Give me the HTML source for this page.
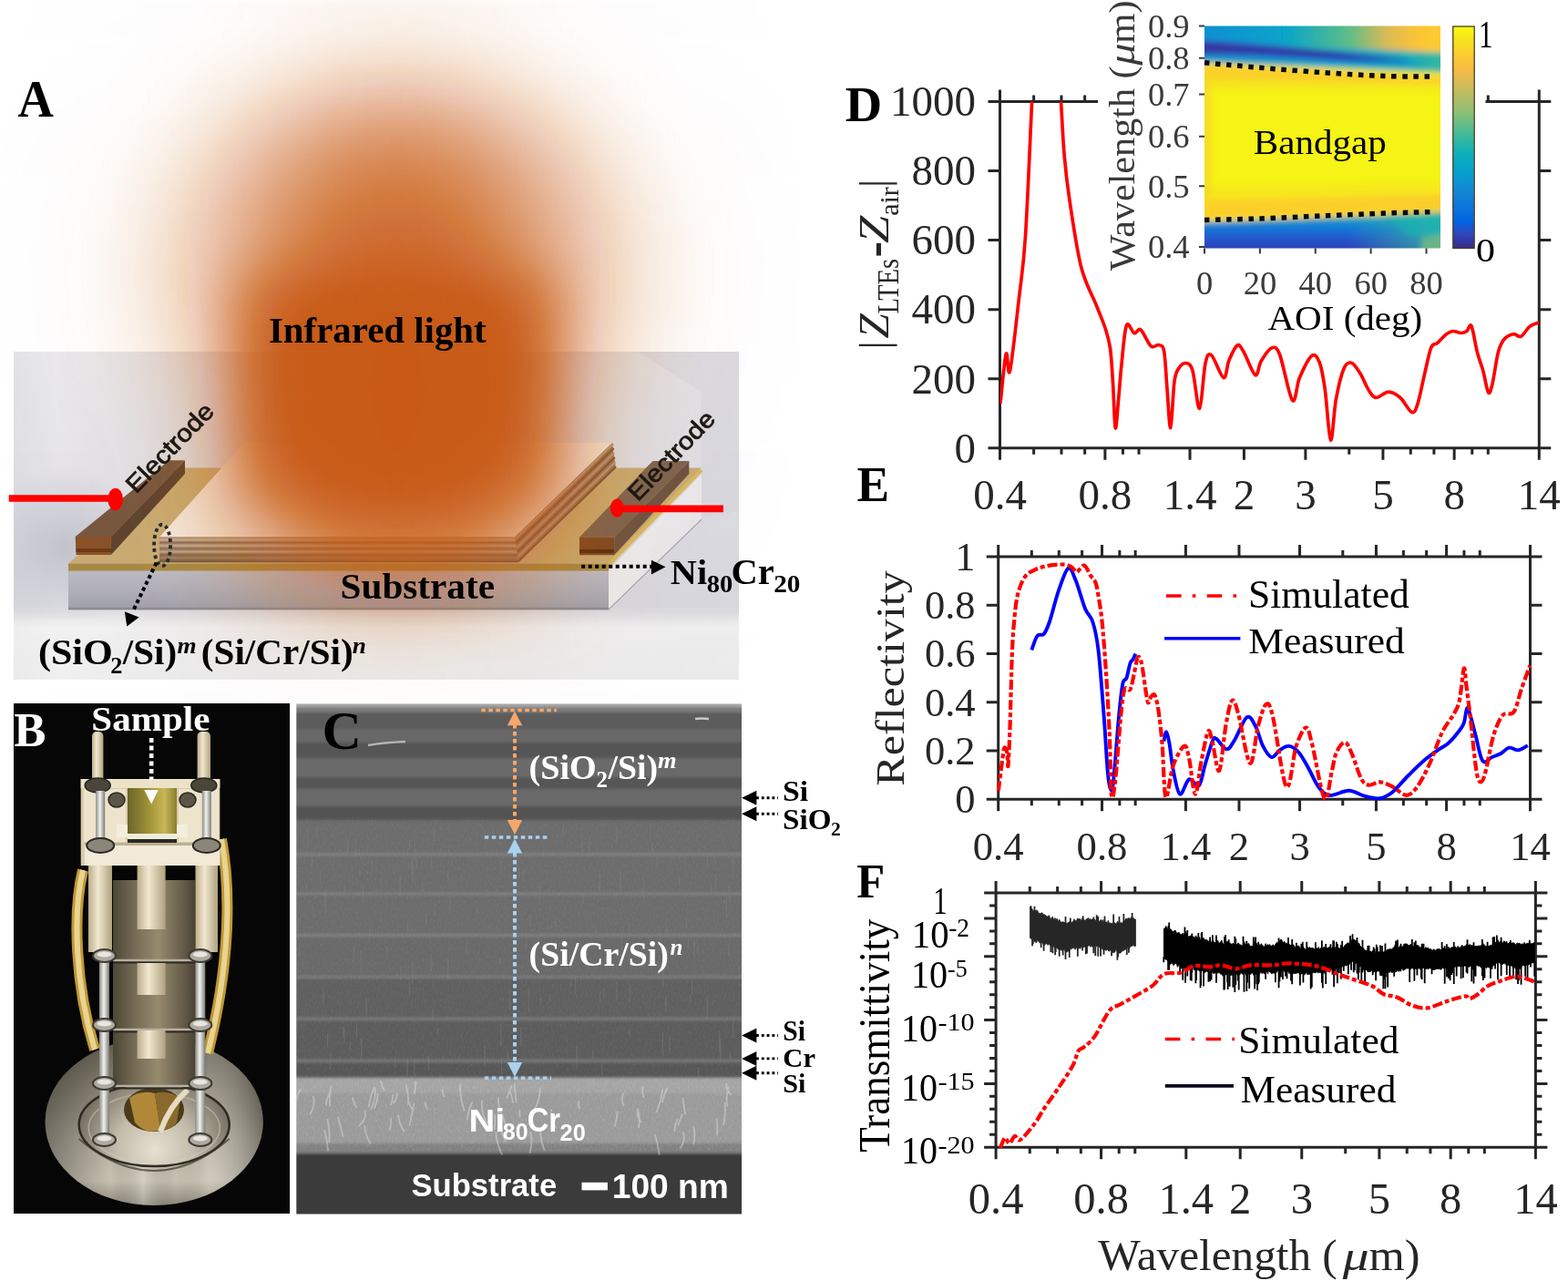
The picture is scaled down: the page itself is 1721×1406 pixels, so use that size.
<!DOCTYPE html><html><head><meta charset="utf-8"><title>Figure</title><style>html,body{margin:0;padding:0;background:#fff;}svg{display:block;}</style></head><body>
<svg width="1721" height="1406" viewBox="0 0 1721 1406">
<rect width="1721" height="1406" fill="#fff"/>
<defs>
<linearGradient id="gA_bg" x1="0" y1="0" x2="0" y2="1">
 <stop offset="0" stop-color="#e3e3e7"/><stop offset="0.45" stop-color="#dcdce2"/><stop offset="0.78" stop-color="#d6d6dc"/><stop offset="0.8" stop-color="#ececec"/><stop offset="1" stop-color="#ededed"/>
</linearGradient>
<linearGradient id="gA_bgx" x1="0" y1="0" x2="1" y2="0">
 <stop offset="0" stop-color="#ffffff" stop-opacity="0.0"/><stop offset="0.06" stop-color="#ffffff" stop-opacity="0.25"/><stop offset="0.25" stop-color="#ffffff" stop-opacity="0"/><stop offset="1" stop-color="#ffffff" stop-opacity="0"/>
</linearGradient>
<radialGradient id="gA_shadowL" cx="70" cy="600" r="90" gradientUnits="userSpaceOnUse">
 <stop offset="0" stop-color="#a8aab8" stop-opacity="0.55"/><stop offset="1" stop-color="#a8aab8" stop-opacity="0"/>
</radialGradient>
<linearGradient id="gA_sub" x1="0" y1="0" x2="0" y2="1">
 <stop offset="0" stop-color="#bcbcc6"/><stop offset="0.5" stop-color="#b0b0ba"/><stop offset="0.92" stop-color="#a2a2ac"/><stop offset="1" stop-color="#84848e"/>
</linearGradient>
<linearGradient id="gA_side" x1="0" y1="0" x2="1" y2="1">
 <stop offset="0" stop-color="#f4f4f4"/><stop offset="1" stop-color="#dedee2"/>
</linearGradient>
<linearGradient id="gA_film" x1="0" y1="0" x2="0" y2="1">
 <stop offset="0" stop-color="#a88868"/><stop offset="0.12" stop-color="#c8b098"/><stop offset="0.22" stop-color="#8a6a50"/><stop offset="0.34" stop-color="#c8b098"/><stop offset="0.46" stop-color="#8a6a50"/><stop offset="0.58" stop-color="#c0a890"/><stop offset="0.7" stop-color="#846448"/><stop offset="0.82" stop-color="#a08060"/><stop offset="1" stop-color="#6a5038"/>
</linearGradient>
<radialGradient id="gA_glow" cx="436" cy="380" r="340" gradientUnits="userSpaceOnUse" gradientTransform="translate(436 380) scale(1 1.08) translate(-436 -380)">
 <stop offset="0" stop-color="#c85a14" stop-opacity="1"/>
 <stop offset="0.40" stop-color="#c85c16" stop-opacity="1"/>
 <stop offset="0.47" stop-color="#ca601a" stop-opacity="0.9"/>
 <stop offset="0.56" stop-color="#cd6622" stop-opacity="0.72"/>
 <stop offset="0.64" stop-color="#d06c2a" stop-opacity="0.5"/>
 <stop offset="0.73" stop-color="#d47434" stop-opacity="0.3"/>
 <stop offset="0.815" stop-color="#d87c40" stop-opacity="0.15"/>
 <stop offset="0.9" stop-color="#dc8448" stop-opacity="0.05"/>
 <stop offset="1" stop-color="#e08c50" stop-opacity="0"/>
</radialGradient>
<linearGradient id="gA_floor" x1="0" y1="0" x2="0" y2="1">
 <stop offset="0" stop-color="#d8d8dc"/><stop offset="0.25" stop-color="#eeeeee"/><stop offset="1" stop-color="#eaeaea"/>
</linearGradient>
</defs>
<rect x="15" y="386" width="796" height="360" fill="url(#gA_bg)"/>
<rect x="15" y="669" width="796" height="77" fill="url(#gA_floor)"/>
<rect x="15" y="386" width="796" height="360" fill="url(#gA_bgx)"/>
<rect x="15" y="500" width="140" height="180" fill="url(#gA_shadowL)"/>
<path d="M700,386 H811 V560 L770,570 L770,430 Z" fill="#d4d4dc" opacity="0.5"/>
<path d="M75,626 L668,626 L668,669 L75,669 Z" fill="url(#gA_sub)"/>
<path d="M668,626 L770,521 L770,570 L668,669 Z" fill="url(#gA_side)"/>
<path d="M75,669 H668 L770,570" fill="none" stroke="#80808a" stroke-width="1.2" opacity="0.6"/>
<path d="M75,618.6 L195,513.6 L770,513.6 L668,618.6 Z" fill="#c9ab72"/>
<path d="M75,618.6 L668,618.6 L668,626.4 L75,626.4 Z" fill="#a88a44"/>
<path d="M668,620 L770,516" stroke="#d8b860" stroke-width="4"/>
<path d="M175,589.4 L268,486 L672,486 L565,589.4 Z" fill="#f4e8dc"/>
<path d="M175,589.4 L565,589.4 L569,617.3 L175,617.3 Z" fill="url(#gA_film)"/>
<path d="M565,589.4 L672,486 L676,514 L569,617.3 Z" fill="#a07858"/>
<path d="M566,591 L673,487" stroke="#b89878" stroke-width="2.2"/>
<path d="M566.6,596 L673.6,492" stroke="#7a5a40" stroke-width="2.2"/>
<path d="M567.2,601 L674.2,497" stroke="#b89878" stroke-width="2.2"/>
<path d="M567.8,606 L674.8,502" stroke="#7a5a40" stroke-width="2.2"/>
<path d="M568.4,611 L675.4,507" stroke="#b89878" stroke-width="2.2"/>
<path d="M569,616 L676,512" stroke="#7a5a40" stroke-width="2.2"/>
<path d="M82.7,589 L185.5,505.3 L203,505.3 L121.9,589 Z" fill="#785840"/>
<path d="M121.9,589 L203,505.3 L203,520 L121.9,609 Z" fill="#5e4430"/>
<path d="M82.7,589 L121.9,589 L121.9,609 L83.5,609 Z" fill="#8a5228"/>
<path d="M83.5,604 H121.9" stroke="#6a3a18" stroke-width="4"/>
<path d="M636,589.7 L716.4,506 L756.3,506 L674.2,589.7 Z" fill="#7e6450"/>
<path d="M674.2,589.7 L756.3,506 L756.3,520 L674.2,609.2 Z" fill="#6e5442"/>
<path d="M636,589.7 L674.2,589.7 L674.2,609.2 L636,609.2 Z" fill="#7e4a22"/>
<path d="M636,605 H674.2" stroke="#5a3010" stroke-width="4"/>
<defs><linearGradient id="gl0" gradientUnits="userSpaceOnUse" x1="436" y1="0" x2="886" y2="0" spreadMethod="reflect"><stop offset="0.000" stop-color="#c85a14" stop-opacity="0.074"/><stop offset="0.118" stop-color="#c85a14" stop-opacity="0.066"/><stop offset="0.502" stop-color="#c85a14" stop-opacity="0.008"/><stop offset="1.000" stop-color="#c85a14" stop-opacity="0.000"/></linearGradient><linearGradient id="gl1" gradientUnits="userSpaceOnUse" x1="436" y1="0" x2="886" y2="0" spreadMethod="reflect"><stop offset="0.000" stop-color="#c85a14" stop-opacity="0.077"/><stop offset="0.118" stop-color="#c85a14" stop-opacity="0.069"/><stop offset="0.502" stop-color="#c85a14" stop-opacity="0.008"/><stop offset="1.000" stop-color="#c85a14" stop-opacity="0.000"/></linearGradient><linearGradient id="gl2" gradientUnits="userSpaceOnUse" x1="436" y1="0" x2="886" y2="0" spreadMethod="reflect"><stop offset="0.000" stop-color="#c85a14" stop-opacity="0.084"/><stop offset="0.120" stop-color="#c85a14" stop-opacity="0.075"/><stop offset="0.504" stop-color="#c85a14" stop-opacity="0.009"/><stop offset="1.000" stop-color="#c85a14" stop-opacity="0.000"/></linearGradient><linearGradient id="gl3" gradientUnits="userSpaceOnUse" x1="436" y1="0" x2="886" y2="0" spreadMethod="reflect"><stop offset="0.000" stop-color="#c85a14" stop-opacity="0.095"/><stop offset="0.120" stop-color="#c85a14" stop-opacity="0.084"/><stop offset="0.371" stop-color="#c85a14" stop-opacity="0.030"/><stop offset="0.507" stop-color="#c85a14" stop-opacity="0.010"/><stop offset="1.000" stop-color="#c85a14" stop-opacity="0.000"/></linearGradient><linearGradient id="gl4" gradientUnits="userSpaceOnUse" x1="436" y1="0" x2="886" y2="0" spreadMethod="reflect"><stop offset="0.000" stop-color="#c85a14" stop-opacity="0.108"/><stop offset="0.122" stop-color="#c85a14" stop-opacity="0.096"/><stop offset="0.373" stop-color="#c85a14" stop-opacity="0.034"/><stop offset="0.509" stop-color="#c85a14" stop-opacity="0.012"/><stop offset="1.000" stop-color="#c85a14" stop-opacity="0.000"/></linearGradient><linearGradient id="gl5" gradientUnits="userSpaceOnUse" x1="436" y1="0" x2="886" y2="0" spreadMethod="reflect"><stop offset="0.000" stop-color="#c85a14" stop-opacity="0.126"/><stop offset="0.124" stop-color="#c85a14" stop-opacity="0.112"/><stop offset="0.378" stop-color="#c85a14" stop-opacity="0.039"/><stop offset="0.513" stop-color="#c85a14" stop-opacity="0.014"/><stop offset="0.680" stop-color="#c85a14" stop-opacity="0.002"/><stop offset="1.000" stop-color="#c85a14" stop-opacity="0.000"/></linearGradient><linearGradient id="gl6" gradientUnits="userSpaceOnUse" x1="436" y1="0" x2="886" y2="0" spreadMethod="reflect"><stop offset="0.000" stop-color="#c85a14" stop-opacity="0.148"/><stop offset="0.124" stop-color="#c85a14" stop-opacity="0.131"/><stop offset="0.380" stop-color="#c85a14" stop-opacity="0.046"/><stop offset="0.516" stop-color="#c85a14" stop-opacity="0.016"/><stop offset="0.682" stop-color="#c85a14" stop-opacity="0.003"/><stop offset="1.000" stop-color="#c85a14" stop-opacity="0.000"/></linearGradient><linearGradient id="gl7" gradientUnits="userSpaceOnUse" x1="436" y1="0" x2="886" y2="0" spreadMethod="reflect"><stop offset="0.000" stop-color="#c85a14" stop-opacity="0.174"/><stop offset="0.127" stop-color="#c85a14" stop-opacity="0.154"/><stop offset="0.384" stop-color="#c85a14" stop-opacity="0.054"/><stop offset="0.520" stop-color="#c85a14" stop-opacity="0.019"/><stop offset="0.687" stop-color="#c85a14" stop-opacity="0.003"/><stop offset="1.000" stop-color="#c85a14" stop-opacity="0.000"/></linearGradient><linearGradient id="gl8" gradientUnits="userSpaceOnUse" x1="436" y1="0" x2="886" y2="0" spreadMethod="reflect"><stop offset="0.000" stop-color="#c85a14" stop-opacity="0.204"/><stop offset="0.129" stop-color="#c85a14" stop-opacity="0.180"/><stop offset="0.387" stop-color="#c85a14" stop-opacity="0.064"/><stop offset="0.522" stop-color="#c85a14" stop-opacity="0.023"/><stop offset="0.689" stop-color="#c85a14" stop-opacity="0.004"/><stop offset="1.000" stop-color="#c85a14" stop-opacity="0.000"/></linearGradient><linearGradient id="gl9" gradientUnits="userSpaceOnUse" x1="436" y1="0" x2="886" y2="0" spreadMethod="reflect"><stop offset="0.000" stop-color="#c85a14" stop-opacity="0.238"/><stop offset="0.064" stop-color="#c85a14" stop-opacity="0.231"/><stop offset="0.131" stop-color="#c85a14" stop-opacity="0.210"/><stop offset="0.391" stop-color="#c85a14" stop-opacity="0.074"/><stop offset="0.527" stop-color="#c85a14" stop-opacity="0.026"/><stop offset="0.693" stop-color="#c85a14" stop-opacity="0.004"/><stop offset="1.000" stop-color="#c85a14" stop-opacity="0.000"/></linearGradient><linearGradient id="gl10" gradientUnits="userSpaceOnUse" x1="436" y1="0" x2="886" y2="0" spreadMethod="reflect"><stop offset="0.000" stop-color="#c85a14" stop-opacity="0.275"/><stop offset="0.064" stop-color="#c85a14" stop-opacity="0.267"/><stop offset="0.133" stop-color="#c85a14" stop-opacity="0.242"/><stop offset="0.396" stop-color="#c85a14" stop-opacity="0.085"/><stop offset="0.531" stop-color="#c85a14" stop-opacity="0.031"/><stop offset="0.696" stop-color="#c85a14" stop-opacity="0.005"/><stop offset="1.000" stop-color="#c85a14" stop-opacity="0.000"/></linearGradient><linearGradient id="gl11" gradientUnits="userSpaceOnUse" x1="436" y1="0" x2="886" y2="0" spreadMethod="reflect"><stop offset="0.000" stop-color="#c85a14" stop-opacity="0.315"/><stop offset="0.067" stop-color="#c85a14" stop-opacity="0.305"/><stop offset="0.136" stop-color="#c85a14" stop-opacity="0.277"/><stop offset="0.400" stop-color="#c85a14" stop-opacity="0.098"/><stop offset="0.536" stop-color="#c85a14" stop-opacity="0.035"/><stop offset="0.700" stop-color="#c85a14" stop-opacity="0.006"/><stop offset="1.000" stop-color="#c85a14" stop-opacity="0.000"/></linearGradient><linearGradient id="gl12" gradientUnits="userSpaceOnUse" x1="436" y1="0" x2="886" y2="0" spreadMethod="reflect"><stop offset="0.000" stop-color="#c85a14" stop-opacity="0.357"/><stop offset="0.067" stop-color="#c85a14" stop-opacity="0.346"/><stop offset="0.138" stop-color="#c85a14" stop-opacity="0.314"/><stop offset="0.404" stop-color="#c85a14" stop-opacity="0.111"/><stop offset="0.540" stop-color="#c85a14" stop-opacity="0.040"/><stop offset="0.704" stop-color="#c85a14" stop-opacity="0.007"/><stop offset="1.000" stop-color="#c85a14" stop-opacity="0.000"/></linearGradient><linearGradient id="gl13" gradientUnits="userSpaceOnUse" x1="436" y1="0" x2="886" y2="0" spreadMethod="reflect"><stop offset="0.000" stop-color="#c85a14" stop-opacity="0.400"/><stop offset="0.069" stop-color="#c85a14" stop-opacity="0.388"/><stop offset="0.142" stop-color="#c85a14" stop-opacity="0.351"/><stop offset="0.211" stop-color="#c85a14" stop-opacity="0.299"/><stop offset="0.411" stop-color="#c85a14" stop-opacity="0.123"/><stop offset="0.478" stop-color="#c85a14" stop-opacity="0.078"/><stop offset="0.544" stop-color="#c85a14" stop-opacity="0.045"/><stop offset="0.620" stop-color="#c85a14" stop-opacity="0.022"/><stop offset="0.709" stop-color="#c85a14" stop-opacity="0.008"/><stop offset="1.000" stop-color="#c85a14" stop-opacity="0.000"/></linearGradient><linearGradient id="gl14" gradientUnits="userSpaceOnUse" x1="436" y1="0" x2="886" y2="0" spreadMethod="reflect"><stop offset="0.000" stop-color="#c85a14" stop-opacity="0.444"/><stop offset="0.071" stop-color="#c85a14" stop-opacity="0.430"/><stop offset="0.144" stop-color="#c85a14" stop-opacity="0.390"/><stop offset="0.216" stop-color="#c85a14" stop-opacity="0.330"/><stop offset="0.416" stop-color="#c85a14" stop-opacity="0.137"/><stop offset="0.482" stop-color="#c85a14" stop-opacity="0.087"/><stop offset="0.549" stop-color="#c85a14" stop-opacity="0.051"/><stop offset="0.624" stop-color="#c85a14" stop-opacity="0.024"/><stop offset="0.711" stop-color="#c85a14" stop-opacity="0.009"/><stop offset="1.000" stop-color="#c85a14" stop-opacity="0.000"/></linearGradient><linearGradient id="gl15" gradientUnits="userSpaceOnUse" x1="436" y1="0" x2="886" y2="0" spreadMethod="reflect"><stop offset="0.000" stop-color="#c85a14" stop-opacity="0.487"/><stop offset="0.073" stop-color="#c85a14" stop-opacity="0.471"/><stop offset="0.149" stop-color="#c85a14" stop-opacity="0.426"/><stop offset="0.222" stop-color="#c85a14" stop-opacity="0.360"/><stop offset="0.422" stop-color="#c85a14" stop-opacity="0.149"/><stop offset="0.489" stop-color="#c85a14" stop-opacity="0.095"/><stop offset="0.556" stop-color="#c85a14" stop-opacity="0.055"/><stop offset="0.631" stop-color="#c85a14" stop-opacity="0.027"/><stop offset="0.718" stop-color="#c85a14" stop-opacity="0.010"/><stop offset="1.000" stop-color="#c85a14" stop-opacity="0.000"/></linearGradient><linearGradient id="gl16" gradientUnits="userSpaceOnUse" x1="436" y1="0" x2="886" y2="0" spreadMethod="reflect"><stop offset="0.000" stop-color="#c85a14" stop-opacity="0.528"/><stop offset="0.076" stop-color="#c85a14" stop-opacity="0.511"/><stop offset="0.153" stop-color="#c85a14" stop-opacity="0.461"/><stop offset="0.227" stop-color="#c85a14" stop-opacity="0.390"/><stop offset="0.431" stop-color="#c85a14" stop-opacity="0.159"/><stop offset="0.498" stop-color="#c85a14" stop-opacity="0.101"/><stop offset="0.562" stop-color="#c85a14" stop-opacity="0.059"/><stop offset="0.638" stop-color="#c85a14" stop-opacity="0.029"/><stop offset="0.722" stop-color="#c85a14" stop-opacity="0.011"/><stop offset="1.000" stop-color="#c85a14" stop-opacity="0.000"/></linearGradient><linearGradient id="gl17" gradientUnits="userSpaceOnUse" x1="436" y1="0" x2="886" y2="0" spreadMethod="reflect"><stop offset="0.000" stop-color="#c85a14" stop-opacity="0.567"/><stop offset="0.078" stop-color="#c85a14" stop-opacity="0.549"/><stop offset="0.158" stop-color="#c85a14" stop-opacity="0.495"/><stop offset="0.233" stop-color="#c85a14" stop-opacity="0.417"/><stop offset="0.438" stop-color="#c85a14" stop-opacity="0.170"/><stop offset="0.504" stop-color="#c85a14" stop-opacity="0.108"/><stop offset="0.569" stop-color="#c85a14" stop-opacity="0.064"/><stop offset="0.642" stop-color="#c85a14" stop-opacity="0.031"/><stop offset="0.727" stop-color="#c85a14" stop-opacity="0.012"/><stop offset="1.000" stop-color="#c85a14" stop-opacity="0.000"/></linearGradient><linearGradient id="gl18" gradientUnits="userSpaceOnUse" x1="436" y1="0" x2="886" y2="0" spreadMethod="reflect"><stop offset="0.000" stop-color="#c85a14" stop-opacity="0.604"/><stop offset="0.080" stop-color="#c85a14" stop-opacity="0.584"/><stop offset="0.162" stop-color="#c85a14" stop-opacity="0.526"/><stop offset="0.240" stop-color="#c85a14" stop-opacity="0.441"/><stop offset="0.444" stop-color="#c85a14" stop-opacity="0.180"/><stop offset="0.511" stop-color="#c85a14" stop-opacity="0.115"/><stop offset="0.576" stop-color="#c85a14" stop-opacity="0.068"/><stop offset="0.649" stop-color="#c85a14" stop-opacity="0.033"/><stop offset="0.733" stop-color="#c85a14" stop-opacity="0.013"/><stop offset="1.000" stop-color="#c85a14" stop-opacity="0.000"/></linearGradient><linearGradient id="gl19" gradientUnits="userSpaceOnUse" x1="436" y1="0" x2="886" y2="0" spreadMethod="reflect"><stop offset="0.000" stop-color="#c85a14" stop-opacity="0.638"/><stop offset="0.082" stop-color="#c85a14" stop-opacity="0.617"/><stop offset="0.169" stop-color="#c85a14" stop-opacity="0.552"/><stop offset="0.249" stop-color="#c85a14" stop-opacity="0.461"/><stop offset="0.453" stop-color="#c85a14" stop-opacity="0.188"/><stop offset="0.518" stop-color="#c85a14" stop-opacity="0.121"/><stop offset="0.582" stop-color="#c85a14" stop-opacity="0.071"/><stop offset="0.656" stop-color="#c85a14" stop-opacity="0.035"/><stop offset="0.738" stop-color="#c85a14" stop-opacity="0.013"/><stop offset="1.000" stop-color="#c85a14" stop-opacity="0.000"/></linearGradient><linearGradient id="gl20" gradientUnits="userSpaceOnUse" x1="436" y1="0" x2="886" y2="0" spreadMethod="reflect"><stop offset="0.000" stop-color="#c85a14" stop-opacity="0.668"/><stop offset="0.084" stop-color="#c85a14" stop-opacity="0.646"/><stop offset="0.173" stop-color="#c85a14" stop-opacity="0.578"/><stop offset="0.256" stop-color="#c85a14" stop-opacity="0.481"/><stop offset="0.460" stop-color="#c85a14" stop-opacity="0.196"/><stop offset="0.524" stop-color="#c85a14" stop-opacity="0.126"/><stop offset="0.589" stop-color="#c85a14" stop-opacity="0.074"/><stop offset="0.660" stop-color="#c85a14" stop-opacity="0.037"/><stop offset="0.742" stop-color="#c85a14" stop-opacity="0.014"/><stop offset="1.000" stop-color="#c85a14" stop-opacity="0.000"/></linearGradient><linearGradient id="gl21" gradientUnits="userSpaceOnUse" x1="436" y1="0" x2="886" y2="0" spreadMethod="reflect"><stop offset="0.000" stop-color="#c85a14" stop-opacity="0.695"/><stop offset="0.089" stop-color="#c85a14" stop-opacity="0.671"/><stop offset="0.180" stop-color="#c85a14" stop-opacity="0.599"/><stop offset="0.262" stop-color="#c85a14" stop-opacity="0.498"/><stop offset="0.467" stop-color="#c85a14" stop-opacity="0.204"/><stop offset="0.531" stop-color="#c85a14" stop-opacity="0.131"/><stop offset="0.593" stop-color="#c85a14" stop-opacity="0.079"/><stop offset="0.664" stop-color="#c85a14" stop-opacity="0.039"/><stop offset="0.747" stop-color="#c85a14" stop-opacity="0.015"/><stop offset="1.000" stop-color="#c85a14" stop-opacity="0.000"/></linearGradient><linearGradient id="gl22" gradientUnits="userSpaceOnUse" x1="436" y1="0" x2="886" y2="0" spreadMethod="reflect"><stop offset="0.000" stop-color="#c85a14" stop-opacity="0.720"/><stop offset="0.044" stop-color="#c85a14" stop-opacity="0.714"/><stop offset="0.091" stop-color="#c85a14" stop-opacity="0.695"/><stop offset="0.138" stop-color="#c85a14" stop-opacity="0.664"/><stop offset="0.184" stop-color="#c85a14" stop-opacity="0.620"/><stop offset="0.269" stop-color="#c85a14" stop-opacity="0.514"/><stop offset="0.476" stop-color="#c85a14" stop-opacity="0.207"/><stop offset="0.538" stop-color="#c85a14" stop-opacity="0.135"/><stop offset="0.600" stop-color="#c85a14" stop-opacity="0.081"/><stop offset="0.671" stop-color="#c85a14" stop-opacity="0.041"/><stop offset="0.751" stop-color="#c85a14" stop-opacity="0.016"/><stop offset="1.000" stop-color="#c85a14" stop-opacity="0.000"/></linearGradient><linearGradient id="gl23" gradientUnits="userSpaceOnUse" x1="436" y1="0" x2="886" y2="0" spreadMethod="reflect"><stop offset="0.000" stop-color="#c85a14" stop-opacity="0.743"/><stop offset="0.047" stop-color="#c85a14" stop-opacity="0.736"/><stop offset="0.093" stop-color="#c85a14" stop-opacity="0.717"/><stop offset="0.140" stop-color="#c85a14" stop-opacity="0.685"/><stop offset="0.189" stop-color="#c85a14" stop-opacity="0.638"/><stop offset="0.276" stop-color="#c85a14" stop-opacity="0.527"/><stop offset="0.482" stop-color="#c85a14" stop-opacity="0.213"/><stop offset="0.544" stop-color="#c85a14" stop-opacity="0.138"/><stop offset="0.607" stop-color="#c85a14" stop-opacity="0.083"/><stop offset="0.676" stop-color="#c85a14" stop-opacity="0.042"/><stop offset="0.756" stop-color="#c85a14" stop-opacity="0.017"/><stop offset="1.000" stop-color="#c85a14" stop-opacity="0.000"/></linearGradient><linearGradient id="gl24" gradientUnits="userSpaceOnUse" x1="436" y1="0" x2="886" y2="0" spreadMethod="reflect"><stop offset="0.000" stop-color="#c85a14" stop-opacity="0.763"/><stop offset="0.049" stop-color="#c85a14" stop-opacity="0.756"/><stop offset="0.096" stop-color="#c85a14" stop-opacity="0.737"/><stop offset="0.144" stop-color="#c85a14" stop-opacity="0.703"/><stop offset="0.193" stop-color="#c85a14" stop-opacity="0.655"/><stop offset="0.280" stop-color="#c85a14" stop-opacity="0.541"/><stop offset="0.489" stop-color="#c85a14" stop-opacity="0.217"/><stop offset="0.551" stop-color="#c85a14" stop-opacity="0.141"/><stop offset="0.611" stop-color="#c85a14" stop-opacity="0.086"/><stop offset="0.680" stop-color="#c85a14" stop-opacity="0.044"/><stop offset="0.760" stop-color="#c85a14" stop-opacity="0.017"/><stop offset="0.856" stop-color="#c85a14" stop-opacity="0.005"/><stop offset="1.000" stop-color="#c85a14" stop-opacity="0.000"/></linearGradient><linearGradient id="gl25" gradientUnits="userSpaceOnUse" x1="436" y1="0" x2="886" y2="0" spreadMethod="reflect"><stop offset="0.000" stop-color="#c85a14" stop-opacity="0.782"/><stop offset="0.051" stop-color="#c85a14" stop-opacity="0.775"/><stop offset="0.100" stop-color="#c85a14" stop-opacity="0.754"/><stop offset="0.149" stop-color="#c85a14" stop-opacity="0.719"/><stop offset="0.198" stop-color="#c85a14" stop-opacity="0.670"/><stop offset="0.284" stop-color="#c85a14" stop-opacity="0.554"/><stop offset="0.493" stop-color="#c85a14" stop-opacity="0.223"/><stop offset="0.556" stop-color="#c85a14" stop-opacity="0.145"/><stop offset="0.618" stop-color="#c85a14" stop-opacity="0.087"/><stop offset="0.687" stop-color="#c85a14" stop-opacity="0.044"/><stop offset="0.764" stop-color="#c85a14" stop-opacity="0.018"/><stop offset="0.858" stop-color="#c85a14" stop-opacity="0.005"/><stop offset="1.000" stop-color="#c85a14" stop-opacity="0.001"/></linearGradient><linearGradient id="gl26" gradientUnits="userSpaceOnUse" x1="436" y1="0" x2="886" y2="0" spreadMethod="reflect"><stop offset="0.000" stop-color="#c85a14" stop-opacity="0.800"/><stop offset="0.051" stop-color="#c85a14" stop-opacity="0.792"/><stop offset="0.100" stop-color="#c85a14" stop-opacity="0.772"/><stop offset="0.149" stop-color="#c85a14" stop-opacity="0.737"/><stop offset="0.200" stop-color="#c85a14" stop-opacity="0.686"/><stop offset="0.287" stop-color="#c85a14" stop-opacity="0.569"/><stop offset="0.500" stop-color="#c85a14" stop-opacity="0.224"/><stop offset="0.562" stop-color="#c85a14" stop-opacity="0.146"/><stop offset="0.622" stop-color="#c85a14" stop-opacity="0.089"/><stop offset="0.691" stop-color="#c85a14" stop-opacity="0.045"/><stop offset="0.767" stop-color="#c85a14" stop-opacity="0.019"/><stop offset="0.860" stop-color="#c85a14" stop-opacity="0.005"/><stop offset="1.000" stop-color="#c85a14" stop-opacity="0.001"/></linearGradient><linearGradient id="gl27" gradientUnits="userSpaceOnUse" x1="436" y1="0" x2="886" y2="0" spreadMethod="reflect"><stop offset="0.000" stop-color="#c85a14" stop-opacity="0.816"/><stop offset="0.051" stop-color="#c85a14" stop-opacity="0.809"/><stop offset="0.102" stop-color="#c85a14" stop-opacity="0.788"/><stop offset="0.151" stop-color="#c85a14" stop-opacity="0.753"/><stop offset="0.202" stop-color="#c85a14" stop-opacity="0.702"/><stop offset="0.291" stop-color="#c85a14" stop-opacity="0.579"/><stop offset="0.502" stop-color="#c85a14" stop-opacity="0.231"/><stop offset="0.564" stop-color="#c85a14" stop-opacity="0.151"/><stop offset="0.624" stop-color="#c85a14" stop-opacity="0.092"/><stop offset="0.693" stop-color="#c85a14" stop-opacity="0.047"/><stop offset="0.769" stop-color="#c85a14" stop-opacity="0.020"/><stop offset="0.862" stop-color="#c85a14" stop-opacity="0.005"/><stop offset="1.000" stop-color="#c85a14" stop-opacity="0.001"/></linearGradient><linearGradient id="gl28" gradientUnits="userSpaceOnUse" x1="436" y1="0" x2="886" y2="0" spreadMethod="reflect"><stop offset="0.000" stop-color="#c85a14" stop-opacity="0.833"/><stop offset="0.053" stop-color="#c85a14" stop-opacity="0.825"/><stop offset="0.104" stop-color="#c85a14" stop-opacity="0.803"/><stop offset="0.156" stop-color="#c85a14" stop-opacity="0.767"/><stop offset="0.207" stop-color="#c85a14" stop-opacity="0.714"/><stop offset="0.293" stop-color="#c85a14" stop-opacity="0.592"/><stop offset="0.504" stop-color="#c85a14" stop-opacity="0.237"/><stop offset="0.567" stop-color="#c85a14" stop-opacity="0.155"/><stop offset="0.629" stop-color="#c85a14" stop-opacity="0.093"/><stop offset="0.698" stop-color="#c85a14" stop-opacity="0.047"/><stop offset="0.773" stop-color="#c85a14" stop-opacity="0.020"/><stop offset="0.864" stop-color="#c85a14" stop-opacity="0.006"/><stop offset="1.000" stop-color="#c85a14" stop-opacity="0.001"/></linearGradient><linearGradient id="gl29" gradientUnits="userSpaceOnUse" x1="436" y1="0" x2="886" y2="0" spreadMethod="reflect"><stop offset="0.000" stop-color="#c85a14" stop-opacity="0.848"/><stop offset="0.053" stop-color="#c85a14" stop-opacity="0.841"/><stop offset="0.107" stop-color="#c85a14" stop-opacity="0.818"/><stop offset="0.158" stop-color="#c85a14" stop-opacity="0.781"/><stop offset="0.209" stop-color="#c85a14" stop-opacity="0.728"/><stop offset="0.296" stop-color="#c85a14" stop-opacity="0.604"/><stop offset="0.507" stop-color="#c85a14" stop-opacity="0.243"/><stop offset="0.569" stop-color="#c85a14" stop-opacity="0.158"/><stop offset="0.631" stop-color="#c85a14" stop-opacity="0.095"/><stop offset="0.700" stop-color="#c85a14" stop-opacity="0.048"/><stop offset="0.776" stop-color="#c85a14" stop-opacity="0.020"/><stop offset="0.867" stop-color="#c85a14" stop-opacity="0.006"/><stop offset="1.000" stop-color="#c85a14" stop-opacity="0.001"/></linearGradient><linearGradient id="gl30" gradientUnits="userSpaceOnUse" x1="436" y1="0" x2="886" y2="0" spreadMethod="reflect"><stop offset="0.000" stop-color="#c85a14" stop-opacity="0.862"/><stop offset="0.056" stop-color="#c85a14" stop-opacity="0.855"/><stop offset="0.109" stop-color="#c85a14" stop-opacity="0.833"/><stop offset="0.160" stop-color="#c85a14" stop-opacity="0.796"/><stop offset="0.211" stop-color="#c85a14" stop-opacity="0.742"/><stop offset="0.296" stop-color="#c85a14" stop-opacity="0.620"/><stop offset="0.447" stop-color="#c85a14" stop-opacity="0.349"/><stop offset="0.509" stop-color="#c85a14" stop-opacity="0.247"/><stop offset="0.571" stop-color="#c85a14" stop-opacity="0.161"/><stop offset="0.633" stop-color="#c85a14" stop-opacity="0.097"/><stop offset="0.700" stop-color="#c85a14" stop-opacity="0.051"/><stop offset="0.776" stop-color="#c85a14" stop-opacity="0.021"/><stop offset="0.867" stop-color="#c85a14" stop-opacity="0.006"/><stop offset="1.000" stop-color="#c85a14" stop-opacity="0.001"/></linearGradient><linearGradient id="gl31" gradientUnits="userSpaceOnUse" x1="436" y1="0" x2="886" y2="0" spreadMethod="reflect"><stop offset="0.000" stop-color="#c85a14" stop-opacity="0.876"/><stop offset="0.058" stop-color="#c85a14" stop-opacity="0.869"/><stop offset="0.111" stop-color="#c85a14" stop-opacity="0.847"/><stop offset="0.162" stop-color="#c85a14" stop-opacity="0.810"/><stop offset="0.213" stop-color="#c85a14" stop-opacity="0.756"/><stop offset="0.298" stop-color="#c85a14" stop-opacity="0.632"/><stop offset="0.447" stop-color="#c85a14" stop-opacity="0.358"/><stop offset="0.509" stop-color="#c85a14" stop-opacity="0.253"/><stop offset="0.573" stop-color="#c85a14" stop-opacity="0.163"/><stop offset="0.636" stop-color="#c85a14" stop-opacity="0.098"/><stop offset="0.702" stop-color="#c85a14" stop-opacity="0.051"/><stop offset="0.778" stop-color="#c85a14" stop-opacity="0.021"/><stop offset="0.869" stop-color="#c85a14" stop-opacity="0.006"/><stop offset="1.000" stop-color="#c85a14" stop-opacity="0.001"/></linearGradient><linearGradient id="gl32" gradientUnits="userSpaceOnUse" x1="436" y1="0" x2="886" y2="0" spreadMethod="reflect"><stop offset="0.000" stop-color="#c85a14" stop-opacity="0.890"/><stop offset="0.060" stop-color="#c85a14" stop-opacity="0.882"/><stop offset="0.116" stop-color="#c85a14" stop-opacity="0.859"/><stop offset="0.169" stop-color="#c85a14" stop-opacity="0.821"/><stop offset="0.220" stop-color="#c85a14" stop-opacity="0.766"/><stop offset="0.304" stop-color="#c85a14" stop-opacity="0.638"/><stop offset="0.447" stop-color="#c85a14" stop-opacity="0.367"/><stop offset="0.507" stop-color="#c85a14" stop-opacity="0.263"/><stop offset="0.571" stop-color="#c85a14" stop-opacity="0.170"/><stop offset="0.636" stop-color="#c85a14" stop-opacity="0.101"/><stop offset="0.702" stop-color="#c85a14" stop-opacity="0.053"/><stop offset="0.778" stop-color="#c85a14" stop-opacity="0.022"/><stop offset="0.869" stop-color="#c85a14" stop-opacity="0.006"/><stop offset="1.000" stop-color="#c85a14" stop-opacity="0.001"/></linearGradient><linearGradient id="gl33" gradientUnits="userSpaceOnUse" x1="436" y1="0" x2="886" y2="0" spreadMethod="reflect"><stop offset="0.000" stop-color="#c85a14" stop-opacity="0.903"/><stop offset="0.062" stop-color="#c85a14" stop-opacity="0.895"/><stop offset="0.120" stop-color="#c85a14" stop-opacity="0.872"/><stop offset="0.173" stop-color="#c85a14" stop-opacity="0.834"/><stop offset="0.224" stop-color="#c85a14" stop-opacity="0.780"/><stop offset="0.267" stop-color="#c85a14" stop-opacity="0.720"/><stop offset="0.311" stop-color="#c85a14" stop-opacity="0.645"/><stop offset="0.449" stop-color="#c85a14" stop-opacity="0.372"/><stop offset="0.507" stop-color="#c85a14" stop-opacity="0.268"/><stop offset="0.573" stop-color="#c85a14" stop-opacity="0.171"/><stop offset="0.638" stop-color="#c85a14" stop-opacity="0.101"/><stop offset="0.704" stop-color="#c85a14" stop-opacity="0.053"/><stop offset="0.780" stop-color="#c85a14" stop-opacity="0.022"/><stop offset="0.869" stop-color="#c85a14" stop-opacity="0.007"/><stop offset="1.000" stop-color="#c85a14" stop-opacity="0.001"/></linearGradient><linearGradient id="gl34" gradientUnits="userSpaceOnUse" x1="436" y1="0" x2="886" y2="0" spreadMethod="reflect"><stop offset="0.000" stop-color="#c85a14" stop-opacity="0.916"/><stop offset="0.067" stop-color="#c85a14" stop-opacity="0.908"/><stop offset="0.127" stop-color="#c85a14" stop-opacity="0.885"/><stop offset="0.182" stop-color="#c85a14" stop-opacity="0.845"/><stop offset="0.233" stop-color="#c85a14" stop-opacity="0.790"/><stop offset="0.276" stop-color="#c85a14" stop-opacity="0.729"/><stop offset="0.318" stop-color="#c85a14" stop-opacity="0.656"/><stop offset="0.451" stop-color="#c85a14" stop-opacity="0.376"/><stop offset="0.507" stop-color="#c85a14" stop-opacity="0.273"/><stop offset="0.571" stop-color="#c85a14" stop-opacity="0.176"/><stop offset="0.638" stop-color="#c85a14" stop-opacity="0.103"/><stop offset="0.704" stop-color="#c85a14" stop-opacity="0.054"/><stop offset="0.780" stop-color="#c85a14" stop-opacity="0.023"/><stop offset="0.871" stop-color="#c85a14" stop-opacity="0.007"/><stop offset="1.000" stop-color="#c85a14" stop-opacity="0.001"/></linearGradient><linearGradient id="gl35" gradientUnits="userSpaceOnUse" x1="436" y1="0" x2="886" y2="0" spreadMethod="reflect"><stop offset="0.000" stop-color="#c85a14" stop-opacity="0.929"/><stop offset="0.071" stop-color="#c85a14" stop-opacity="0.921"/><stop offset="0.136" stop-color="#c85a14" stop-opacity="0.897"/><stop offset="0.191" stop-color="#c85a14" stop-opacity="0.858"/><stop offset="0.244" stop-color="#c85a14" stop-opacity="0.800"/><stop offset="0.284" stop-color="#c85a14" stop-opacity="0.741"/><stop offset="0.327" stop-color="#c85a14" stop-opacity="0.664"/><stop offset="0.451" stop-color="#c85a14" stop-opacity="0.386"/><stop offset="0.504" stop-color="#c85a14" stop-opacity="0.281"/><stop offset="0.569" stop-color="#c85a14" stop-opacity="0.181"/><stop offset="0.636" stop-color="#c85a14" stop-opacity="0.106"/><stop offset="0.704" stop-color="#c85a14" stop-opacity="0.055"/><stop offset="0.780" stop-color="#c85a14" stop-opacity="0.023"/><stop offset="0.871" stop-color="#c85a14" stop-opacity="0.007"/><stop offset="1.000" stop-color="#c85a14" stop-opacity="0.001"/></linearGradient><linearGradient id="gl36" gradientUnits="userSpaceOnUse" x1="436" y1="0" x2="886" y2="0" spreadMethod="reflect"><stop offset="0.000" stop-color="#c85a14" stop-opacity="0.943"/><stop offset="0.078" stop-color="#c85a14" stop-opacity="0.934"/><stop offset="0.144" stop-color="#c85a14" stop-opacity="0.910"/><stop offset="0.202" stop-color="#c85a14" stop-opacity="0.871"/><stop offset="0.256" stop-color="#c85a14" stop-opacity="0.813"/><stop offset="0.296" stop-color="#c85a14" stop-opacity="0.752"/><stop offset="0.333" stop-color="#c85a14" stop-opacity="0.680"/><stop offset="0.451" stop-color="#c85a14" stop-opacity="0.396"/><stop offset="0.502" stop-color="#c85a14" stop-opacity="0.289"/><stop offset="0.567" stop-color="#c85a14" stop-opacity="0.186"/><stop offset="0.636" stop-color="#c85a14" stop-opacity="0.107"/><stop offset="0.704" stop-color="#c85a14" stop-opacity="0.055"/><stop offset="0.780" stop-color="#c85a14" stop-opacity="0.023"/><stop offset="0.871" stop-color="#c85a14" stop-opacity="0.007"/><stop offset="1.000" stop-color="#c85a14" stop-opacity="0.001"/></linearGradient><linearGradient id="gl37" gradientUnits="userSpaceOnUse" x1="436" y1="0" x2="886" y2="0" spreadMethod="reflect"><stop offset="0.000" stop-color="#c85a14" stop-opacity="0.955"/><stop offset="0.082" stop-color="#c85a14" stop-opacity="0.947"/><stop offset="0.153" stop-color="#c85a14" stop-opacity="0.924"/><stop offset="0.213" stop-color="#c85a14" stop-opacity="0.885"/><stop offset="0.264" stop-color="#c85a14" stop-opacity="0.830"/><stop offset="0.302" stop-color="#c85a14" stop-opacity="0.772"/><stop offset="0.340" stop-color="#c85a14" stop-opacity="0.695"/><stop offset="0.451" stop-color="#c85a14" stop-opacity="0.405"/><stop offset="0.500" stop-color="#c85a14" stop-opacity="0.296"/><stop offset="0.562" stop-color="#c85a14" stop-opacity="0.192"/><stop offset="0.633" stop-color="#c85a14" stop-opacity="0.109"/><stop offset="0.702" stop-color="#c85a14" stop-opacity="0.056"/><stop offset="0.778" stop-color="#c85a14" stop-opacity="0.024"/><stop offset="0.869" stop-color="#c85a14" stop-opacity="0.007"/><stop offset="1.000" stop-color="#c85a14" stop-opacity="0.001"/></linearGradient><linearGradient id="gl38" gradientUnits="userSpaceOnUse" x1="436" y1="0" x2="886" y2="0" spreadMethod="reflect"><stop offset="0.000" stop-color="#c85a14" stop-opacity="0.967"/><stop offset="0.089" stop-color="#c85a14" stop-opacity="0.960"/><stop offset="0.162" stop-color="#c85a14" stop-opacity="0.938"/><stop offset="0.222" stop-color="#c85a14" stop-opacity="0.902"/><stop offset="0.273" stop-color="#c85a14" stop-opacity="0.847"/><stop offset="0.309" stop-color="#c85a14" stop-opacity="0.791"/><stop offset="0.344" stop-color="#c85a14" stop-opacity="0.715"/><stop offset="0.451" stop-color="#c85a14" stop-opacity="0.414"/><stop offset="0.500" stop-color="#c85a14" stop-opacity="0.299"/><stop offset="0.560" stop-color="#c85a14" stop-opacity="0.195"/><stop offset="0.631" stop-color="#c85a14" stop-opacity="0.111"/><stop offset="0.700" stop-color="#c85a14" stop-opacity="0.058"/><stop offset="0.776" stop-color="#c85a14" stop-opacity="0.024"/><stop offset="0.867" stop-color="#c85a14" stop-opacity="0.007"/><stop offset="1.000" stop-color="#c85a14" stop-opacity="0.001"/></linearGradient><linearGradient id="gl39" gradientUnits="userSpaceOnUse" x1="436" y1="0" x2="886" y2="0" spreadMethod="reflect"><stop offset="0.000" stop-color="#c85a14" stop-opacity="0.977"/><stop offset="0.098" stop-color="#c85a14" stop-opacity="0.970"/><stop offset="0.173" stop-color="#c85a14" stop-opacity="0.951"/><stop offset="0.231" stop-color="#c85a14" stop-opacity="0.918"/><stop offset="0.280" stop-color="#c85a14" stop-opacity="0.866"/><stop offset="0.316" stop-color="#c85a14" stop-opacity="0.807"/><stop offset="0.349" stop-color="#c85a14" stop-opacity="0.731"/><stop offset="0.451" stop-color="#c85a14" stop-opacity="0.422"/><stop offset="0.498" stop-color="#c85a14" stop-opacity="0.305"/><stop offset="0.558" stop-color="#c85a14" stop-opacity="0.198"/><stop offset="0.629" stop-color="#c85a14" stop-opacity="0.112"/><stop offset="0.698" stop-color="#c85a14" stop-opacity="0.058"/><stop offset="0.776" stop-color="#c85a14" stop-opacity="0.024"/><stop offset="0.867" stop-color="#c85a14" stop-opacity="0.007"/><stop offset="1.000" stop-color="#c85a14" stop-opacity="0.001"/></linearGradient><linearGradient id="gl40" gradientUnits="userSpaceOnUse" x1="436" y1="0" x2="886" y2="0" spreadMethod="reflect"><stop offset="0.000" stop-color="#c85a14" stop-opacity="0.985"/><stop offset="0.104" stop-color="#c85a14" stop-opacity="0.979"/><stop offset="0.180" stop-color="#c85a14" stop-opacity="0.963"/><stop offset="0.238" stop-color="#c85a14" stop-opacity="0.932"/><stop offset="0.284" stop-color="#c85a14" stop-opacity="0.884"/><stop offset="0.318" stop-color="#c85a14" stop-opacity="0.827"/><stop offset="0.351" stop-color="#c85a14" stop-opacity="0.748"/><stop offset="0.451" stop-color="#c85a14" stop-opacity="0.428"/><stop offset="0.496" stop-color="#c85a14" stop-opacity="0.310"/><stop offset="0.553" stop-color="#c85a14" stop-opacity="0.203"/><stop offset="0.624" stop-color="#c85a14" stop-opacity="0.115"/><stop offset="0.696" stop-color="#c85a14" stop-opacity="0.059"/><stop offset="0.773" stop-color="#c85a14" stop-opacity="0.025"/><stop offset="0.867" stop-color="#c85a14" stop-opacity="0.007"/><stop offset="1.000" stop-color="#c85a14" stop-opacity="0.001"/></linearGradient><linearGradient id="gl41" gradientUnits="userSpaceOnUse" x1="436" y1="0" x2="886" y2="0" spreadMethod="reflect"><stop offset="0.000" stop-color="#c85a14" stop-opacity="0.991"/><stop offset="0.113" stop-color="#c85a14" stop-opacity="0.986"/><stop offset="0.189" stop-color="#c85a14" stop-opacity="0.972"/><stop offset="0.244" stop-color="#c85a14" stop-opacity="0.944"/><stop offset="0.289" stop-color="#c85a14" stop-opacity="0.897"/><stop offset="0.320" stop-color="#c85a14" stop-opacity="0.843"/><stop offset="0.351" stop-color="#c85a14" stop-opacity="0.766"/><stop offset="0.380" stop-color="#c85a14" stop-opacity="0.676"/><stop offset="0.451" stop-color="#c85a14" stop-opacity="0.432"/><stop offset="0.496" stop-color="#c85a14" stop-opacity="0.309"/><stop offset="0.551" stop-color="#c85a14" stop-opacity="0.204"/><stop offset="0.622" stop-color="#c85a14" stop-opacity="0.115"/><stop offset="0.693" stop-color="#c85a14" stop-opacity="0.059"/><stop offset="0.771" stop-color="#c85a14" stop-opacity="0.025"/><stop offset="0.864" stop-color="#c85a14" stop-opacity="0.007"/><stop offset="1.000" stop-color="#c85a14" stop-opacity="0.001"/></linearGradient><linearGradient id="gl42" gradientUnits="userSpaceOnUse" x1="436" y1="0" x2="886" y2="0" spreadMethod="reflect"><stop offset="0.000" stop-color="#c85a14" stop-opacity="0.995"/><stop offset="0.122" stop-color="#c85a14" stop-opacity="0.991"/><stop offset="0.196" stop-color="#c85a14" stop-opacity="0.979"/><stop offset="0.249" stop-color="#c85a14" stop-opacity="0.953"/><stop offset="0.291" stop-color="#c85a14" stop-opacity="0.909"/><stop offset="0.322" stop-color="#c85a14" stop-opacity="0.854"/><stop offset="0.353" stop-color="#c85a14" stop-opacity="0.774"/><stop offset="0.380" stop-color="#c85a14" stop-opacity="0.688"/><stop offset="0.449" stop-color="#c85a14" stop-opacity="0.441"/><stop offset="0.493" stop-color="#c85a14" stop-opacity="0.313"/><stop offset="0.520" stop-color="#c85a14" stop-opacity="0.254"/><stop offset="0.549" stop-color="#c85a14" stop-opacity="0.204"/><stop offset="0.620" stop-color="#c85a14" stop-opacity="0.115"/><stop offset="0.691" stop-color="#c85a14" stop-opacity="0.059"/><stop offset="0.769" stop-color="#c85a14" stop-opacity="0.025"/><stop offset="0.862" stop-color="#c85a14" stop-opacity="0.007"/><stop offset="1.000" stop-color="#c85a14" stop-opacity="0.001"/></linearGradient><linearGradient id="gl43" gradientUnits="userSpaceOnUse" x1="436" y1="0" x2="886" y2="0" spreadMethod="reflect"><stop offset="0.000" stop-color="#c85a14" stop-opacity="0.997"/><stop offset="0.202" stop-color="#c85a14" stop-opacity="0.984"/><stop offset="0.253" stop-color="#c85a14" stop-opacity="0.959"/><stop offset="0.293" stop-color="#c85a14" stop-opacity="0.917"/><stop offset="0.324" stop-color="#c85a14" stop-opacity="0.860"/><stop offset="0.353" stop-color="#c85a14" stop-opacity="0.784"/><stop offset="0.380" stop-color="#c85a14" stop-opacity="0.695"/><stop offset="0.449" stop-color="#c85a14" stop-opacity="0.441"/><stop offset="0.493" stop-color="#c85a14" stop-opacity="0.310"/><stop offset="0.547" stop-color="#c85a14" stop-opacity="0.203"/><stop offset="0.616" stop-color="#c85a14" stop-opacity="0.117"/><stop offset="0.687" stop-color="#c85a14" stop-opacity="0.060"/><stop offset="0.767" stop-color="#c85a14" stop-opacity="0.025"/><stop offset="0.862" stop-color="#c85a14" stop-opacity="0.007"/><stop offset="1.000" stop-color="#c85a14" stop-opacity="0.001"/></linearGradient><linearGradient id="gl44" gradientUnits="userSpaceOnUse" x1="436" y1="0" x2="886" y2="0" spreadMethod="reflect"><stop offset="0.000" stop-color="#c85a14" stop-opacity="0.999"/><stop offset="0.204" stop-color="#c85a14" stop-opacity="0.987"/><stop offset="0.253" stop-color="#c85a14" stop-opacity="0.966"/><stop offset="0.293" stop-color="#c85a14" stop-opacity="0.925"/><stop offset="0.324" stop-color="#c85a14" stop-opacity="0.868"/><stop offset="0.353" stop-color="#c85a14" stop-opacity="0.791"/><stop offset="0.380" stop-color="#c85a14" stop-opacity="0.700"/><stop offset="0.449" stop-color="#c85a14" stop-opacity="0.439"/><stop offset="0.491" stop-color="#c85a14" stop-opacity="0.311"/><stop offset="0.516" stop-color="#c85a14" stop-opacity="0.255"/><stop offset="0.544" stop-color="#c85a14" stop-opacity="0.202"/><stop offset="0.611" stop-color="#c85a14" stop-opacity="0.118"/><stop offset="0.682" stop-color="#c85a14" stop-opacity="0.061"/><stop offset="0.762" stop-color="#c85a14" stop-opacity="0.025"/><stop offset="0.858" stop-color="#c85a14" stop-opacity="0.007"/><stop offset="1.000" stop-color="#c85a14" stop-opacity="0.001"/></linearGradient><linearGradient id="gl45" gradientUnits="userSpaceOnUse" x1="436" y1="0" x2="886" y2="0" spreadMethod="reflect"><stop offset="0.000" stop-color="#c85a14" stop-opacity="0.999"/><stop offset="0.209" stop-color="#c85a14" stop-opacity="0.989"/><stop offset="0.258" stop-color="#c85a14" stop-opacity="0.968"/><stop offset="0.296" stop-color="#c85a14" stop-opacity="0.928"/><stop offset="0.327" stop-color="#c85a14" stop-opacity="0.869"/><stop offset="0.356" stop-color="#c85a14" stop-opacity="0.789"/><stop offset="0.382" stop-color="#c85a14" stop-opacity="0.695"/><stop offset="0.449" stop-color="#c85a14" stop-opacity="0.437"/><stop offset="0.491" stop-color="#c85a14" stop-opacity="0.306"/><stop offset="0.516" stop-color="#c85a14" stop-opacity="0.250"/><stop offset="0.542" stop-color="#c85a14" stop-opacity="0.201"/><stop offset="0.609" stop-color="#c85a14" stop-opacity="0.116"/><stop offset="0.680" stop-color="#c85a14" stop-opacity="0.060"/><stop offset="0.762" stop-color="#c85a14" stop-opacity="0.024"/><stop offset="0.858" stop-color="#c85a14" stop-opacity="0.007"/><stop offset="1.000" stop-color="#c85a14" stop-opacity="0.001"/></linearGradient><linearGradient id="gl46" gradientUnits="userSpaceOnUse" x1="436" y1="0" x2="886" y2="0" spreadMethod="reflect"><stop offset="0.000" stop-color="#c85a14" stop-opacity="1.000"/><stop offset="0.211" stop-color="#c85a14" stop-opacity="0.991"/><stop offset="0.258" stop-color="#c85a14" stop-opacity="0.971"/><stop offset="0.296" stop-color="#c85a14" stop-opacity="0.932"/><stop offset="0.327" stop-color="#c85a14" stop-opacity="0.873"/><stop offset="0.356" stop-color="#c85a14" stop-opacity="0.792"/><stop offset="0.382" stop-color="#c85a14" stop-opacity="0.696"/><stop offset="0.449" stop-color="#c85a14" stop-opacity="0.433"/><stop offset="0.489" stop-color="#c85a14" stop-opacity="0.307"/><stop offset="0.513" stop-color="#c85a14" stop-opacity="0.249"/><stop offset="0.540" stop-color="#c85a14" stop-opacity="0.199"/><stop offset="0.604" stop-color="#c85a14" stop-opacity="0.116"/><stop offset="0.676" stop-color="#c85a14" stop-opacity="0.060"/><stop offset="0.758" stop-color="#c85a14" stop-opacity="0.024"/><stop offset="0.856" stop-color="#c85a14" stop-opacity="0.007"/><stop offset="1.000" stop-color="#c85a14" stop-opacity="0.001"/></linearGradient><linearGradient id="gl47" gradientUnits="userSpaceOnUse" x1="436" y1="0" x2="886" y2="0" spreadMethod="reflect"><stop offset="0.000" stop-color="#c85a14" stop-opacity="1.000"/><stop offset="0.213" stop-color="#c85a14" stop-opacity="0.992"/><stop offset="0.260" stop-color="#c85a14" stop-opacity="0.972"/><stop offset="0.296" stop-color="#c85a14" stop-opacity="0.935"/><stop offset="0.327" stop-color="#c85a14" stop-opacity="0.876"/><stop offset="0.356" stop-color="#c85a14" stop-opacity="0.793"/><stop offset="0.382" stop-color="#c85a14" stop-opacity="0.696"/><stop offset="0.447" stop-color="#c85a14" stop-opacity="0.437"/><stop offset="0.489" stop-color="#c85a14" stop-opacity="0.301"/><stop offset="0.513" stop-color="#c85a14" stop-opacity="0.242"/><stop offset="0.538" stop-color="#c85a14" stop-opacity="0.196"/><stop offset="0.600" stop-color="#c85a14" stop-opacity="0.116"/><stop offset="0.673" stop-color="#c85a14" stop-opacity="0.059"/><stop offset="0.756" stop-color="#c85a14" stop-opacity="0.024"/><stop offset="0.853" stop-color="#c85a14" stop-opacity="0.006"/><stop offset="1.000" stop-color="#c85a14" stop-opacity="0.001"/></linearGradient><linearGradient id="gl48" gradientUnits="userSpaceOnUse" x1="436" y1="0" x2="886" y2="0" spreadMethod="reflect"><stop offset="0.000" stop-color="#c85a14" stop-opacity="1.000"/><stop offset="0.216" stop-color="#c85a14" stop-opacity="0.992"/><stop offset="0.262" stop-color="#c85a14" stop-opacity="0.972"/><stop offset="0.298" stop-color="#c85a14" stop-opacity="0.934"/><stop offset="0.327" stop-color="#c85a14" stop-opacity="0.877"/><stop offset="0.356" stop-color="#c85a14" stop-opacity="0.794"/><stop offset="0.382" stop-color="#c85a14" stop-opacity="0.695"/><stop offset="0.447" stop-color="#c85a14" stop-opacity="0.431"/><stop offset="0.487" stop-color="#c85a14" stop-opacity="0.300"/><stop offset="0.511" stop-color="#c85a14" stop-opacity="0.240"/><stop offset="0.536" stop-color="#c85a14" stop-opacity="0.193"/><stop offset="0.596" stop-color="#c85a14" stop-opacity="0.115"/><stop offset="0.667" stop-color="#c85a14" stop-opacity="0.059"/><stop offset="0.751" stop-color="#c85a14" stop-opacity="0.024"/><stop offset="0.851" stop-color="#c85a14" stop-opacity="0.006"/><stop offset="1.000" stop-color="#c85a14" stop-opacity="0.001"/></linearGradient><linearGradient id="gl49" gradientUnits="userSpaceOnUse" x1="436" y1="0" x2="886" y2="0" spreadMethod="reflect"><stop offset="0.000" stop-color="#c85a14" stop-opacity="1.000"/><stop offset="0.218" stop-color="#c85a14" stop-opacity="0.993"/><stop offset="0.262" stop-color="#c85a14" stop-opacity="0.973"/><stop offset="0.298" stop-color="#c85a14" stop-opacity="0.935"/><stop offset="0.327" stop-color="#c85a14" stop-opacity="0.878"/><stop offset="0.356" stop-color="#c85a14" stop-opacity="0.794"/><stop offset="0.382" stop-color="#c85a14" stop-opacity="0.693"/><stop offset="0.447" stop-color="#c85a14" stop-opacity="0.426"/><stop offset="0.487" stop-color="#c85a14" stop-opacity="0.293"/><stop offset="0.509" stop-color="#c85a14" stop-opacity="0.238"/><stop offset="0.533" stop-color="#c85a14" stop-opacity="0.190"/><stop offset="0.593" stop-color="#c85a14" stop-opacity="0.112"/><stop offset="0.664" stop-color="#c85a14" stop-opacity="0.058"/><stop offset="0.749" stop-color="#c85a14" stop-opacity="0.023"/><stop offset="0.849" stop-color="#c85a14" stop-opacity="0.006"/><stop offset="1.000" stop-color="#c85a14" stop-opacity="0.001"/></linearGradient><linearGradient id="gl50" gradientUnits="userSpaceOnUse" x1="436" y1="0" x2="886" y2="0" spreadMethod="reflect"><stop offset="0.000" stop-color="#c85a14" stop-opacity="1.000"/><stop offset="0.218" stop-color="#c85a14" stop-opacity="0.993"/><stop offset="0.262" stop-color="#c85a14" stop-opacity="0.974"/><stop offset="0.298" stop-color="#c85a14" stop-opacity="0.935"/><stop offset="0.327" stop-color="#c85a14" stop-opacity="0.878"/><stop offset="0.356" stop-color="#c85a14" stop-opacity="0.792"/><stop offset="0.380" stop-color="#c85a14" stop-opacity="0.700"/><stop offset="0.447" stop-color="#c85a14" stop-opacity="0.420"/><stop offset="0.484" stop-color="#c85a14" stop-opacity="0.292"/><stop offset="0.507" stop-color="#c85a14" stop-opacity="0.236"/><stop offset="0.531" stop-color="#c85a14" stop-opacity="0.187"/><stop offset="0.589" stop-color="#c85a14" stop-opacity="0.111"/><stop offset="0.660" stop-color="#c85a14" stop-opacity="0.057"/><stop offset="0.744" stop-color="#c85a14" stop-opacity="0.023"/><stop offset="0.847" stop-color="#c85a14" stop-opacity="0.006"/><stop offset="1.000" stop-color="#c85a14" stop-opacity="0.001"/></linearGradient><linearGradient id="gl51" gradientUnits="userSpaceOnUse" x1="436" y1="0" x2="886" y2="0" spreadMethod="reflect"><stop offset="0.000" stop-color="#c85a14" stop-opacity="1.000"/><stop offset="0.218" stop-color="#c85a14" stop-opacity="0.993"/><stop offset="0.262" stop-color="#c85a14" stop-opacity="0.974"/><stop offset="0.298" stop-color="#c85a14" stop-opacity="0.935"/><stop offset="0.327" stop-color="#c85a14" stop-opacity="0.877"/><stop offset="0.356" stop-color="#c85a14" stop-opacity="0.790"/><stop offset="0.382" stop-color="#c85a14" stop-opacity="0.687"/><stop offset="0.444" stop-color="#c85a14" stop-opacity="0.422"/><stop offset="0.484" stop-color="#c85a14" stop-opacity="0.285"/><stop offset="0.507" stop-color="#c85a14" stop-opacity="0.229"/><stop offset="0.529" stop-color="#c85a14" stop-opacity="0.184"/><stop offset="0.584" stop-color="#c85a14" stop-opacity="0.110"/><stop offset="0.656" stop-color="#c85a14" stop-opacity="0.056"/><stop offset="0.740" stop-color="#c85a14" stop-opacity="0.022"/><stop offset="0.842" stop-color="#c85a14" stop-opacity="0.006"/><stop offset="1.000" stop-color="#c85a14" stop-opacity="0.001"/></linearGradient><linearGradient id="gl52" gradientUnits="userSpaceOnUse" x1="436" y1="0" x2="886" y2="0" spreadMethod="reflect"><stop offset="0.000" stop-color="#c85a14" stop-opacity="1.000"/><stop offset="0.216" stop-color="#c85a14" stop-opacity="0.994"/><stop offset="0.260" stop-color="#c85a14" stop-opacity="0.976"/><stop offset="0.296" stop-color="#c85a14" stop-opacity="0.938"/><stop offset="0.327" stop-color="#c85a14" stop-opacity="0.876"/><stop offset="0.356" stop-color="#c85a14" stop-opacity="0.788"/><stop offset="0.380" stop-color="#c85a14" stop-opacity="0.693"/><stop offset="0.444" stop-color="#c85a14" stop-opacity="0.415"/><stop offset="0.482" stop-color="#c85a14" stop-opacity="0.284"/><stop offset="0.504" stop-color="#c85a14" stop-opacity="0.226"/><stop offset="0.527" stop-color="#c85a14" stop-opacity="0.181"/><stop offset="0.582" stop-color="#c85a14" stop-opacity="0.107"/><stop offset="0.653" stop-color="#c85a14" stop-opacity="0.054"/><stop offset="0.738" stop-color="#c85a14" stop-opacity="0.021"/><stop offset="0.840" stop-color="#c85a14" stop-opacity="0.005"/><stop offset="1.000" stop-color="#c85a14" stop-opacity="0.000"/></linearGradient><linearGradient id="gl53" gradientUnits="userSpaceOnUse" x1="436" y1="0" x2="886" y2="0" spreadMethod="reflect"><stop offset="0.000" stop-color="#c85a14" stop-opacity="1.000"/><stop offset="0.216" stop-color="#c85a14" stop-opacity="0.994"/><stop offset="0.260" stop-color="#c85a14" stop-opacity="0.975"/><stop offset="0.296" stop-color="#c85a14" stop-opacity="0.937"/><stop offset="0.324" stop-color="#c85a14" stop-opacity="0.879"/><stop offset="0.353" stop-color="#c85a14" stop-opacity="0.792"/><stop offset="0.380" stop-color="#c85a14" stop-opacity="0.688"/><stop offset="0.444" stop-color="#c85a14" stop-opacity="0.408"/><stop offset="0.482" stop-color="#c85a14" stop-opacity="0.277"/><stop offset="0.524" stop-color="#c85a14" stop-opacity="0.178"/><stop offset="0.578" stop-color="#c85a14" stop-opacity="0.106"/><stop offset="0.647" stop-color="#c85a14" stop-opacity="0.054"/><stop offset="0.733" stop-color="#c85a14" stop-opacity="0.021"/><stop offset="0.838" stop-color="#c85a14" stop-opacity="0.005"/><stop offset="1.000" stop-color="#c85a14" stop-opacity="0.000"/></linearGradient><linearGradient id="gl54" gradientUnits="userSpaceOnUse" x1="436" y1="0" x2="886" y2="0" spreadMethod="reflect"><stop offset="0.000" stop-color="#c85a14" stop-opacity="1.000"/><stop offset="0.216" stop-color="#c85a14" stop-opacity="0.993"/><stop offset="0.260" stop-color="#c85a14" stop-opacity="0.974"/><stop offset="0.296" stop-color="#c85a14" stop-opacity="0.935"/><stop offset="0.324" stop-color="#c85a14" stop-opacity="0.876"/><stop offset="0.353" stop-color="#c85a14" stop-opacity="0.788"/><stop offset="0.380" stop-color="#c85a14" stop-opacity="0.683"/><stop offset="0.442" stop-color="#c85a14" stop-opacity="0.410"/><stop offset="0.480" stop-color="#c85a14" stop-opacity="0.276"/><stop offset="0.502" stop-color="#c85a14" stop-opacity="0.217"/><stop offset="0.524" stop-color="#c85a14" stop-opacity="0.171"/><stop offset="0.576" stop-color="#c85a14" stop-opacity="0.102"/><stop offset="0.644" stop-color="#c85a14" stop-opacity="0.052"/><stop offset="0.729" stop-color="#c85a14" stop-opacity="0.020"/><stop offset="0.833" stop-color="#c85a14" stop-opacity="0.005"/><stop offset="1.000" stop-color="#c85a14" stop-opacity="0.000"/></linearGradient><linearGradient id="gl55" gradientUnits="userSpaceOnUse" x1="436" y1="0" x2="886" y2="0" spreadMethod="reflect"><stop offset="0.000" stop-color="#c85a14" stop-opacity="1.000"/><stop offset="0.216" stop-color="#c85a14" stop-opacity="0.993"/><stop offset="0.260" stop-color="#c85a14" stop-opacity="0.973"/><stop offset="0.296" stop-color="#c85a14" stop-opacity="0.933"/><stop offset="0.324" stop-color="#c85a14" stop-opacity="0.873"/><stop offset="0.353" stop-color="#c85a14" stop-opacity="0.784"/><stop offset="0.380" stop-color="#c85a14" stop-opacity="0.678"/><stop offset="0.442" stop-color="#c85a14" stop-opacity="0.403"/><stop offset="0.480" stop-color="#c85a14" stop-opacity="0.269"/><stop offset="0.500" stop-color="#c85a14" stop-opacity="0.216"/><stop offset="0.522" stop-color="#c85a14" stop-opacity="0.169"/><stop offset="0.573" stop-color="#c85a14" stop-opacity="0.099"/><stop offset="0.640" stop-color="#c85a14" stop-opacity="0.051"/><stop offset="0.727" stop-color="#c85a14" stop-opacity="0.019"/><stop offset="0.833" stop-color="#c85a14" stop-opacity="0.005"/><stop offset="1.000" stop-color="#c85a14" stop-opacity="0.000"/></linearGradient><linearGradient id="gl56" gradientUnits="userSpaceOnUse" x1="436" y1="0" x2="886" y2="0" spreadMethod="reflect"><stop offset="0.000" stop-color="#c85a14" stop-opacity="1.000"/><stop offset="0.213" stop-color="#c85a14" stop-opacity="0.993"/><stop offset="0.258" stop-color="#c85a14" stop-opacity="0.973"/><stop offset="0.293" stop-color="#c85a14" stop-opacity="0.933"/><stop offset="0.324" stop-color="#c85a14" stop-opacity="0.868"/><stop offset="0.353" stop-color="#c85a14" stop-opacity="0.778"/><stop offset="0.380" stop-color="#c85a14" stop-opacity="0.672"/><stop offset="0.442" stop-color="#c85a14" stop-opacity="0.396"/><stop offset="0.478" stop-color="#c85a14" stop-opacity="0.269"/><stop offset="0.498" stop-color="#c85a14" stop-opacity="0.214"/><stop offset="0.520" stop-color="#c85a14" stop-opacity="0.167"/><stop offset="0.571" stop-color="#c85a14" stop-opacity="0.097"/><stop offset="0.638" stop-color="#c85a14" stop-opacity="0.048"/><stop offset="0.722" stop-color="#c85a14" stop-opacity="0.019"/><stop offset="0.829" stop-color="#c85a14" stop-opacity="0.005"/><stop offset="1.000" stop-color="#c85a14" stop-opacity="0.000"/></linearGradient><linearGradient id="gl57" gradientUnits="userSpaceOnUse" x1="436" y1="0" x2="886" y2="0" spreadMethod="reflect"><stop offset="0.000" stop-color="#c85a14" stop-opacity="1.000"/><stop offset="0.211" stop-color="#c85a14" stop-opacity="0.992"/><stop offset="0.258" stop-color="#c85a14" stop-opacity="0.970"/><stop offset="0.293" stop-color="#c85a14" stop-opacity="0.929"/><stop offset="0.324" stop-color="#c85a14" stop-opacity="0.863"/><stop offset="0.353" stop-color="#c85a14" stop-opacity="0.772"/><stop offset="0.378" stop-color="#c85a14" stop-opacity="0.674"/><stop offset="0.440" stop-color="#c85a14" stop-opacity="0.398"/><stop offset="0.478" stop-color="#c85a14" stop-opacity="0.262"/><stop offset="0.498" stop-color="#c85a14" stop-opacity="0.208"/><stop offset="0.520" stop-color="#c85a14" stop-opacity="0.161"/><stop offset="0.569" stop-color="#c85a14" stop-opacity="0.094"/><stop offset="0.636" stop-color="#c85a14" stop-opacity="0.046"/><stop offset="0.720" stop-color="#c85a14" stop-opacity="0.018"/><stop offset="0.827" stop-color="#c85a14" stop-opacity="0.004"/><stop offset="1.000" stop-color="#c85a14" stop-opacity="0.000"/></linearGradient><linearGradient id="gl58" gradientUnits="userSpaceOnUse" x1="436" y1="0" x2="886" y2="0" spreadMethod="reflect"><stop offset="0.000" stop-color="#c85a14" stop-opacity="1.000"/><stop offset="0.209" stop-color="#c85a14" stop-opacity="0.991"/><stop offset="0.256" stop-color="#c85a14" stop-opacity="0.969"/><stop offset="0.291" stop-color="#c85a14" stop-opacity="0.928"/><stop offset="0.322" stop-color="#c85a14" stop-opacity="0.863"/><stop offset="0.351" stop-color="#c85a14" stop-opacity="0.773"/><stop offset="0.378" stop-color="#c85a14" stop-opacity="0.667"/><stop offset="0.440" stop-color="#c85a14" stop-opacity="0.391"/><stop offset="0.478" stop-color="#c85a14" stop-opacity="0.256"/><stop offset="0.518" stop-color="#c85a14" stop-opacity="0.159"/><stop offset="0.567" stop-color="#c85a14" stop-opacity="0.092"/><stop offset="0.631" stop-color="#c85a14" stop-opacity="0.046"/><stop offset="0.716" stop-color="#c85a14" stop-opacity="0.017"/><stop offset="0.822" stop-color="#c85a14" stop-opacity="0.004"/><stop offset="1.000" stop-color="#c85a14" stop-opacity="0.000"/></linearGradient><linearGradient id="gl59" gradientUnits="userSpaceOnUse" x1="436" y1="0" x2="886" y2="0" spreadMethod="reflect"><stop offset="0.000" stop-color="#c85a14" stop-opacity="1.000"/><stop offset="0.204" stop-color="#c85a14" stop-opacity="0.990"/><stop offset="0.251" stop-color="#c85a14" stop-opacity="0.969"/><stop offset="0.289" stop-color="#c85a14" stop-opacity="0.926"/><stop offset="0.320" stop-color="#c85a14" stop-opacity="0.861"/><stop offset="0.351" stop-color="#c85a14" stop-opacity="0.765"/><stop offset="0.378" stop-color="#c85a14" stop-opacity="0.659"/><stop offset="0.440" stop-color="#c85a14" stop-opacity="0.384"/><stop offset="0.476" stop-color="#c85a14" stop-opacity="0.256"/><stop offset="0.516" stop-color="#c85a14" stop-opacity="0.158"/><stop offset="0.564" stop-color="#c85a14" stop-opacity="0.090"/><stop offset="0.627" stop-color="#c85a14" stop-opacity="0.045"/><stop offset="0.711" stop-color="#c85a14" stop-opacity="0.017"/><stop offset="0.820" stop-color="#c85a14" stop-opacity="0.004"/><stop offset="1.000" stop-color="#c85a14" stop-opacity="0.000"/></linearGradient><linearGradient id="gl60" gradientUnits="userSpaceOnUse" x1="436" y1="0" x2="886" y2="0" spreadMethod="reflect"><stop offset="0.000" stop-color="#c85a14" stop-opacity="1.000"/><stop offset="0.202" stop-color="#c85a14" stop-opacity="0.989"/><stop offset="0.251" stop-color="#c85a14" stop-opacity="0.964"/><stop offset="0.289" stop-color="#c85a14" stop-opacity="0.918"/><stop offset="0.320" stop-color="#c85a14" stop-opacity="0.853"/><stop offset="0.349" stop-color="#c85a14" stop-opacity="0.763"/><stop offset="0.376" stop-color="#c85a14" stop-opacity="0.659"/><stop offset="0.440" stop-color="#c85a14" stop-opacity="0.376"/><stop offset="0.476" stop-color="#c85a14" stop-opacity="0.250"/><stop offset="0.516" stop-color="#c85a14" stop-opacity="0.153"/><stop offset="0.564" stop-color="#c85a14" stop-opacity="0.086"/><stop offset="0.627" stop-color="#c85a14" stop-opacity="0.042"/><stop offset="0.709" stop-color="#c85a14" stop-opacity="0.016"/><stop offset="0.818" stop-color="#c85a14" stop-opacity="0.004"/><stop offset="1.000" stop-color="#c85a14" stop-opacity="0.000"/></linearGradient><linearGradient id="gl61" gradientUnits="userSpaceOnUse" x1="436" y1="0" x2="886" y2="0" spreadMethod="reflect"><stop offset="0.000" stop-color="#c85a14" stop-opacity="0.999"/><stop offset="0.198" stop-color="#c85a14" stop-opacity="0.987"/><stop offset="0.247" stop-color="#c85a14" stop-opacity="0.961"/><stop offset="0.287" stop-color="#c85a14" stop-opacity="0.913"/><stop offset="0.318" stop-color="#c85a14" stop-opacity="0.848"/><stop offset="0.349" stop-color="#c85a14" stop-opacity="0.752"/><stop offset="0.376" stop-color="#c85a14" stop-opacity="0.648"/><stop offset="0.440" stop-color="#c85a14" stop-opacity="0.368"/><stop offset="0.476" stop-color="#c85a14" stop-opacity="0.243"/><stop offset="0.516" stop-color="#c85a14" stop-opacity="0.148"/><stop offset="0.562" stop-color="#c85a14" stop-opacity="0.084"/><stop offset="0.624" stop-color="#c85a14" stop-opacity="0.040"/><stop offset="0.704" stop-color="#c85a14" stop-opacity="0.015"/><stop offset="0.813" stop-color="#c85a14" stop-opacity="0.003"/><stop offset="1.000" stop-color="#c85a14" stop-opacity="0.000"/></linearGradient><linearGradient id="gl62" gradientUnits="userSpaceOnUse" x1="436" y1="0" x2="886" y2="0" spreadMethod="reflect"><stop offset="0.000" stop-color="#c85a14" stop-opacity="0.998"/><stop offset="0.124" stop-color="#c85a14" stop-opacity="0.995"/><stop offset="0.191" stop-color="#c85a14" stop-opacity="0.984"/><stop offset="0.242" stop-color="#c85a14" stop-opacity="0.957"/><stop offset="0.282" stop-color="#c85a14" stop-opacity="0.909"/><stop offset="0.316" stop-color="#c85a14" stop-opacity="0.841"/><stop offset="0.347" stop-color="#c85a14" stop-opacity="0.747"/><stop offset="0.373" stop-color="#c85a14" stop-opacity="0.644"/><stop offset="0.438" stop-color="#c85a14" stop-opacity="0.368"/><stop offset="0.473" stop-color="#c85a14" stop-opacity="0.243"/><stop offset="0.513" stop-color="#c85a14" stop-opacity="0.147"/><stop offset="0.560" stop-color="#c85a14" stop-opacity="0.082"/><stop offset="0.620" stop-color="#c85a14" stop-opacity="0.040"/><stop offset="0.702" stop-color="#c85a14" stop-opacity="0.014"/><stop offset="1.000" stop-color="#c85a14" stop-opacity="0.000"/></linearGradient><linearGradient id="gl63" gradientUnits="userSpaceOnUse" x1="436" y1="0" x2="886" y2="0" spreadMethod="reflect"><stop offset="0.000" stop-color="#c85a14" stop-opacity="0.996"/><stop offset="0.118" stop-color="#c85a14" stop-opacity="0.993"/><stop offset="0.187" stop-color="#c85a14" stop-opacity="0.980"/><stop offset="0.238" stop-color="#c85a14" stop-opacity="0.951"/><stop offset="0.280" stop-color="#c85a14" stop-opacity="0.899"/><stop offset="0.313" stop-color="#c85a14" stop-opacity="0.831"/><stop offset="0.344" stop-color="#c85a14" stop-opacity="0.739"/><stop offset="0.373" stop-color="#c85a14" stop-opacity="0.630"/><stop offset="0.438" stop-color="#c85a14" stop-opacity="0.359"/><stop offset="0.473" stop-color="#c85a14" stop-opacity="0.236"/><stop offset="0.513" stop-color="#c85a14" stop-opacity="0.142"/><stop offset="0.558" stop-color="#c85a14" stop-opacity="0.081"/><stop offset="0.618" stop-color="#c85a14" stop-opacity="0.039"/><stop offset="0.698" stop-color="#c85a14" stop-opacity="0.014"/><stop offset="1.000" stop-color="#c85a14" stop-opacity="0.000"/></linearGradient><linearGradient id="gl64" gradientUnits="userSpaceOnUse" x1="436" y1="0" x2="886" y2="0" spreadMethod="reflect"><stop offset="0.000" stop-color="#c85a14" stop-opacity="0.993"/><stop offset="0.111" stop-color="#c85a14" stop-opacity="0.989"/><stop offset="0.180" stop-color="#c85a14" stop-opacity="0.974"/><stop offset="0.233" stop-color="#c85a14" stop-opacity="0.942"/><stop offset="0.276" stop-color="#c85a14" stop-opacity="0.890"/><stop offset="0.309" stop-color="#c85a14" stop-opacity="0.823"/><stop offset="0.342" stop-color="#c85a14" stop-opacity="0.727"/><stop offset="0.371" stop-color="#c85a14" stop-opacity="0.621"/><stop offset="0.438" stop-color="#c85a14" stop-opacity="0.348"/><stop offset="0.473" stop-color="#c85a14" stop-opacity="0.229"/><stop offset="0.513" stop-color="#c85a14" stop-opacity="0.137"/><stop offset="0.558" stop-color="#c85a14" stop-opacity="0.077"/><stop offset="0.618" stop-color="#c85a14" stop-opacity="0.036"/><stop offset="0.696" stop-color="#c85a14" stop-opacity="0.013"/><stop offset="1.000" stop-color="#c85a14" stop-opacity="0.000"/></linearGradient><linearGradient id="gl65" gradientUnits="userSpaceOnUse" x1="436" y1="0" x2="886" y2="0" spreadMethod="reflect"><stop offset="0.000" stop-color="#c85a14" stop-opacity="0.988"/><stop offset="0.104" stop-color="#c85a14" stop-opacity="0.983"/><stop offset="0.173" stop-color="#c85a14" stop-opacity="0.966"/><stop offset="0.227" stop-color="#c85a14" stop-opacity="0.932"/><stop offset="0.271" stop-color="#c85a14" stop-opacity="0.876"/><stop offset="0.307" stop-color="#c85a14" stop-opacity="0.805"/><stop offset="0.340" stop-color="#c85a14" stop-opacity="0.711"/><stop offset="0.371" stop-color="#c85a14" stop-opacity="0.600"/><stop offset="0.436" stop-color="#c85a14" stop-opacity="0.344"/><stop offset="0.471" stop-color="#c85a14" stop-opacity="0.227"/><stop offset="0.511" stop-color="#c85a14" stop-opacity="0.136"/><stop offset="0.556" stop-color="#c85a14" stop-opacity="0.076"/><stop offset="0.616" stop-color="#c85a14" stop-opacity="0.035"/><stop offset="0.693" stop-color="#c85a14" stop-opacity="0.012"/><stop offset="1.000" stop-color="#c85a14" stop-opacity="0.000"/></linearGradient><linearGradient id="gl66" gradientUnits="userSpaceOnUse" x1="436" y1="0" x2="886" y2="0" spreadMethod="reflect"><stop offset="0.000" stop-color="#c85a14" stop-opacity="0.980"/><stop offset="0.100" stop-color="#c85a14" stop-opacity="0.973"/><stop offset="0.167" stop-color="#c85a14" stop-opacity="0.955"/><stop offset="0.220" stop-color="#c85a14" stop-opacity="0.918"/><stop offset="0.267" stop-color="#c85a14" stop-opacity="0.858"/><stop offset="0.302" stop-color="#c85a14" stop-opacity="0.787"/><stop offset="0.338" stop-color="#c85a14" stop-opacity="0.690"/><stop offset="0.369" stop-color="#c85a14" stop-opacity="0.583"/><stop offset="0.436" stop-color="#c85a14" stop-opacity="0.329"/><stop offset="0.469" stop-color="#c85a14" stop-opacity="0.223"/><stop offset="0.509" stop-color="#c85a14" stop-opacity="0.134"/><stop offset="0.553" stop-color="#c85a14" stop-opacity="0.074"/><stop offset="0.611" stop-color="#c85a14" stop-opacity="0.035"/><stop offset="0.689" stop-color="#c85a14" stop-opacity="0.012"/><stop offset="1.000" stop-color="#c85a14" stop-opacity="0.000"/></linearGradient><linearGradient id="gl67" gradientUnits="userSpaceOnUse" x1="436" y1="0" x2="886" y2="0" spreadMethod="reflect"><stop offset="0.000" stop-color="#c85a14" stop-opacity="0.968"/><stop offset="0.091" stop-color="#c85a14" stop-opacity="0.962"/><stop offset="0.158" stop-color="#c85a14" stop-opacity="0.941"/><stop offset="0.211" stop-color="#c85a14" stop-opacity="0.903"/><stop offset="0.258" stop-color="#c85a14" stop-opacity="0.843"/><stop offset="0.296" stop-color="#c85a14" stop-opacity="0.769"/><stop offset="0.333" stop-color="#c85a14" stop-opacity="0.670"/><stop offset="0.364" stop-color="#c85a14" stop-opacity="0.568"/><stop offset="0.433" stop-color="#c85a14" stop-opacity="0.319"/><stop offset="0.469" stop-color="#c85a14" stop-opacity="0.212"/><stop offset="0.507" stop-color="#c85a14" stop-opacity="0.131"/><stop offset="0.551" stop-color="#c85a14" stop-opacity="0.073"/><stop offset="0.609" stop-color="#c85a14" stop-opacity="0.033"/><stop offset="0.687" stop-color="#c85a14" stop-opacity="0.011"/><stop offset="1.000" stop-color="#c85a14" stop-opacity="0.000"/></linearGradient><linearGradient id="gl68" gradientUnits="userSpaceOnUse" x1="436" y1="0" x2="886" y2="0" spreadMethod="reflect"><stop offset="0.000" stop-color="#c85a14" stop-opacity="0.953"/><stop offset="0.084" stop-color="#c85a14" stop-opacity="0.946"/><stop offset="0.149" stop-color="#c85a14" stop-opacity="0.924"/><stop offset="0.202" stop-color="#c85a14" stop-opacity="0.883"/><stop offset="0.249" stop-color="#c85a14" stop-opacity="0.822"/><stop offset="0.289" stop-color="#c85a14" stop-opacity="0.746"/><stop offset="0.327" stop-color="#c85a14" stop-opacity="0.650"/><stop offset="0.360" stop-color="#c85a14" stop-opacity="0.548"/><stop offset="0.429" stop-color="#c85a14" stop-opacity="0.313"/><stop offset="0.464" stop-color="#c85a14" stop-opacity="0.211"/><stop offset="0.504" stop-color="#c85a14" stop-opacity="0.127"/><stop offset="0.549" stop-color="#c85a14" stop-opacity="0.071"/><stop offset="0.607" stop-color="#c85a14" stop-opacity="0.032"/><stop offset="0.684" stop-color="#c85a14" stop-opacity="0.010"/><stop offset="1.000" stop-color="#c85a14" stop-opacity="0.000"/></linearGradient><linearGradient id="gl69" gradientUnits="userSpaceOnUse" x1="436" y1="0" x2="886" y2="0" spreadMethod="reflect"><stop offset="0.000" stop-color="#c85a14" stop-opacity="0.933"/><stop offset="0.078" stop-color="#c85a14" stop-opacity="0.925"/><stop offset="0.140" stop-color="#c85a14" stop-opacity="0.902"/><stop offset="0.191" stop-color="#c85a14" stop-opacity="0.862"/><stop offset="0.238" stop-color="#c85a14" stop-opacity="0.802"/><stop offset="0.278" stop-color="#c85a14" stop-opacity="0.727"/><stop offset="0.318" stop-color="#c85a14" stop-opacity="0.631"/><stop offset="0.353" stop-color="#c85a14" stop-opacity="0.528"/><stop offset="0.424" stop-color="#c85a14" stop-opacity="0.303"/><stop offset="0.460" stop-color="#c85a14" stop-opacity="0.207"/><stop offset="0.500" stop-color="#c85a14" stop-opacity="0.127"/><stop offset="0.544" stop-color="#c85a14" stop-opacity="0.071"/><stop offset="0.602" stop-color="#c85a14" stop-opacity="0.032"/><stop offset="0.680" stop-color="#c85a14" stop-opacity="0.010"/><stop offset="1.000" stop-color="#c85a14" stop-opacity="0.000"/></linearGradient><linearGradient id="gl70" gradientUnits="userSpaceOnUse" x1="436" y1="0" x2="886" y2="0" spreadMethod="reflect"><stop offset="0.000" stop-color="#c85a14" stop-opacity="0.908"/><stop offset="0.071" stop-color="#c85a14" stop-opacity="0.900"/><stop offset="0.129" stop-color="#c85a14" stop-opacity="0.878"/><stop offset="0.178" stop-color="#c85a14" stop-opacity="0.840"/><stop offset="0.224" stop-color="#c85a14" stop-opacity="0.781"/><stop offset="0.264" stop-color="#c85a14" stop-opacity="0.709"/><stop offset="0.307" stop-color="#c85a14" stop-opacity="0.612"/><stop offset="0.418" stop-color="#c85a14" stop-opacity="0.296"/><stop offset="0.456" stop-color="#c85a14" stop-opacity="0.201"/><stop offset="0.498" stop-color="#c85a14" stop-opacity="0.121"/><stop offset="0.542" stop-color="#c85a14" stop-opacity="0.068"/><stop offset="0.602" stop-color="#c85a14" stop-opacity="0.030"/><stop offset="0.678" stop-color="#c85a14" stop-opacity="0.010"/><stop offset="1.000" stop-color="#c85a14" stop-opacity="0.000"/></linearGradient><linearGradient id="gl71" gradientUnits="userSpaceOnUse" x1="436" y1="0" x2="886" y2="0" spreadMethod="reflect"><stop offset="0.000" stop-color="#c85a14" stop-opacity="0.877"/><stop offset="0.064" stop-color="#c85a14" stop-opacity="0.870"/><stop offset="0.120" stop-color="#c85a14" stop-opacity="0.848"/><stop offset="0.169" stop-color="#c85a14" stop-opacity="0.810"/><stop offset="0.213" stop-color="#c85a14" stop-opacity="0.754"/><stop offset="0.251" stop-color="#c85a14" stop-opacity="0.688"/><stop offset="0.291" stop-color="#c85a14" stop-opacity="0.602"/><stop offset="0.409" stop-color="#c85a14" stop-opacity="0.291"/><stop offset="0.449" stop-color="#c85a14" stop-opacity="0.197"/><stop offset="0.491" stop-color="#c85a14" stop-opacity="0.122"/><stop offset="0.538" stop-color="#c85a14" stop-opacity="0.067"/><stop offset="0.598" stop-color="#c85a14" stop-opacity="0.029"/><stop offset="0.673" stop-color="#c85a14" stop-opacity="0.009"/><stop offset="1.000" stop-color="#c85a14" stop-opacity="0.000"/></linearGradient><linearGradient id="gl72" gradientUnits="userSpaceOnUse" x1="436" y1="0" x2="886" y2="0" spreadMethod="reflect"><stop offset="0.000" stop-color="#c85a14" stop-opacity="0.842"/><stop offset="0.060" stop-color="#c85a14" stop-opacity="0.835"/><stop offset="0.113" stop-color="#c85a14" stop-opacity="0.813"/><stop offset="0.160" stop-color="#c85a14" stop-opacity="0.776"/><stop offset="0.202" stop-color="#c85a14" stop-opacity="0.725"/><stop offset="0.238" stop-color="#c85a14" stop-opacity="0.666"/><stop offset="0.276" stop-color="#c85a14" stop-opacity="0.588"/><stop offset="0.398" stop-color="#c85a14" stop-opacity="0.289"/><stop offset="0.440" stop-color="#c85a14" stop-opacity="0.197"/><stop offset="0.487" stop-color="#c85a14" stop-opacity="0.118"/><stop offset="0.536" stop-color="#c85a14" stop-opacity="0.064"/><stop offset="0.596" stop-color="#c85a14" stop-opacity="0.028"/><stop offset="0.673" stop-color="#c85a14" stop-opacity="0.008"/><stop offset="1.000" stop-color="#c85a14" stop-opacity="0.000"/></linearGradient><linearGradient id="gl73" gradientUnits="userSpaceOnUse" x1="436" y1="0" x2="886" y2="0" spreadMethod="reflect"><stop offset="0.000" stop-color="#c85a14" stop-opacity="0.802"/><stop offset="0.056" stop-color="#c85a14" stop-opacity="0.795"/><stop offset="0.107" stop-color="#c85a14" stop-opacity="0.774"/><stop offset="0.151" stop-color="#c85a14" stop-opacity="0.740"/><stop offset="0.193" stop-color="#c85a14" stop-opacity="0.690"/><stop offset="0.229" stop-color="#c85a14" stop-opacity="0.633"/><stop offset="0.264" stop-color="#c85a14" stop-opacity="0.564"/><stop offset="0.384" stop-color="#c85a14" stop-opacity="0.290"/><stop offset="0.431" stop-color="#c85a14" stop-opacity="0.194"/><stop offset="0.480" stop-color="#c85a14" stop-opacity="0.117"/><stop offset="0.531" stop-color="#c85a14" stop-opacity="0.063"/><stop offset="0.593" stop-color="#c85a14" stop-opacity="0.027"/><stop offset="0.669" stop-color="#c85a14" stop-opacity="0.008"/><stop offset="1.000" stop-color="#c85a14" stop-opacity="0.000"/></linearGradient><linearGradient id="gl74" gradientUnits="userSpaceOnUse" x1="436" y1="0" x2="886" y2="0" spreadMethod="reflect"><stop offset="0.000" stop-color="#c85a14" stop-opacity="0.758"/><stop offset="0.051" stop-color="#c85a14" stop-opacity="0.752"/><stop offset="0.100" stop-color="#c85a14" stop-opacity="0.732"/><stop offset="0.144" stop-color="#c85a14" stop-opacity="0.698"/><stop offset="0.184" stop-color="#c85a14" stop-opacity="0.653"/><stop offset="0.253" stop-color="#c85a14" stop-opacity="0.539"/><stop offset="0.373" stop-color="#c85a14" stop-opacity="0.284"/><stop offset="0.422" stop-color="#c85a14" stop-opacity="0.191"/><stop offset="0.476" stop-color="#c85a14" stop-opacity="0.112"/><stop offset="0.529" stop-color="#c85a14" stop-opacity="0.059"/><stop offset="0.591" stop-color="#c85a14" stop-opacity="0.025"/><stop offset="0.667" stop-color="#c85a14" stop-opacity="0.007"/><stop offset="1.000" stop-color="#c85a14" stop-opacity="0.000"/></linearGradient><linearGradient id="gl75" gradientUnits="userSpaceOnUse" x1="436" y1="0" x2="886" y2="0" spreadMethod="reflect"><stop offset="0.000" stop-color="#c85a14" stop-opacity="0.711"/><stop offset="0.049" stop-color="#c85a14" stop-opacity="0.705"/><stop offset="0.093" stop-color="#c85a14" stop-opacity="0.687"/><stop offset="0.136" stop-color="#c85a14" stop-opacity="0.657"/><stop offset="0.176" stop-color="#c85a14" stop-opacity="0.615"/><stop offset="0.244" stop-color="#c85a14" stop-opacity="0.509"/><stop offset="0.364" stop-color="#c85a14" stop-opacity="0.273"/><stop offset="0.416" stop-color="#c85a14" stop-opacity="0.183"/><stop offset="0.471" stop-color="#c85a14" stop-opacity="0.107"/><stop offset="0.527" stop-color="#c85a14" stop-opacity="0.056"/><stop offset="0.589" stop-color="#c85a14" stop-opacity="0.024"/><stop offset="0.664" stop-color="#c85a14" stop-opacity="0.007"/><stop offset="1.000" stop-color="#c85a14" stop-opacity="0.000"/></linearGradient><linearGradient id="gl76" gradientUnits="userSpaceOnUse" x1="436" y1="0" x2="886" y2="0" spreadMethod="reflect"><stop offset="0.000" stop-color="#c85a14" stop-opacity="0.661"/><stop offset="0.089" stop-color="#c85a14" stop-opacity="0.638"/><stop offset="0.129" stop-color="#c85a14" stop-opacity="0.611"/><stop offset="0.169" stop-color="#c85a14" stop-opacity="0.572"/><stop offset="0.236" stop-color="#c85a14" stop-opacity="0.477"/><stop offset="0.358" stop-color="#c85a14" stop-opacity="0.258"/><stop offset="0.411" stop-color="#c85a14" stop-opacity="0.172"/><stop offset="0.467" stop-color="#c85a14" stop-opacity="0.102"/><stop offset="0.524" stop-color="#c85a14" stop-opacity="0.052"/><stop offset="0.587" stop-color="#c85a14" stop-opacity="0.022"/><stop offset="0.664" stop-color="#c85a14" stop-opacity="0.006"/><stop offset="1.000" stop-color="#c85a14" stop-opacity="0.000"/></linearGradient><linearGradient id="gl77" gradientUnits="userSpaceOnUse" x1="436" y1="0" x2="886" y2="0" spreadMethod="reflect"><stop offset="0.000" stop-color="#c85a14" stop-opacity="0.608"/><stop offset="0.084" stop-color="#c85a14" stop-opacity="0.588"/><stop offset="0.164" stop-color="#c85a14" stop-opacity="0.525"/><stop offset="0.231" stop-color="#c85a14" stop-opacity="0.438"/><stop offset="0.353" stop-color="#c85a14" stop-opacity="0.239"/><stop offset="0.407" stop-color="#c85a14" stop-opacity="0.161"/><stop offset="0.464" stop-color="#c85a14" stop-opacity="0.094"/><stop offset="0.522" stop-color="#c85a14" stop-opacity="0.049"/><stop offset="0.584" stop-color="#c85a14" stop-opacity="0.020"/><stop offset="0.662" stop-color="#c85a14" stop-opacity="0.006"/><stop offset="1.000" stop-color="#c85a14" stop-opacity="0.000"/></linearGradient><linearGradient id="gl78" gradientUnits="userSpaceOnUse" x1="436" y1="0" x2="886" y2="0" spreadMethod="reflect"><stop offset="0.000" stop-color="#c85a14" stop-opacity="0.553"/><stop offset="0.080" stop-color="#c85a14" stop-opacity="0.535"/><stop offset="0.158" stop-color="#c85a14" stop-opacity="0.479"/><stop offset="0.224" stop-color="#c85a14" stop-opacity="0.401"/><stop offset="0.404" stop-color="#c85a14" stop-opacity="0.147"/><stop offset="0.464" stop-color="#c85a14" stop-opacity="0.084"/><stop offset="0.522" stop-color="#c85a14" stop-opacity="0.044"/><stop offset="0.584" stop-color="#c85a14" stop-opacity="0.018"/><stop offset="0.662" stop-color="#c85a14" stop-opacity="0.005"/><stop offset="1.000" stop-color="#c85a14" stop-opacity="0.000"/></linearGradient><linearGradient id="gl79" gradientUnits="userSpaceOnUse" x1="436" y1="0" x2="886" y2="0" spreadMethod="reflect"><stop offset="0.000" stop-color="#c85a14" stop-opacity="0.496"/><stop offset="0.078" stop-color="#c85a14" stop-opacity="0.480"/><stop offset="0.156" stop-color="#c85a14" stop-opacity="0.428"/><stop offset="0.222" stop-color="#c85a14" stop-opacity="0.358"/><stop offset="0.402" stop-color="#c85a14" stop-opacity="0.133"/><stop offset="0.462" stop-color="#c85a14" stop-opacity="0.077"/><stop offset="0.522" stop-color="#c85a14" stop-opacity="0.039"/><stop offset="0.584" stop-color="#c85a14" stop-opacity="0.016"/><stop offset="0.660" stop-color="#c85a14" stop-opacity="0.004"/><stop offset="1.000" stop-color="#c85a14" stop-opacity="0.000"/></linearGradient><linearGradient id="gl80" gradientUnits="userSpaceOnUse" x1="436" y1="0" x2="886" y2="0" spreadMethod="reflect"><stop offset="0.000" stop-color="#c85a14" stop-opacity="0.439"/><stop offset="0.076" stop-color="#c85a14" stop-opacity="0.424"/><stop offset="0.151" stop-color="#c85a14" stop-opacity="0.380"/><stop offset="0.218" stop-color="#c85a14" stop-opacity="0.319"/><stop offset="0.404" stop-color="#c85a14" stop-opacity="0.115"/><stop offset="0.464" stop-color="#c85a14" stop-opacity="0.066"/><stop offset="0.522" stop-color="#c85a14" stop-opacity="0.034"/><stop offset="0.584" stop-color="#c85a14" stop-opacity="0.014"/><stop offset="0.660" stop-color="#c85a14" stop-opacity="0.004"/><stop offset="1.000" stop-color="#c85a14" stop-opacity="0.000"/></linearGradient><linearGradient id="gl81" gradientUnits="userSpaceOnUse" x1="436" y1="0" x2="886" y2="0" spreadMethod="reflect"><stop offset="0.000" stop-color="#c85a14" stop-opacity="0.382"/><stop offset="0.073" stop-color="#c85a14" stop-opacity="0.370"/><stop offset="0.149" stop-color="#c85a14" stop-opacity="0.331"/><stop offset="0.218" stop-color="#c85a14" stop-opacity="0.276"/><stop offset="0.404" stop-color="#c85a14" stop-opacity="0.100"/><stop offset="0.464" stop-color="#c85a14" stop-opacity="0.058"/><stop offset="0.522" stop-color="#c85a14" stop-opacity="0.030"/><stop offset="0.660" stop-color="#c85a14" stop-opacity="0.003"/><stop offset="1.000" stop-color="#c85a14" stop-opacity="0.000"/></linearGradient><linearGradient id="gl82" gradientUnits="userSpaceOnUse" x1="436" y1="0" x2="886" y2="0" spreadMethod="reflect"><stop offset="0.000" stop-color="#c85a14" stop-opacity="0.328"/><stop offset="0.073" stop-color="#c85a14" stop-opacity="0.317"/><stop offset="0.147" stop-color="#c85a14" stop-opacity="0.285"/><stop offset="0.218" stop-color="#c85a14" stop-opacity="0.236"/><stop offset="0.407" stop-color="#c85a14" stop-opacity="0.085"/><stop offset="0.522" stop-color="#c85a14" stop-opacity="0.026"/><stop offset="0.660" stop-color="#c85a14" stop-opacity="0.003"/><stop offset="1.000" stop-color="#c85a14" stop-opacity="0.000"/></linearGradient><linearGradient id="gl83" gradientUnits="userSpaceOnUse" x1="436" y1="0" x2="886" y2="0" spreadMethod="reflect"><stop offset="0.000" stop-color="#c85a14" stop-opacity="0.277"/><stop offset="0.071" stop-color="#c85a14" stop-opacity="0.268"/><stop offset="0.147" stop-color="#c85a14" stop-opacity="0.240"/><stop offset="0.409" stop-color="#c85a14" stop-opacity="0.071"/><stop offset="0.524" stop-color="#c85a14" stop-opacity="0.021"/><stop offset="0.662" stop-color="#c85a14" stop-opacity="0.002"/><stop offset="1.000" stop-color="#c85a14" stop-opacity="0.000"/></linearGradient><linearGradient id="gl84" gradientUnits="userSpaceOnUse" x1="436" y1="0" x2="886" y2="0" spreadMethod="reflect"><stop offset="0.000" stop-color="#c85a14" stop-opacity="0.231"/><stop offset="0.071" stop-color="#c85a14" stop-opacity="0.223"/><stop offset="0.147" stop-color="#c85a14" stop-opacity="0.200"/><stop offset="0.411" stop-color="#c85a14" stop-opacity="0.059"/><stop offset="0.524" stop-color="#c85a14" stop-opacity="0.018"/><stop offset="0.662" stop-color="#c85a14" stop-opacity="0.002"/><stop offset="1.000" stop-color="#c85a14" stop-opacity="0.000"/></linearGradient><linearGradient id="gl85" gradientUnits="userSpaceOnUse" x1="436" y1="0" x2="886" y2="0" spreadMethod="reflect"><stop offset="0.000" stop-color="#c85a14" stop-opacity="0.189"/><stop offset="0.073" stop-color="#c85a14" stop-opacity="0.182"/><stop offset="0.149" stop-color="#c85a14" stop-opacity="0.163"/><stop offset="0.416" stop-color="#c85a14" stop-opacity="0.047"/><stop offset="0.527" stop-color="#c85a14" stop-opacity="0.014"/><stop offset="0.662" stop-color="#c85a14" stop-opacity="0.002"/><stop offset="1.000" stop-color="#c85a14" stop-opacity="0.000"/></linearGradient><linearGradient id="gl86" gradientUnits="userSpaceOnUse" x1="436" y1="0" x2="886" y2="0" spreadMethod="reflect"><stop offset="0.000" stop-color="#c85a14" stop-opacity="0.152"/><stop offset="0.151" stop-color="#c85a14" stop-opacity="0.131"/><stop offset="0.420" stop-color="#c85a14" stop-opacity="0.037"/><stop offset="0.529" stop-color="#c85a14" stop-opacity="0.012"/><stop offset="0.664" stop-color="#c85a14" stop-opacity="0.001"/><stop offset="1.000" stop-color="#c85a14" stop-opacity="0.000"/></linearGradient><linearGradient id="gl87" gradientUnits="userSpaceOnUse" x1="436" y1="0" x2="886" y2="0" spreadMethod="reflect"><stop offset="0.000" stop-color="#c85a14" stop-opacity="0.121"/><stop offset="0.156" stop-color="#c85a14" stop-opacity="0.104"/><stop offset="0.424" stop-color="#c85a14" stop-opacity="0.029"/><stop offset="0.531" stop-color="#c85a14" stop-opacity="0.009"/><stop offset="1.000" stop-color="#c85a14" stop-opacity="0.000"/></linearGradient><linearGradient id="gl88" gradientUnits="userSpaceOnUse" x1="436" y1="0" x2="886" y2="0" spreadMethod="reflect"><stop offset="0.000" stop-color="#c85a14" stop-opacity="0.095"/><stop offset="0.158" stop-color="#c85a14" stop-opacity="0.081"/><stop offset="0.536" stop-color="#c85a14" stop-opacity="0.007"/><stop offset="1.000" stop-color="#c85a14" stop-opacity="0.000"/></linearGradient><linearGradient id="gl89" gradientUnits="userSpaceOnUse" x1="436" y1="0" x2="886" y2="0" spreadMethod="reflect"><stop offset="0.000" stop-color="#c85a14" stop-opacity="0.073"/><stop offset="0.164" stop-color="#c85a14" stop-opacity="0.062"/><stop offset="0.538" stop-color="#c85a14" stop-opacity="0.005"/><stop offset="1.000" stop-color="#c85a14" stop-opacity="0.000"/></linearGradient><linearGradient id="gl90" gradientUnits="userSpaceOnUse" x1="436" y1="0" x2="886" y2="0" spreadMethod="reflect"><stop offset="0.000" stop-color="#c85a14" stop-opacity="0.056"/><stop offset="0.171" stop-color="#c85a14" stop-opacity="0.047"/><stop offset="0.540" stop-color="#c85a14" stop-opacity="0.004"/><stop offset="1.000" stop-color="#c85a14" stop-opacity="0.000"/></linearGradient><linearGradient id="gl91" gradientUnits="userSpaceOnUse" x1="436" y1="0" x2="886" y2="0" spreadMethod="reflect"><stop offset="0.000" stop-color="#c85a14" stop-opacity="0.042"/><stop offset="0.544" stop-color="#c85a14" stop-opacity="0.003"/><stop offset="1.000" stop-color="#c85a14" stop-opacity="0.000"/></linearGradient><linearGradient id="gl92" gradientUnits="userSpaceOnUse" x1="436" y1="0" x2="886" y2="0" spreadMethod="reflect"><stop offset="0.000" stop-color="#c85a14" stop-opacity="0.032"/><stop offset="0.547" stop-color="#c85a14" stop-opacity="0.002"/><stop offset="1.000" stop-color="#c85a14" stop-opacity="0.000"/></linearGradient><linearGradient id="gl93" gradientUnits="userSpaceOnUse" x1="436" y1="0" x2="886" y2="0" spreadMethod="reflect"><stop offset="0.000" stop-color="#c85a14" stop-opacity="0.024"/><stop offset="0.551" stop-color="#c85a14" stop-opacity="0.002"/><stop offset="1.000" stop-color="#c85a14" stop-opacity="0.000"/></linearGradient><linearGradient id="gl94" gradientUnits="userSpaceOnUse" x1="436" y1="0" x2="886" y2="0" spreadMethod="reflect"><stop offset="0.000" stop-color="#c85a14" stop-opacity="0.018"/><stop offset="0.553" stop-color="#c85a14" stop-opacity="0.001"/><stop offset="1.000" stop-color="#c85a14" stop-opacity="0.000"/></linearGradient><linearGradient id="gl95" gradientUnits="userSpaceOnUse" x1="436" y1="0" x2="886" y2="0" spreadMethod="reflect"><stop offset="0.000" stop-color="#c85a14" stop-opacity="0.014"/><stop offset="1.000" stop-color="#c85a14" stop-opacity="0.000"/></linearGradient><linearGradient id="gl96" gradientUnits="userSpaceOnUse" x1="436" y1="0" x2="886" y2="0" spreadMethod="reflect"><stop offset="0.000" stop-color="#c85a14" stop-opacity="0.012"/><stop offset="1.000" stop-color="#c85a14" stop-opacity="0.000"/></linearGradient><filter id="fGlowV" x="0" y="-2%" width="100%" height="104%"><feGaussianBlur stdDeviation="0 4"/></filter></defs><g filter="url(#fGlowV)"><rect x="0" y="0" width="880" height="8" fill="url(#gl0)"/><rect x="0" y="8" width="880" height="8" fill="url(#gl1)"/><rect x="0" y="16" width="880" height="8" fill="url(#gl2)"/><rect x="0" y="24" width="880" height="8" fill="url(#gl3)"/><rect x="0" y="32" width="880" height="8" fill="url(#gl4)"/><rect x="0" y="40" width="880" height="8" fill="url(#gl5)"/><rect x="0" y="48" width="880" height="8" fill="url(#gl6)"/><rect x="0" y="56" width="880" height="8" fill="url(#gl7)"/><rect x="0" y="64" width="880" height="8" fill="url(#gl8)"/><rect x="0" y="72" width="880" height="8" fill="url(#gl9)"/><rect x="0" y="80" width="880" height="8" fill="url(#gl10)"/><rect x="0" y="88" width="880" height="8" fill="url(#gl11)"/><rect x="0" y="96" width="880" height="8" fill="url(#gl12)"/><rect x="0" y="104" width="880" height="8" fill="url(#gl13)"/><rect x="0" y="112" width="880" height="8" fill="url(#gl14)"/><rect x="0" y="120" width="880" height="8" fill="url(#gl15)"/><rect x="0" y="128" width="880" height="8" fill="url(#gl16)"/><rect x="0" y="136" width="880" height="8" fill="url(#gl17)"/><rect x="0" y="144" width="880" height="8" fill="url(#gl18)"/><rect x="0" y="152" width="880" height="8" fill="url(#gl19)"/><rect x="0" y="160" width="880" height="8" fill="url(#gl20)"/><rect x="0" y="168" width="880" height="8" fill="url(#gl21)"/><rect x="0" y="176" width="880" height="8" fill="url(#gl22)"/><rect x="0" y="184" width="880" height="8" fill="url(#gl23)"/><rect x="0" y="192" width="880" height="8" fill="url(#gl24)"/><rect x="0" y="200" width="880" height="8" fill="url(#gl25)"/><rect x="0" y="208" width="880" height="8" fill="url(#gl26)"/><rect x="0" y="216" width="880" height="8" fill="url(#gl27)"/><rect x="0" y="224" width="880" height="8" fill="url(#gl28)"/><rect x="0" y="232" width="880" height="8" fill="url(#gl29)"/><rect x="0" y="240" width="880" height="8" fill="url(#gl30)"/><rect x="0" y="248" width="880" height="8" fill="url(#gl31)"/><rect x="0" y="256" width="880" height="8" fill="url(#gl32)"/><rect x="0" y="264" width="880" height="8" fill="url(#gl33)"/><rect x="0" y="272" width="880" height="8" fill="url(#gl34)"/><rect x="0" y="280" width="880" height="8" fill="url(#gl35)"/><rect x="0" y="288" width="880" height="8" fill="url(#gl36)"/><rect x="0" y="296" width="880" height="8" fill="url(#gl37)"/><rect x="0" y="304" width="880" height="8" fill="url(#gl38)"/><rect x="0" y="312" width="880" height="8" fill="url(#gl39)"/><rect x="0" y="320" width="880" height="8" fill="url(#gl40)"/><rect x="0" y="328" width="880" height="8" fill="url(#gl41)"/><rect x="0" y="336" width="880" height="8" fill="url(#gl42)"/><rect x="0" y="344" width="880" height="8" fill="url(#gl43)"/><rect x="0" y="352" width="880" height="8" fill="url(#gl44)"/><rect x="0" y="360" width="880" height="8" fill="url(#gl45)"/><rect x="0" y="368" width="880" height="8" fill="url(#gl46)"/><rect x="0" y="376" width="880" height="8" fill="url(#gl47)"/><rect x="0" y="384" width="880" height="8" fill="url(#gl48)"/><rect x="0" y="392" width="880" height="8" fill="url(#gl49)"/><rect x="0" y="400" width="880" height="8" fill="url(#gl50)"/><rect x="0" y="408" width="880" height="8" fill="url(#gl51)"/><rect x="0" y="416" width="880" height="8" fill="url(#gl52)"/><rect x="0" y="424" width="880" height="8" fill="url(#gl53)"/><rect x="0" y="432" width="880" height="8" fill="url(#gl54)"/><rect x="0" y="440" width="880" height="8" fill="url(#gl55)"/><rect x="0" y="448" width="880" height="8" fill="url(#gl56)"/><rect x="0" y="456" width="880" height="8" fill="url(#gl57)"/><rect x="0" y="464" width="880" height="8" fill="url(#gl58)"/><rect x="0" y="472" width="880" height="8" fill="url(#gl59)"/><rect x="0" y="480" width="880" height="8" fill="url(#gl60)"/><rect x="0" y="488" width="880" height="8" fill="url(#gl61)"/><rect x="0" y="496" width="880" height="8" fill="url(#gl62)"/><rect x="0" y="504" width="880" height="8" fill="url(#gl63)"/><rect x="0" y="512" width="880" height="8" fill="url(#gl64)"/><rect x="0" y="520" width="880" height="8" fill="url(#gl65)"/><rect x="0" y="528" width="880" height="8" fill="url(#gl66)"/><rect x="0" y="536" width="880" height="8" fill="url(#gl67)"/><rect x="0" y="544" width="880" height="8" fill="url(#gl68)"/><rect x="0" y="552" width="880" height="8" fill="url(#gl69)"/><rect x="0" y="560" width="880" height="8" fill="url(#gl70)"/><rect x="0" y="568" width="880" height="8" fill="url(#gl71)"/><rect x="0" y="576" width="880" height="8" fill="url(#gl72)"/><rect x="0" y="584" width="880" height="8" fill="url(#gl73)"/><rect x="0" y="592" width="880" height="8" fill="url(#gl74)"/><rect x="0" y="600" width="880" height="8" fill="url(#gl75)"/><rect x="0" y="608" width="880" height="8" fill="url(#gl76)"/><rect x="0" y="616" width="880" height="8" fill="url(#gl77)"/><rect x="0" y="624" width="880" height="8" fill="url(#gl78)"/><rect x="0" y="632" width="880" height="8" fill="url(#gl79)"/><rect x="0" y="640" width="880" height="8" fill="url(#gl80)"/><rect x="0" y="648" width="880" height="8" fill="url(#gl81)"/><rect x="0" y="656" width="880" height="8" fill="url(#gl82)"/><rect x="0" y="664" width="880" height="8" fill="url(#gl83)"/><rect x="0" y="672" width="880" height="8" fill="url(#gl84)"/><rect x="0" y="680" width="880" height="8" fill="url(#gl85)"/><rect x="0" y="688" width="880" height="8" fill="url(#gl86)"/><rect x="0" y="696" width="880" height="8" fill="url(#gl87)"/><rect x="0" y="704" width="880" height="8" fill="url(#gl88)"/><rect x="0" y="712" width="880" height="8" fill="url(#gl89)"/><rect x="0" y="720" width="880" height="8" fill="url(#gl90)"/><rect x="0" y="728" width="880" height="8" fill="url(#gl91)"/><rect x="0" y="736" width="880" height="8" fill="url(#gl92)"/><rect x="0" y="744" width="880" height="8" fill="url(#gl93)"/><rect x="0" y="752" width="880" height="8" fill="url(#gl94)"/><rect x="0" y="760" width="880" height="8" fill="url(#gl95)"/><rect x="0" y="768" width="880" height="8" fill="url(#gl96)"/></g>
<path d="M9.7,547.1 H124" stroke="#ff0000" stroke-width="7.5"/>
<ellipse cx="126.7" cy="548" rx="8.3" ry="12.2" fill="#ff0000"/>
<path d="M679,558.4 H793.9" stroke="#ff0000" stroke-width="7.8"/>
<ellipse cx="677.3" cy="557.6" rx="7.5" ry="10.2" fill="#ff0000"/>
<text transform="translate(151,541) rotate(-45.9) scale(1,0.91) translate(-2.37,0)" font-family='"Liberation Sans", sans-serif' font-size="29.63" fill="#1e1812" stroke="#1e1812" stroke-width="0.9">Electrode</text>
<text transform="translate(702,549.5) rotate(-46.3) scale(1,0.9) translate(-2.36,0)" font-family='"Liberation Sans", sans-serif' font-size="29.51" fill="#1e1812" stroke="#1e1812" stroke-width="0.9">Electrode</text>
<ellipse cx="178.1" cy="598.4" rx="9" ry="22.7" fill="none" stroke="#2a2a32" stroke-width="3.8" stroke-dasharray="3.8 3.6"/>
<path d="M171.6,617.7 L145.8,671" stroke="#000" stroke-width="4" stroke-dasharray="4 3.5"/>
<path d="M139.3,687.4 L136.8,671.2 L152.6,677.4 Z" fill="#000"/>
<path d="M638.2,621.8 H715" stroke="#000" stroke-width="4" stroke-dasharray="4 3.5"/>
<path d="M730.5,622.2 L714.9,614.7 L714.9,630.4 Z" fill="#000"/>
<text transform="translate(19.46,127.6) scale(1,1.03)" font-family='"Liberation Serif", serif' font-weight="bold" font-size="54.47" fill="#000">A</text>
<text transform="translate(294.97,376) scale(1,0.99)" font-family='"Liberation Serif", serif' font-weight="bold" font-size="40.88" fill="#000">Infrared light</text>
<text transform="translate(373.53,657.4) scale(1,0.96)" font-family='"Liberation Serif", serif' font-weight="bold" font-size="41.24" fill="#000">Substrate</text>
<text transform="translate(735.79,640.5) scale(1,0.94)" font-family='"Liberation Serif", serif' font-weight="bold" font-size="40.31" fill="#000">Ni</text>
<text transform="translate(775.8,650.2) scale(1,0.95)" font-family='"Liberation Serif", serif' font-weight="bold" font-size="28.54" fill="#000">80</text>
<text transform="translate(802.57,640.5) scale(1,0.98)" font-family='"Liberation Serif", serif' font-weight="bold" font-size="40.55" fill="#000">Cr</text>
<text transform="translate(849.23,650.2) scale(1,0.93)" font-family='"Liberation Serif", serif' font-weight="bold" font-size="29.24" fill="#000">20</text>
<text transform="translate(41.91,729.2) scale(1,0.94)" font-family='"Liberation Serif", serif' font-weight="bold" font-size="42.11" fill="#000">(SiO</text>
<text transform="translate(121.14,738.6) scale(1,0.98)" font-family='"Liberation Serif", serif' font-weight="bold" font-size="26.43" fill="#000">2</text>
<text transform="translate(134.81,729.2) scale(1,0.97)" font-family='"Liberation Serif", serif' font-weight="bold" font-size="41.06" fill="#000">/Si)</text>
<text transform="translate(194.56,716.5) scale(1,0.95)" font-family='"Liberation Serif", serif' font-weight="bold" font-style="italic" font-size="27.18" fill="#000">m</text>
<text transform="translate(220.85,729.2) scale(1,0.96)" font-family='"Liberation Serif", serif' font-weight="bold" font-size="41.16" fill="#000">(Si/Cr/Si)</text>
<text transform="translate(386.66,716.5) scale(1,0.95)" font-family='"Liberation Serif", serif' font-weight="bold" font-style="italic" font-size="27.22" fill="#000">n</text>
<defs>
<linearGradient id="gB_disk" x1="0" y1="0" x2="0" y2="1">
 <stop offset="0" stop-color="#5e584c"/><stop offset="0.3" stop-color="#8a8474"/><stop offset="0.6" stop-color="#b4ae9e"/><stop offset="0.85" stop-color="#c8c2b2"/><stop offset="1" stop-color="#8e887a"/>
</linearGradient>
<linearGradient id="gB_diskx" x1="0" y1="0" x2="1" y2="0">
 <stop offset="0" stop-color="#000" stop-opacity="0.35"/><stop offset="0.3" stop-color="#000" stop-opacity="0"/><stop offset="0.45" stop-color="#fff" stop-opacity="0.25"/><stop offset="0.6" stop-color="#000" stop-opacity="0"/><stop offset="0.75" stop-color="#fff" stop-opacity="0.15"/><stop offset="1" stop-color="#000" stop-opacity="0.35"/>
</linearGradient>
<radialGradient id="gB_cone" cx="170" cy="1262" r="85" gradientUnits="userSpaceOnUse">
 <stop offset="0" stop-color="#e6e0d2"/><stop offset="0.5" stop-color="#c4bcaa"/><stop offset="1" stop-color="#7a7466"/>
</radialGradient>
<linearGradient id="gB_plate" x1="0" y1="0" x2="1" y2="0">
 <stop offset="0" stop-color="#4e4636"/><stop offset="0.3" stop-color="#7a705a"/><stop offset="0.55" stop-color="#968a6e"/><stop offset="0.8" stop-color="#6e6450"/><stop offset="1" stop-color="#4a4232"/>
</linearGradient>
<linearGradient id="gB_rod" x1="0" y1="0" x2="1" y2="0">
 <stop offset="0" stop-color="#8a8a86"/><stop offset="0.45" stop-color="#f2f2ee"/><stop offset="1" stop-color="#7a7a76"/>
</linearGradient>
<linearGradient id="gB_post" x1="0" y1="0" x2="1" y2="0">
 <stop offset="0" stop-color="#bcae8c"/><stop offset="0.4" stop-color="#f2e8d0"/><stop offset="1" stop-color="#b0a280"/>
</linearGradient>
<linearGradient id="gB_win" x1="0" y1="0" x2="1" y2="0">
 <stop offset="0" stop-color="#6a6428"/><stop offset="0.5" stop-color="#a89a3c"/><stop offset="0.75" stop-color="#c8b858"/><stop offset="1" stop-color="#8a7c30"/>
</linearGradient>
</defs>
<rect x="15" y="772" width="303" height="560" fill="#060606"/>
<ellipse cx="169.2" cy="1231.3" rx="119.6" ry="91.8" fill="url(#gB_disk)"/>
<ellipse cx="169.2" cy="1231.3" rx="119.6" ry="91.8" fill="url(#gB_diskx)"/>
<ellipse cx="169.2" cy="1234.5" rx="82.5" ry="45.5" fill="url(#gB_cone)" stroke="#2e2a22" stroke-width="2.5"/>
<ellipse cx="169.2" cy="1238" rx="72" ry="38" fill="none" stroke="#d8d2c4" stroke-width="1.5" opacity="0.5"/>
<path d="M86.6,1250 Q169,1320 251.7,1250" fill="none" stroke="#3a362c" stroke-width="2" opacity="0.7"/>
<ellipse cx="169" cy="1218" rx="33" ry="24" fill="#4a3a1c"/>
<path d="M142,1205 Q155,1196 170,1200 L176,1240 Q160,1246 148,1232 Z" fill="#b08838"/>
<path d="M170,1200 Q186,1196 198,1206 L194,1232 Q186,1242 176,1240 Z" fill="#8a6a2c"/>
<path d="M176,1242 Q186,1214 206,1196" stroke="#e6dcc4" stroke-width="6" fill="none"/>
<rect x="124" y="966" width="90.5" height="227" fill="url(#gB_plate)"/>
<path d="M124,1054 H214.5" stroke="#b8b0a0" stroke-width="2.5"/>
<path d="M124,1056.5 H214.5" stroke="#2e2a22" stroke-width="2"/>
<path d="M124,1130 H214.5" stroke="#b8b0a0" stroke-width="2.5"/>
<path d="M124,1132.5 H214.5" stroke="#2e2a22" stroke-width="2"/>
<path d="M124,1192 H214.5" stroke="#b8b0a0" stroke-width="2.5"/>
<path d="M124,1194.5 H214.5" stroke="#2e2a22" stroke-width="2"/>
<rect x="150.6" y="950" width="31" height="70" fill="url(#gB_post)"/>
<rect x="150.6" y="1057" width="31" height="35" fill="url(#gB_post)"/>
<rect x="150.6" y="1131" width="31" height="31" fill="url(#gB_post)"/>
<path d="M91,955 C80,1000 82,1080 104,1152" stroke="#c09838" stroke-width="12" fill="none"/>
<path d="M91,955 C80,1000 82,1080 104,1152" stroke="#e8d490" stroke-width="6" fill="none"/>
<path d="M243,921 C254,980 252,1060 228,1156" stroke="#c09838" stroke-width="12" fill="none"/>
<path d="M243,921 C254,980 252,1060 228,1156" stroke="#e8d490" stroke-width="6" fill="none"/>
<rect x="97" y="949" width="26" height="96" fill="url(#gB_post)"/>
<rect x="214.5" y="949" width="24.5" height="96" fill="url(#gB_post)"/>
<rect x="109" y="1044" width="11" height="211" fill="url(#gB_rod)"/>
<ellipse cx="114.5" cy="1049" rx="12.5" ry="7" fill="#aeaaa0" stroke="#3e3a32" stroke-width="2"/>
<ellipse cx="114.5" cy="1047.5" rx="8" ry="3" fill="#e8e6e0"/>
<ellipse cx="114.5" cy="1125" rx="12.5" ry="7" fill="#aeaaa0" stroke="#3e3a32" stroke-width="2"/>
<ellipse cx="114.5" cy="1123.5" rx="8" ry="3" fill="#e8e6e0"/>
<ellipse cx="114.5" cy="1189" rx="12.5" ry="7" fill="#aeaaa0" stroke="#3e3a32" stroke-width="2"/>
<ellipse cx="114.5" cy="1187.5" rx="8" ry="3" fill="#e8e6e0"/>
<ellipse cx="114.5" cy="1251" rx="12.5" ry="7" fill="#aeaaa0" stroke="#3e3a32" stroke-width="2"/>
<ellipse cx="114.5" cy="1249.5" rx="8" ry="3" fill="#e8e6e0"/>
<rect x="214.3" y="1044" width="11" height="211" fill="url(#gB_rod)"/>
<ellipse cx="219.8" cy="1049" rx="12.5" ry="7" fill="#aeaaa0" stroke="#3e3a32" stroke-width="2"/>
<ellipse cx="219.8" cy="1047.5" rx="8" ry="3" fill="#e8e6e0"/>
<ellipse cx="219.8" cy="1125" rx="12.5" ry="7" fill="#aeaaa0" stroke="#3e3a32" stroke-width="2"/>
<ellipse cx="219.8" cy="1123.5" rx="8" ry="3" fill="#e8e6e0"/>
<ellipse cx="219.8" cy="1189" rx="12.5" ry="7" fill="#aeaaa0" stroke="#3e3a32" stroke-width="2"/>
<ellipse cx="219.8" cy="1187.5" rx="8" ry="3" fill="#e8e6e0"/>
<ellipse cx="219.8" cy="1251" rx="12.5" ry="7" fill="#aeaaa0" stroke="#3e3a32" stroke-width="2"/>
<ellipse cx="219.8" cy="1249.5" rx="8" ry="3" fill="#e8e6e0"/>
<rect x="88.7" y="855" width="152.6" height="95" fill="#d8ccac"/>
<rect x="88.7" y="855" width="152.6" height="10" fill="#ece2c8"/>
<rect x="92.8" y="925" width="148.5" height="25" fill="#f2ead6"/>
<rect x="92.8" y="925" width="148.5" height="3" fill="#bcb094"/>
<rect x="92" y="866" width="46" height="58" fill="#eee4cc"/>
<rect x="196" y="866" width="44" height="58" fill="#eee4cc"/>
<ellipse cx="128" cy="878" rx="9" ry="8" fill="#5a5648" stroke="#2a2822" stroke-width="1.5"/>
<ellipse cx="206" cy="878" rx="9" ry="8" fill="#5a5648" stroke="#2a2822" stroke-width="1.5"/>
<rect x="128" y="905" width="78" height="14" fill="#f4eedc"/>
<rect x="140" y="865" width="54" height="56" fill="url(#gB_win)"/>
<rect x="140" y="915" width="54" height="8" fill="#f0ecdc"/>
<rect x="140" y="921" width="54" height="4" fill="#2a2a20"/>
<rect x="101" y="803" width="12.4" height="58" rx="5" fill="url(#gB_post)"/>
<ellipse cx="107.2" cy="862" rx="14" ry="8" fill="#4a463a" stroke="#222" stroke-width="1.5"/>
<rect x="105.2" y="868" width="10" height="60" fill="url(#gB_rod)"/>
<ellipse cx="110.2" cy="928" rx="15" ry="8" fill="#8a867a" stroke="#2a2822" stroke-width="2"/>
<rect x="216.6" y="803" width="14.4" height="58" rx="5" fill="url(#gB_post)"/>
<ellipse cx="223.8" cy="862" rx="14" ry="8" fill="#4a463a" stroke="#222" stroke-width="1.5"/>
<rect x="221.8" y="868" width="10" height="60" fill="url(#gB_rod)"/>
<ellipse cx="226.8" cy="928" rx="15" ry="8" fill="#8a867a" stroke="#2a2822" stroke-width="2"/>
<text transform="translate(15.21,818.5) scale(1,1.01)" font-family='"Liberation Serif", serif' font-weight="bold" font-size="52.8" fill="#fff">B</text>
<text transform="translate(100.34,802) scale(1,0.94)" font-family='"Liberation Serif", serif' font-weight="bold" font-size="41.07" fill="#fff">Sample</text>
<path d="M166.2,810 V856" stroke="#fff" stroke-width="4.5" stroke-dasharray="5 3.5"/>
<path d="M158.3,867 H173.8 L166.2,882.4 Z" fill="#fff"/>
<defs>
<linearGradient id="gC_top" x1="0" y1="0" x2="0" y2="1">
 <stop offset="0" stop-color="#c4c4c4"/><stop offset="0.5" stop-color="#8a8a8a"/><stop offset="1" stop-color="#5e5e5e"/>
</linearGradient>
<linearGradient id="gC_nicr" x1="0" y1="0" x2="0" y2="1">
 <stop offset="0" stop-color="#a6a6a6"/><stop offset="0.5" stop-color="#9a9a9a"/><stop offset="0.85" stop-color="#8e8e8e"/><stop offset="1" stop-color="#6a6a6a"/>
</linearGradient>
<filter id="fC_noise" x="0" y="0" width="100%" height="100%">
 <feTurbulence type="fractalNoise" baseFrequency="0.9 0.25" numOctaves="2" seed="3" result="t"/>
 <feColorMatrix type="matrix" values="0 0 0 0 1  0 0 0 0 1  0 0 0 0 1  0.9 0 0 0 -0.38" />
</filter>
</defs>
<filter id="fC_blur" x="0" y="-2%" width="100%" height="104%"><feGaussianBlur stdDeviation="0.1 1.8"/></filter>
<clipPath id="cC"><rect x="325.3" y="772.4" width="488.7" height="560.2"/></clipPath>
<g clip-path="url(#cC)"><g filter="url(#fC_blur)"><rect x="320.3" y="760" width="498.7" height="16" fill="#a8a8a8"/><rect x="320.3" y="776" width="498.7" height="6" fill="#7a7a7a"/><rect x="320.3" y="782" width="498.7" height="18" fill="#5c5c5c"/><rect x="320.3" y="800" width="498.7" height="15" fill="#676767"/><rect x="320.3" y="815" width="498.7" height="17" fill="#545454"/><rect x="320.3" y="832" width="498.7" height="21" fill="#6b6b6b"/><rect x="320.3" y="853" width="498.7" height="13" fill="#565656"/><rect x="320.3" y="866" width="498.7" height="19" fill="#696969"/><rect x="320.3" y="885" width="498.7" height="15" fill="#525252"/><rect x="320.3" y="900" width="498.7" height="126" fill="#6c6c6c"/><rect x="320.3" y="1026" width="498.7" height="46" fill="#696969"/><rect x="320.3" y="1072" width="498.7" height="46" fill="#5f5f5f"/><rect x="320.3" y="1118" width="498.7" height="46" fill="#5b5b5b"/><rect x="320.3" y="1164" width="498.7" height="19" fill="#565656"/><rect x="320.3" y="1183" width="498.7" height="17" fill="#a4a4a4"/><rect x="320.3" y="1200" width="498.7" height="55" fill="#9a9a9a"/><rect x="320.3" y="1255" width="498.7" height="11" fill="#808080"/><rect x="320.3" y="1266" width="498.7" height="74" fill="#3a3a3a"/><path d="M325.3,937.6 H814" stroke="#8e8e8e" stroke-width="2.2" opacity="0.8"/><path d="M325.3,981 H814" stroke="#8e8e8e" stroke-width="2.2" opacity="0.8"/><path d="M325.3,1026.6 H814" stroke="#8e8e8e" stroke-width="2.2" opacity="0.8"/><path d="M325.3,1072.5 H814" stroke="#8e8e8e" stroke-width="2.2" opacity="0.8"/><path d="M325.3,1118.4 H814" stroke="#8e8e8e" stroke-width="2.2" opacity="0.8"/><path d="M325.3,1164.4 H814" stroke="#8e8e8e" stroke-width="2.2" opacity="0.8"/></g></g>
<rect x="325.3" y="900" width="488.7" height="283" filter="url(#fC_noise)" opacity="0.16"/>
<rect x="325.3" y="1183" width="488.7" height="80" filter="url(#fC_noise)" opacity="0.3"/>
<path d="M485.32,1195.05 q0.71,4.65 2.11,9.3 M505.36,1189.48 q-0.51,4.34 0.1,8.67 M363.74,1191.44 q-3.22,11.44 -1.06,22.88 M437.16,1223.65 q0.43,9.19 6.27,18.39 M797.63,1188.79 q-1.84,6.61 5.02,13.21 M386.69,1204.51 q1.54,5.63 4.43,11.25 M636.15,1208.34 q-3.39,4.57 0.67,9.13 M428.89,1226.82 q0.48,6.83 -1.01,13.65 M547.24,1203.99 q-1.22,10.29 4.12,20.58 M605.28,1217.51 q-0.65,10.57 5.25,21.13 M799.51,1193.08 q-3.01,10.81 -1.15,21.63 M564.37,1188.35 q1.06,10.88 2.36,21.76 M749.39,1204.82 q1.19,9.35 2.73,18.7 M548.69,1236.4 q2.56,8.27 6.23,16.53 M359.34,1228.09 q2.99,12.94 2.06,25.88 M466.54,1209.15 q0.17,4.2 2.36,8.41 M410.74,1193.03 q-4.2,10.91 -6.17,21.83 M448.83,1209.46 q0.63,4.73 5.2,9.45 M593.32,1239 q-0.88,11.78 4.47,23.55 M529.1,1207.53 q-1.72,12.62 5.38,25.24 M414.66,1199.92 q-0.03,8.36 -3.73,16.73 M456.08,1186.25 q0.3,7.32 -1.13,14.65 M786.55,1227.43 q1.45,9.56 0.22,19.12 M356.15,1239.97 q3.17,11.87 3.92,23.74 M518.13,1209.94 q-4.61,9.71 -5.55,19.42 M362.54,1198.53 q-4.52,7.06 -4.73,14.12 M330.41,1195.08 q-4.91,7.27 -5.58,14.54 M748.84,1222.84 q-2.2,6.27 -4.92,12.54 M504.63,1193.37 q0.7,12.94 4.89,25.88 M561.91,1191.15 q-3,7.08 -5.57,14.17 M727.07,1195.69 q-1.11,12.56 -6.68,25.12 M400.48,1218.59 q2.5,8.75 -6.62,17.51 M743.57,1227.77 q-3.33,7.3 -3.34,14.6 M699.83,1217.96 q-1.43,6.97 3.91,13.93 M718.77,1245.1 q3.53,11.25 4.94,22.51 M684.48,1199.6 q-3.72,7.2 0.25,14.4 M343.67,1202.77 q2.98,10.23 -3.37,20.47 M544.39,1242.22 q0.28,12.6 6.83,25.19 M435.84,1199.61 q0.14,5.84 -4.25,11.68 M761.28,1236.43 q2.34,9.88 -0.29,19.75 M370.88,1225.64 q3.15,11.04 5.74,22.08 M559.13,1196.71 q3.22,6.99 4.05,13.99 M795.43,1209.75 q1.52,12.52 -1.38,25.04 M411.68,1193.62 q1.48,12.14 -4.88,24.29 M400.27,1235.59 q0.15,9.92 6.72,19.83 M592.94,1193.86 q-0.16,12.74 -6.8,25.48 M582.37,1242.02 q2.42,11.85 -0.93,23.69 M431.33,1201.11 q0.11,6.16 -2.9,12.33 M454.46,1211.14 q-2.2,12.19 -5.16,24.38 M549.62,1221 q4.47,7.79 5.66,15.57 M570.44,1217.91 q-0.41,4.17 0.33,8.34 M417.95,1186.24 q0.63,5.55 4.19,11.1 M677.45,1219.39 q-0.04,8.67 -2.44,17.33 M705.73,1192.37 q-1.62,6.24 0.84,12.47 M699.98,1216.46 q3.47,10.84 0.86,21.68 M542.48,1222.75 q1.56,8.61 0.08,17.22 M546.84,1218 q1.53,12.47 -0.31,24.95 M749.9,1242.53 q2.87,9.04 -3.37,18.07 M732.41,1194.23 q-4.48,7.98 -5.3,15.96 M445.49,1190.39 q3.65,11.06 2.37,22.11 " stroke="#e0e0e0" stroke-width="1.8" fill="none" opacity="0.45"/>
<path d="M402.16,1095.35 v19.21 M396.6,1140.36 v25.35 M433.73,1159.18 v13.97 M563.48,1169.27 v22.65 M405.56,1018.51 v16.31 M491.67,954.85 v12.37 M677.33,907.26 v17.08 M540.79,906.88 v12.63 M629.72,1040.31 v7.29 M804.77,1114.86 v25.43 M378.09,973.7 v6.79 M704.88,975.02 v8.59 M531.97,1148.08 v22.38 M452.65,942.33 v24.38 M603.87,1091.11 v7.79 M355.18,1087.82 v14.51 M362.4,1155.35 v18.69 M715.85,924.61 v23.12 M359.59,1134.95 v15.08 M491.69,1051.33 v24.53 M457.13,936.89 v16.54 M442.87,931.55 v9.23 M351.72,956.48 v12.24 M475.14,1107.06 v11.8 M569.69,950.03 v12.94 M336.1,969.62 v6.31 M682.62,1050.78 v9.79 M557.42,1154.35 v8.13 M724.23,1018.69 v15.9 M731.84,1008.13 v16.13 M660.65,1167.26 v12.85 M730.71,1092.82 v18.72 M523.46,995.84 v7.09 M390.22,921.1 v20.82 M451.19,946.08 v7.69 M735.06,1137.05 v19.41 M463.95,967.4 v11.86 M550,944.53 v14.92 M454.89,1161.68 v25.45 M592.47,968 v25.31 M477.34,998.28 v6.02 M512.27,1030.15 v16.06 M424.72,1038.28 v6.1 M455.34,926.23 v13.99 M347.5,908.07 v12.08 M440.14,1060.11 v16.58 M691.09,1079.54 v20.32 M753.4,1007.17 v12.52 M804.6,942.36 v20.48 M639.07,913.82 v22.71 M759.62,1071.38 v20.68 M720.98,939.61 v16.48 M571.77,1127.43 v22.09 M727.86,1059.7 v23.86 M658.3,1089.2 v10.6 M342.4,937.94 v13.21 M378.15,1127.67 v17.17 M631.58,1071.08 v19.61 M564.46,902.89 v21.95 M689.98,1037.8 v16.7 M646.86,919.83 v20.74 M449.54,922.1 v11.31 M680.81,957.41 v20.8 M800.24,1035.37 v13.65 M559.48,1086.6 v21.34 M626.35,1075.55 v7.55 M398.76,970.56 v20.86 M474.85,1055.3 v6.25 M356.7,974.57 v19.44 M662.8,1084.44 v11.82 M577.66,1027.46 v15.33 M384.74,1143.29 v9.99 M801.4,1154.79 v6.35 M549.76,1123.37 v25.36 M545.15,974.54 v10.2 M785.63,958.89 v17.63 M396,1043.5 v25.05 M391.57,1123.46 v16.17 M757.16,1091.9 v10.63 M762.42,1033.26 v6.5 M329.04,1034.76 v15.02 M473.66,939.99 v12.88 M480.5,1128.86 v6.03 M691.18,1128.56 v8.4 M776.33,1094.52 v24.03 M467.78,1002.5 v13.86 M811.41,1061.08 v13.21 M534.78,976.29 v6.97 M376.6,1127.36 v11.71 M780.78,969.32 v11.31 M574.96,953.26 v13.47 M790.75,1140.75 v22.24 M633.1,1148.62 v24.81 M593.51,1096.28 v6.99 M682.27,1023.73 v21.05 M639.68,979.28 v6.98 M776.51,936.37 v15.44 M493.87,982.4 v20.78 M800.51,972.25 v19.12 M473.12,1052.48 v13.89 M408.41,945.65 v10.16 M766.42,1036.21 v10.4 M766.56,1171.05 v15 M394.96,953.95 v7.81 M493.05,926.6 v10.78 M452.53,1055.8 v23.75 M690.66,1013.45 v14.28 M581.36,1003.75 v12.76 M357.38,976.93 v25.35 M388.31,1037.92 v18.59 M745.53,960.31 v11.42 M447.73,1009.93 v14.92 M789.68,1131.14 v23.46 M337.87,910.71 v20.19 M761.44,1029.78 v17.74 M327.39,1007.71 v24.54 M727.46,1132.97 v25.44 M447.73,931.44 v9.09 M580.49,1086.16 v24.83 M677.13,1076.78 v21.3 M548.97,1050.91 v6.79 M706.48,964.8 v24.4 M640.18,984.02 v8.56 M449.34,1073.8 v19.97 M381.65,921 v16.49 M609.83,1006.78 v10.47 M618.63,904.82 v12.03 M550.6,1160.91 v18.89 M755.67,1030.33 v10.7 M447.05,1161.37 v20.09 M476.3,907.88 v15.97 M654.21,1015.4 v11.15 M650.77,1151.79 v10.54 M343.83,993.27 v14.41 M658.14,955.48 v21.94 M685.56,1038.32 v10.1 M797.39,986.16 v22.4 M439.17,961.79 v21.21 M470.25,1159.02 v15.92 M418.09,962.3 v14.34 " stroke="#888" stroke-width="1.3" fill="none" opacity="0.35"/>
<path d="M404,818 Q420,815 445,814" stroke="#c4c4c4" stroke-width="2.5" fill="none" opacity="0.85"/>
<path d="M763,789 Q770,788 778,789" stroke="#c8c8c8" stroke-width="2.5" fill="none"/>
<path d="M528.3,779.5 H611" stroke="#f5a76c" stroke-width="3.5" stroke-dasharray="4.5 3.5"/>
<path d="M565,795 V900" stroke="#f5a76c" stroke-width="4" stroke-dasharray="4.5 3.5"/>
<path d="M565,780.5 L556.8,796.3 H573.2 Z" fill="#f5a76c"/>
<path d="M565,916 L556.8,900 H573.2 Z" fill="#f5a76c"/>
<path d="M531.8,918.9 H600.6" stroke="#a9d1f0" stroke-width="3.5" stroke-dasharray="4.5 3.5"/>
<path d="M565,936 V1167" stroke="#a9d1f0" stroke-width="4" stroke-dasharray="4.5 3.5"/>
<path d="M565,920.5 L556.8,936.5 H573.2 Z" fill="#a9d1f0"/>
<path d="M565,1182 L556.8,1166 H573.2 Z" fill="#a9d1f0"/>
<path d="M531.8,1183.2 H605" stroke="#a9d1f0" stroke-width="3.5" stroke-dasharray="4.5 3.5"/>
<text transform="translate(353.6,821.6) scale(1,0.97)" font-family='"Liberation Serif", serif' font-weight="bold" font-size="60" fill="#000">C</text>
<text transform="translate(580.58,854.7) scale(1,1.01)" font-family='"Liberation Serif", serif' font-weight="bold" font-size="38.16" fill="#fff">(SiO</text>
<text transform="translate(654.5,863.6) scale(1,1.04)" font-family='"Liberation Serif", serif' font-weight="bold" font-size="25" fill="#fff">2</text>
<text transform="translate(667.38,854.7) scale(1,1.01)" font-family='"Liberation Serif", serif' font-weight="bold" font-size="37.87" fill="#fff">/Si)</text>
<text transform="translate(721.97,843.2) scale(1,0.96)" font-family='"Liberation Serif", serif' font-weight="bold" font-style="italic" font-size="26.48" fill="#fff">m</text>
<text transform="translate(580.6,1059.7) scale(1,0.99)" font-family='"Liberation Serif", serif' font-weight="bold" font-size="37.81" fill="#fff">(Si/Cr/Si)</text>
<text transform="translate(735.5,1047.7) scale(1,0.98)" font-family='"Liberation Serif", serif' font-weight="bold" font-style="italic" font-size="24.95" fill="#fff">n</text>
<text transform="translate(514.41,1241.7) scale(1,0.88)" font-family='"Liberation Sans", sans-serif' font-weight="bold" font-size="39.88" fill="#fff">Ni</text>
<text transform="translate(551.75,1251.4) scale(1,1.02)" font-family='"Liberation Sans", sans-serif' font-weight="bold" font-size="25" fill="#fff">80</text>
<text transform="translate(578.69,1241.7) scale(1,1.11)" font-family='"Liberation Sans", sans-serif' font-weight="bold" font-size="32.7" fill="#fff">Cr</text>
<text transform="translate(614.61,1251.6) scale(1,1.02)" font-family='"Liberation Sans", sans-serif' font-weight="bold" font-size="25.31" fill="#fff">20</text>
<text transform="translate(451.46,1313) scale(1,1.01)" font-family='"Liberation Sans", sans-serif' font-weight="bold" font-size="34.63" fill="#fff">Substrate</text>
<rect x="638.5" y="1297.8" width="28.4" height="8.6" fill="#fff"/>
<text transform="translate(671.77,1315) scale(1,0.99)" font-family='"Liberation Sans", sans-serif' font-weight="bold" font-size="37.17" fill="#fff">100 nm</text>
<path d="M814.1,875.8 L830.4,867.8 L830.4,883.8 Z" fill="#000"/>
<path d="M830,875.8 H854" stroke="#000" stroke-width="2.9" stroke-dasharray="2.9 2.9"/>
<text transform="translate(859.05,878.7) scale(1,0.96)" font-family='"Liberation Serif", serif' font-weight="bold" font-size="33.73" fill="#000">Si</text>
<path d="M814.1,893.2 L830.4,885.2 L830.4,901.2 Z" fill="#000"/>
<path d="M830,893.2 H854" stroke="#000" stroke-width="2.9" stroke-dasharray="2.9 2.9"/>
<text transform="translate(859.08,909.5) scale(1,0.98)" font-family='"Liberation Serif", serif' font-weight="bold" font-size="33.18" fill="#000">SiO</text>
<text transform="translate(911.93,916.8) scale(1,0.97)" font-family='"Liberation Serif", serif' font-weight="bold" font-size="21.67" fill="#000">2</text>
<path d="M814.1,1136.5 L830.4,1128.5 L830.4,1144.5 Z" fill="#000"/>
<path d="M830,1136.5 H854" stroke="#000" stroke-width="2.9" stroke-dasharray="2.9 2.9"/>
<text transform="translate(859.27,1142) scale(1,1.05)" font-family='"Liberation Serif", serif' font-weight="bold" font-size="29.67" fill="#000">Si</text>
<path d="M814.1,1161.9 L830.4,1153.9 L830.4,1169.9 Z" fill="#000"/>
<path d="M830,1161.9 H854" stroke="#000" stroke-width="2.9" stroke-dasharray="2.9 2.9"/>
<text transform="translate(859.37,1170.5) scale(1,0.99)" font-family='"Liberation Serif", serif' font-weight="bold" font-size="30.5" fill="#000">Cr</text>
<path d="M814.1,1177.8 L830.4,1169.8 L830.4,1185.8 Z" fill="#000"/>
<path d="M830,1177.8 H854" stroke="#000" stroke-width="2.9" stroke-dasharray="2.9 2.9"/>
<text transform="translate(859.24,1198.5) scale(1,1.01)" font-family='"Liberation Serif", serif' font-weight="bold" font-size="30.2" fill="#000">Si</text>
<path d="M1096,491.8 H1690.8" stroke="#262626" stroke-width="3.0"/>
<path d="M1097.5,110 V493.3" stroke="#262626" stroke-width="3.0"/>
<path d="M1689.3,110 V493.3" stroke="#262626" stroke-width="3.0"/>
<path d="M1096,111.5 H1205 M1630.5,111.5 H1690.8" stroke="#262626" stroke-width="3.0"/>
<path d="M1097.5,491.8 v13 M1097.5,111.5 v-13 M1212.88,491.8 v13 M1306.03,491.8 v13 M1365.4,491.8 v13 M1432.89,491.8 v13 M1517.92,491.8 v13 M1596.15,491.8 v13 M1689.3,491.8 v13 M1689.3,111.5 v-13 M1134.64,491.8 v7 M1134.64,111.5 v-7 M1164.99,491.8 v7 M1164.99,111.5 v-7 M1190.65,491.8 v7 M1190.65,111.5 v-7 M1232.48,491.8 v7 M1250.02,491.8 v7 M1480.77,491.8 v7 M1548.26,491.8 v7 M1573.92,491.8 v7 M1615.76,491.8 v7 M1633.29,491.8 v7 M1633.29,111.5 v-7 " stroke="#262626" stroke-width="3.0"/>
<path d="M1097.5,491.8 h-13 M1689.3,491.8 h13 M1097.5,415.74 h-13 M1689.3,415.74 h13 M1097.5,339.68 h-13 M1689.3,339.68 h13 M1097.5,263.62 h-13 M1689.3,263.62 h13 M1097.5,187.56 h-13 M1689.3,187.56 h13 M1097.5,111.5 h-13 M1689.3,111.5 h13 " stroke="#262626" stroke-width="3.0"/>
<text transform="translate(1071,507.59) scale(1,1)" font-family='"Liberation Serif", serif' font-size="47" fill="#262626" text-anchor="end">0</text>
<text transform="translate(1071,431.53) scale(1,1)" font-family='"Liberation Serif", serif' font-size="47" fill="#262626" text-anchor="end">200</text>
<text transform="translate(1071,355.47) scale(1,1)" font-family='"Liberation Serif", serif' font-size="47" fill="#262626" text-anchor="end">400</text>
<text transform="translate(1071,279.41) scale(1,1)" font-family='"Liberation Serif", serif' font-size="47" fill="#262626" text-anchor="end">600</text>
<text transform="translate(1071,203.35) scale(1,1)" font-family='"Liberation Serif", serif' font-size="47" fill="#262626" text-anchor="end">800</text>
<text transform="translate(1071,127.29) scale(1,1)" font-family='"Liberation Serif", serif' font-size="47" fill="#262626" text-anchor="end">1000</text>
<text transform="translate(1097.5,559) scale(1,1)" font-family='"Liberation Serif", serif' font-size="47" fill="#262626" text-anchor="middle">0.4</text>
<text transform="translate(1212.88,559) scale(1,1)" font-family='"Liberation Serif", serif' font-size="47" fill="#262626" text-anchor="middle">0.8</text>
<text transform="translate(1306.03,559) scale(1,1)" font-family='"Liberation Serif", serif' font-size="47" fill="#262626" text-anchor="middle">1.4</text>
<text transform="translate(1365.4,559) scale(1,1)" font-family='"Liberation Serif", serif' font-size="47" fill="#262626" text-anchor="middle">2</text>
<text transform="translate(1432.89,559) scale(1,1)" font-family='"Liberation Serif", serif' font-size="47" fill="#262626" text-anchor="middle">3</text>
<text transform="translate(1517.92,559) scale(1,1)" font-family='"Liberation Serif", serif' font-size="47" fill="#262626" text-anchor="middle">5</text>
<text transform="translate(1596.15,559) scale(1,1)" font-family='"Liberation Serif", serif' font-size="47" fill="#262626" text-anchor="middle">8</text>
<text transform="translate(1689.3,559) scale(1,1)" font-family='"Liberation Serif", serif' font-size="47" fill="#262626" text-anchor="middle">14</text>
<clipPath id="cD"><rect x="1097.5" y="111.5" width="591.8" height="380.3"/></clipPath>
<path clip-path="url(#cD)" d="M1098,442.6 C1099.03,433.6 1102.45,394.53 1104.2,388.6 C1105.95,382.67 1106.13,417.18 1108.5,407 C1110.87,396.82 1115.57,352.17 1118.4,327.5 C1121.23,302.83 1123.13,295.02 1125.5,259 C1127.87,222.98 1130.85,147.9 1132.6,111.4 C1134.35,74.9 1131.43,51.9 1136,40 C1140.57,28.1 1155.25,28.1 1160,40 C1164.75,51.9 1163.13,89.57 1164.5,111.4 C1165.87,133.23 1166.63,153 1168.2,171 C1169.77,189 1170.82,199.02 1173.9,219.4 C1176.98,239.78 1181.73,273.87 1186.7,293.3 C1191.67,312.73 1199.32,324.88 1203.7,336 C1208.08,347.12 1210.53,352.33 1213,360 C1215.47,367.67 1217.08,372 1218.5,382 C1219.92,392 1220.55,405.4 1221.5,420 C1222.45,434.6 1223.2,466.27 1224.2,469.6 C1225.2,472.93 1226.37,451.6 1227.5,440 C1228.63,428.4 1229.52,413.78 1231,400 C1232.48,386.22 1234.07,363 1236.4,357.3 C1238.73,351.6 1242.4,365.02 1245,365.8 C1247.6,366.58 1248.93,359.63 1252,362 C1255.07,364.37 1260.07,377.23 1263.4,380 C1266.73,382.77 1269.62,377.6 1272,378.6 C1274.38,379.6 1276.2,377.93 1277.7,386 C1279.2,394.07 1279.82,413.07 1281,427 C1282.18,440.93 1283.47,471.02 1284.8,469.6 C1286.13,468.18 1287.47,429.43 1289,418.5 C1290.53,407.57 1291.87,407.32 1294,404 C1296.13,400.68 1299.3,398.1 1301.8,398.6 C1304.3,399.1 1306.53,398.72 1309,407 C1311.47,415.28 1314.27,449.7 1316.6,448.3 C1318.93,446.9 1320.82,408.33 1323,398.6 C1325.18,388.87 1326.37,387.23 1329.7,389.9 C1333.03,392.57 1339.78,413.7 1343,414.6 C1346.22,415.5 1346.48,401.23 1349,395.3 C1351.52,389.37 1355.38,380.42 1358.1,379 C1360.82,377.58 1362.02,381.37 1365.3,386.8 C1368.58,392.23 1374.67,409.98 1377.8,411.6 C1380.93,413.22 1381.13,401.43 1384.1,396.5 C1387.07,391.57 1392.18,383.22 1395.6,382 C1399.02,380.78 1400.78,379.63 1404.6,389.2 C1408.42,398.77 1414.87,435.17 1418.5,439.4 C1422.13,443.63 1422.87,422.75 1426.4,414.6 C1429.93,406.45 1436.07,393.32 1439.7,390.5 C1443.33,387.68 1445.78,391.67 1448.2,397.7 C1450.62,403.73 1452.15,412.48 1454.2,426.7 C1456.25,440.92 1458.48,480.98 1460.5,483 C1462.52,485.02 1463.92,451.8 1466.3,438.8 C1468.68,425.8 1471.98,411.75 1474.8,405 C1477.62,398.25 1480.18,397.5 1483.2,398.3 C1486.22,399.1 1489.87,405.07 1492.9,409.8 C1495.93,414.53 1498.58,422.27 1501.4,426.7 C1504.22,431.13 1506.02,435.83 1509.8,436.4 C1513.58,436.97 1519.58,430.08 1524.1,430.1 C1528.62,430.12 1532.63,432.77 1536.9,436.5 C1541.17,440.23 1546.5,451.43 1549.7,452.5 C1552.9,453.57 1553.75,450.05 1556.1,442.9 C1558.45,435.75 1561.35,419.83 1563.8,409.6 C1566.25,399.37 1568.45,387.05 1570.8,381.5 C1573.15,375.95 1575.23,378.65 1577.9,376.3 C1580.57,373.95 1584.03,369.53 1586.8,367.4 C1589.57,365.27 1591.72,363.82 1594.5,363.5 C1597.28,363.18 1600.93,365.5 1603.5,365.5 C1606.07,365.5 1607.98,364.78 1609.9,363.5 C1611.82,362.22 1613.08,353.95 1615,357.8 C1616.92,361.65 1619.27,378.4 1621.4,386.6 C1623.53,394.8 1625.77,399.63 1627.8,407 C1629.83,414.37 1631.9,428.43 1633.6,430.8 C1635.3,433.17 1636.2,428.57 1638,421.2 C1639.8,413.83 1642.27,394.72 1644.4,386.6 C1646.53,378.48 1648.02,375.82 1650.8,372.5 C1653.58,369.18 1658,367.23 1661.1,366.7 C1664.2,366.17 1666.42,370.68 1669.4,369.3 C1672.38,367.92 1675.68,360.97 1679,358.4 C1682.32,355.83 1687.58,354.65 1689.3,353.9" fill="none" stroke="#ff0000" stroke-width="3.7" stroke-linejoin="round"/>
<text transform="translate(975.2,371.49) scale(0.93,1) rotate(-90)" font-family='"Liberation Serif", serif' font-style="italic" font-size="49.01" fill="#262626">Z</text>
<text transform="translate(985.5,344.35) scale(1.16,1) rotate(-90)" font-family='"Liberation Serif", serif' font-size="28.33" fill="#262626">LTEs</text>
<text transform="translate(979.9,282.54) scale(1.27,1) rotate(-90)" font-family='"Liberation Serif", serif' font-size="52.69" fill="#262626">-</text>
<text transform="translate(975.2,267.04) scale(0.84,1) rotate(-90)" font-family='"Liberation Serif", serif' font-style="italic" font-size="54.41" fill="#262626">Z</text>
<text transform="translate(985.5,236.85) scale(0.99,1) rotate(-90)" font-family='"Liberation Serif", serif' font-size="29.9" fill="#262626">air</text>
<path d="M942.8,378.8 H984.6 M942.8,201.3 H984.6" stroke="#262626" stroke-width="2.2"/>
<text transform="translate(927.86,133) scale(1,0.97)" font-family='"Liberation Serif", serif' font-weight="bold" font-size="56.06" fill="#000">D</text>
<path d="M1094.2,877.2 H1681" stroke="#262626" stroke-width="3.0"/>
<path d="M1095.7,609.4 V878.7" stroke="#262626" stroke-width="3.0"/>
<path d="M1679.5,609.4 V878.7" stroke="#262626" stroke-width="3.0"/>
<path d="M1094.2,610.9 H1681" stroke="#262626" stroke-width="3.0"/>
<path d="M1095.7,877.2 v13 M1095.7,610.9 v-13 M1209.52,877.2 v13 M1209.52,610.9 v-13 M1301.41,877.2 v13 M1301.41,610.9 v-13 M1359.98,877.2 v13 M1359.98,610.9 v-13 M1426.55,877.2 v13 M1426.55,610.9 v-13 M1510.43,877.2 v13 M1510.43,610.9 v-13 M1587.61,877.2 v13 M1587.61,610.9 v-13 M1679.5,877.2 v13 M1679.5,610.9 v-13 M1132.34,877.2 v7 M1132.34,610.9 v-7 M1162.28,877.2 v7 M1162.28,610.9 v-7 M1187.59,877.2 v7 M1187.59,610.9 v-7 M1228.86,877.2 v7 M1228.86,610.9 v-7 M1246.16,877.2 v7 M1246.16,610.9 v-7 M1473.79,877.2 v7 M1473.79,610.9 v-7 M1540.37,877.2 v7 M1540.37,610.9 v-7 M1565.68,877.2 v7 M1565.68,610.9 v-7 M1606.95,877.2 v7 M1606.95,610.9 v-7 M1624.25,877.2 v7 M1624.25,610.9 v-7 " stroke="#262626" stroke-width="3.0"/>
<path d="M1095.7,877.2 h-13 M1679.5,877.2 h13 M1095.7,823.94 h-13 M1679.5,823.94 h13 M1095.7,770.68 h-13 M1679.5,770.68 h13 M1095.7,717.42 h-13 M1679.5,717.42 h13 M1095.7,664.16 h-13 M1679.5,664.16 h13 M1095.7,610.9 h-13 M1679.5,610.9 h13 " stroke="#262626" stroke-width="3.0"/>
<text transform="translate(1070.5,892.15) scale(1,1)" font-family='"Liberation Serif", serif' font-size="44.5" fill="#262626" text-anchor="end">0</text>
<text transform="translate(1070.5,838.89) scale(1,1)" font-family='"Liberation Serif", serif' font-size="44.5" fill="#262626" text-anchor="end">0.2</text>
<text transform="translate(1070.5,785.63) scale(1,1)" font-family='"Liberation Serif", serif' font-size="44.5" fill="#262626" text-anchor="end">0.4</text>
<text transform="translate(1070.5,732.37) scale(1,1)" font-family='"Liberation Serif", serif' font-size="44.5" fill="#262626" text-anchor="end">0.6</text>
<text transform="translate(1070.5,679.11) scale(1,1)" font-family='"Liberation Serif", serif' font-size="44.5" fill="#262626" text-anchor="end">0.8</text>
<text transform="translate(1070.5,625.85) scale(1,1)" font-family='"Liberation Serif", serif' font-size="44.5" fill="#262626" text-anchor="end">1</text>
<text transform="translate(1095.7,943.7) scale(1,1)" font-family='"Liberation Serif", serif' font-size="44.7" fill="#262626" text-anchor="middle">0.4</text>
<text transform="translate(1209.52,943.7) scale(1,1)" font-family='"Liberation Serif", serif' font-size="44.7" fill="#262626" text-anchor="middle">0.8</text>
<text transform="translate(1301.41,943.7) scale(1,1)" font-family='"Liberation Serif", serif' font-size="44.7" fill="#262626" text-anchor="middle">1.4</text>
<text transform="translate(1359.98,943.7) scale(1,1)" font-family='"Liberation Serif", serif' font-size="44.7" fill="#262626" text-anchor="middle">2</text>
<text transform="translate(1426.55,943.7) scale(1,1)" font-family='"Liberation Serif", serif' font-size="44.7" fill="#262626" text-anchor="middle">3</text>
<text transform="translate(1510.43,943.7) scale(1,1)" font-family='"Liberation Serif", serif' font-size="44.7" fill="#262626" text-anchor="middle">5</text>
<text transform="translate(1587.61,943.7) scale(1,1)" font-family='"Liberation Serif", serif' font-size="44.7" fill="#262626" text-anchor="middle">8</text>
<text transform="translate(1679.5,943.7) scale(1,1)" font-family='"Liberation Serif", serif' font-size="44.7" fill="#262626" text-anchor="middle">14</text>
<path d="M1132.3,713.4 C1133.33,710.82 1136.27,700.82 1138.5,697.9 C1140.73,694.98 1143.47,698.47 1145.7,695.9 C1147.93,693.33 1149.15,690.58 1151.9,682.5 C1154.65,674.42 1158.77,657.2 1162.2,647.4 C1165.63,637.6 1169.42,625.42 1172.5,623.7 C1175.58,621.98 1177.62,629.72 1180.7,637.1 C1183.78,644.48 1187.9,660.43 1191,668 C1194.1,675.57 1196.88,674.93 1199.3,682.5 C1201.72,690.07 1203.45,696.22 1205.5,713.4 C1207.55,730.58 1209.88,763.27 1211.6,785.6 C1213.32,807.93 1214.58,834 1215.8,847.4 C1217.02,860.8 1217.87,864.28 1218.9,866 C1219.93,867.72 1220.47,871.1 1222,857.7 C1223.53,844.3 1226.38,803.47 1228.1,785.6 C1229.82,767.73 1230.92,757.38 1232.3,750.5 C1233.68,743.62 1235.03,748.08 1236.4,744.3 C1237.77,740.52 1239.3,731.23 1240.5,727.8 C1241.7,724.37 1242.63,725.42 1243.6,723.7 C1244.57,721.98 1245.85,718.53 1246.3,717.5" fill="none" stroke="#0000ff" stroke-width="3.9" stroke-linejoin="round"/>
<path d="M1277.4,813.5 C1277.85,811.82 1279.08,802.95 1280.1,803.4 C1281.12,803.85 1282.25,809.33 1283.5,816.2 C1284.75,823.07 1285.68,835.37 1287.6,844.6 C1289.52,853.83 1292.08,869.8 1295,871.6 C1297.92,873.4 1301.62,856.97 1305.1,855.4 C1308.58,853.83 1312.97,864.9 1315.9,862.2 C1318.83,859.5 1320.22,847.32 1322.7,839.2 C1325.18,831.08 1328.77,818.23 1330.8,813.5 C1332.83,808.77 1332.3,809.33 1334.9,810.8 C1337.5,812.27 1343.03,822.07 1346.4,822.3 C1349.77,822.53 1351.4,818.05 1355.1,812.2 C1358.8,806.35 1364.77,789.68 1368.6,787.2 C1372.43,784.72 1375.17,792.02 1378.1,797.3 C1381.03,802.58 1383.27,813.27 1386.2,818.9 C1389.13,824.53 1392.55,830.42 1395.7,831.1 C1398.85,831.78 1401.95,825.03 1405.1,823 C1408.25,820.97 1411.22,818.45 1414.6,818.9 C1417.98,819.35 1421.8,821.65 1425.4,825.7 C1429,829.75 1432.6,836.9 1436.2,843.2 C1439.8,849.5 1443.17,858.53 1447,863.5 C1450.83,868.47 1453.62,872.3 1459.2,873 C1464.78,873.7 1474.1,867.58 1480.5,867.7 C1486.9,867.82 1491.92,872.28 1497.6,873.7 C1503.28,875.12 1509.48,876.92 1514.6,876.2 C1519.72,875.48 1523.17,873.52 1528.3,869.4 C1533.43,865.28 1539.72,857.2 1545.4,851.5 C1551.08,845.8 1556.72,840.05 1562.4,835.2 C1568.08,830.35 1574.93,825.67 1579.5,822.4 C1584.07,819.13 1586.1,819 1589.8,815.6 C1593.5,812.2 1598.87,805.7 1601.7,802 C1604.53,798.3 1605.38,797.53 1606.8,793.4 C1608.22,789.27 1609.05,778.62 1610.2,777.2 C1611.35,775.78 1612.13,779.92 1613.7,784.9 C1615.27,789.88 1617.33,798.72 1619.6,807.1 C1621.87,815.48 1624.3,831.22 1627.3,835.2 C1630.3,839.18 1634.18,832.42 1637.6,831 C1641.02,829.58 1644.68,828.42 1647.8,826.7 C1650.92,824.98 1653.17,821.27 1656.3,820.7 C1659.43,820.13 1663.18,823.72 1666.6,823.3 C1670.02,822.88 1675.1,819.05 1676.8,818.2" fill="none" stroke="#0000ff" stroke-width="3.9" stroke-linejoin="round"/>
<path d="M1095.8,868 C1096.55,862.17 1099.2,840.9 1100.3,833 C1101.4,825.1 1101.53,821.63 1102.4,820.6 C1103.27,819.57 1104.82,823.53 1105.5,826.8 C1106.18,830.07 1105.98,845.35 1106.5,840.2 C1107.02,835.05 1107.92,815.32 1108.6,795.9 C1109.28,776.48 1109.92,741.92 1110.6,723.7 C1111.28,705.48 1111.67,698.28 1112.7,686.6 C1113.73,674.92 1114.75,662.53 1116.8,653.6 C1118.85,644.67 1121.57,637.82 1125,633 C1128.43,628.18 1132.92,626.77 1137.4,624.7 C1141.88,622.63 1146.73,621.45 1151.9,620.6 C1157.07,619.75 1164.28,619.25 1168.4,619.6 C1172.52,619.95 1174.37,621.33 1176.6,622.7 C1178.83,624.07 1179.57,628.15 1181.8,627.8 C1184.03,627.45 1187.43,619.9 1190,620.6 C1192.57,621.3 1195.13,628.9 1197.2,632 C1199.27,635.1 1201.02,635.6 1202.4,639.2 C1203.78,642.8 1204.3,646.38 1205.5,653.6 C1206.7,660.82 1208.23,669.1 1209.6,682.5 C1210.97,695.9 1212.33,713.38 1213.7,734 C1215.07,754.62 1216.77,783.17 1217.8,806.2 C1218.83,829.23 1218.87,863.62 1219.9,872.2 C1220.93,880.78 1222.28,872.13 1224,857.7 C1225.72,843.27 1228.48,802.43 1230.2,785.6 C1231.92,768.77 1232.58,761.52 1234.3,756.7 C1236.02,751.88 1238.78,759.45 1240.5,756.7 C1242.22,753.95 1243.22,746.05 1244.6,740.2 C1245.98,734.35 1247.42,723.67 1248.8,721.6 C1250.18,719.53 1251.53,722.3 1252.9,727.8 C1254.27,733.3 1255.8,747.38 1257,754.6 C1258.2,761.82 1259.07,769.37 1260.1,771.1 C1261.13,772.83 1262,766.37 1263.2,765 C1264.4,763.63 1265.93,760.5 1267.3,762.9 C1268.67,765.3 1270.02,770.47 1271.4,779.4 C1272.78,788.33 1274.25,800.57 1275.6,816.5 C1276.95,832.43 1277.5,871 1279.5,875 C1281.5,879 1284.23,849.85 1287.6,840.5 C1290.97,831.15 1296.78,820.25 1299.7,818.9 C1302.62,817.55 1303.07,823.62 1305.1,832.4 C1307.13,841.18 1309.65,871.15 1311.9,871.6 C1314.15,872.05 1316.23,846.58 1318.6,835.1 C1320.97,823.62 1324.07,806.07 1326.1,802.7 C1328.13,799.33 1328.78,807.7 1330.8,814.9 C1332.82,822.1 1335.72,849.28 1338.2,845.9 C1340.68,842.52 1343.33,807.43 1345.7,794.6 C1348.07,781.77 1350.15,770.7 1352.4,768.9 C1354.65,767.1 1355.93,772.32 1359.2,783.8 C1362.47,795.28 1368.4,835.55 1372,837.8 C1375.6,840.05 1377.87,808.1 1380.8,797.3 C1383.73,786.5 1386.9,774.8 1389.6,773 C1392.3,771.2 1393.28,771.42 1397,786.5 C1400.72,801.58 1407.62,858.1 1411.9,863.5 C1416.18,868.9 1419.1,829.72 1422.7,818.9 C1426.3,808.08 1430.57,798.82 1433.5,798.6 C1436.43,798.38 1436.92,804.63 1440.3,817.6 C1443.68,830.57 1450.2,871.68 1453.8,876.4 C1457.4,881.12 1459.73,854.32 1461.9,845.9 C1464.07,837.48 1464.42,831.08 1466.8,825.9 C1469.18,820.72 1473.35,814.52 1476.2,814.8 C1479.05,815.08 1480.92,820.92 1483.9,827.6 C1486.88,834.28 1490.97,849.22 1494.1,854.9 C1497.23,860.58 1499.28,861.13 1502.7,861.7 C1506.12,862.27 1510.33,858.02 1514.6,858.3 C1518.87,858.58 1523.45,860.98 1528.3,863.4 C1533.15,865.82 1539.15,872.8 1543.7,872.8 C1548.25,872.8 1551.33,869.23 1555.6,863.4 C1559.87,857.57 1564.75,847.75 1569.3,837.8 C1573.85,827.85 1578.63,812.52 1582.9,803.7 C1587.17,794.88 1591.77,790.6 1594.9,784.9 C1598.03,779.2 1599.72,778.03 1601.7,769.5 C1603.68,760.97 1605.52,736.55 1606.8,733.7 C1608.08,730.85 1608.25,743.58 1609.4,752.4 C1610.55,761.22 1611.85,770.95 1613.7,786.6 C1615.55,802.25 1618.52,834.35 1620.5,846.3 C1622.48,858.25 1623.9,858.3 1625.6,858.3 C1627.3,858.3 1628.42,854.83 1630.7,846.3 C1632.98,837.77 1636.17,817.33 1639.3,807.1 C1642.43,796.87 1645.8,789.17 1649.5,784.9 C1653.2,780.63 1658.08,786.33 1661.5,781.5 C1664.92,776.67 1667.02,764.45 1670,755.9 C1672.98,747.35 1677.83,734.48 1679.4,730.2" fill="none" stroke="#ff0000" stroke-width="4.2" stroke-dasharray="11 3 5 3"/>
<path d="M1280,654 H1358" stroke="#ff0000" stroke-width="3.6" stroke-dasharray="16.6 12.2 3.6 12.3"/>
<path d="M1278,700.7 H1361.4" stroke="#0000ff" stroke-width="3.6"/>
<text transform="translate(1369.96,666.8) scale(1,1.01)" font-family='"Liberation Serif", serif' font-size="43.64" fill="#000">Simulated</text>
<text transform="translate(1370.29,717.3) scale(1,0.94)" font-family='"Liberation Serif", serif' font-size="43.51" fill="#000">Measured</text>
<text transform="translate(991.7,862.7) scale(0.9,1) rotate(-90)" font-family='"Liberation Serif", serif' font-size="50.12" fill="#262626">Reflectivity</text>
<text transform="translate(940.5,549.9) scale(1,1.04)" font-family='"Liberation Serif", serif' font-weight="bold" font-size="53.33" fill="#000">E</text>
<path d="M1091.6,1259.2 H1686.9" stroke="#262626" stroke-width="3.0"/>
<path d="M1093.1,978.5 V1260.7" stroke="#262626" stroke-width="3.0"/>
<path d="M1685.4,978.5 V1260.7" stroke="#262626" stroke-width="3.0"/>
<path d="M1091.6,980 H1686.9" stroke="#262626" stroke-width="3.0"/>
<path d="M1093.1,1259.2 v13 M1093.1,980 v-13 M1208.57,1259.2 v13 M1208.57,980 v-13 M1301.8,1259.2 v13 M1301.8,980 v-13 M1361.22,1259.2 v13 M1361.22,980 v-13 M1428.77,1259.2 v13 M1428.77,980 v-13 M1513.87,1259.2 v13 M1513.87,980 v-13 M1592.17,1259.2 v13 M1592.17,980 v-13 M1685.4,1259.2 v13 M1685.4,980 v-13 M1130.27,1259.2 v7 M1130.27,980 v-7 M1160.65,1259.2 v7 M1160.65,980 v-7 M1186.33,1259.2 v7 M1186.33,980 v-7 M1228.2,1259.2 v7 M1228.2,980 v-7 M1245.75,1259.2 v7 M1245.75,980 v-7 M1476.7,1259.2 v7 M1476.7,980 v-7 M1544.25,1259.2 v7 M1544.25,980 v-7 M1569.93,1259.2 v7 M1569.93,980 v-7 M1611.79,1259.2 v7 M1611.79,980 v-7 M1629.35,1259.2 v7 M1629.35,980 v-7 " stroke="#262626" stroke-width="3.0"/>
<path d="M1093.1,980 h-13 M1685.4,980 h13 M1093.1,1007.92 h-13 M1685.4,1007.92 h13 M1093.1,1049.8 h-13 M1685.4,1049.8 h13 M1093.1,1119.6 h-13 M1685.4,1119.6 h13 M1093.1,1189.4 h-13 M1685.4,1189.4 h13 M1093.1,1259.2 h-13 M1685.4,1259.2 h13 M1093.1,993.96 h-7 M1685.4,993.96 h7 M1093.1,1021.88 h-7 M1685.4,1021.88 h7 M1093.1,1035.84 h-7 M1685.4,1035.84 h7 M1093.1,1063.76 h-7 M1685.4,1063.76 h7 M1093.1,1077.72 h-7 M1685.4,1077.72 h7 M1093.1,1091.68 h-7 M1685.4,1091.68 h7 M1093.1,1105.64 h-7 M1685.4,1105.64 h7 M1093.1,1133.56 h-7 M1685.4,1133.56 h7 M1093.1,1147.52 h-7 M1685.4,1147.52 h7 M1093.1,1161.48 h-7 M1685.4,1161.48 h7 M1093.1,1175.44 h-7 M1685.4,1175.44 h7 M1093.1,1203.36 h-7 M1685.4,1203.36 h7 M1093.1,1217.32 h-7 M1685.4,1217.32 h7 M1093.1,1231.28 h-7 M1685.4,1231.28 h7 M1093.1,1245.24 h-7 M1685.4,1245.24 h7 " stroke="#262626" stroke-width="3.0"/>
<text transform="translate(1093.1,1331.5) scale(1,1)" font-family='"Liberation Serif", serif' font-size="48.5" fill="#262626" text-anchor="middle">0.4</text>
<text transform="translate(1208.57,1331.5) scale(1,1)" font-family='"Liberation Serif", serif' font-size="48.5" fill="#262626" text-anchor="middle">0.8</text>
<text transform="translate(1301.8,1331.5) scale(1,1)" font-family='"Liberation Serif", serif' font-size="48.5" fill="#262626" text-anchor="middle">1.4</text>
<text transform="translate(1361.22,1331.5) scale(1,1)" font-family='"Liberation Serif", serif' font-size="48.5" fill="#262626" text-anchor="middle">2</text>
<text transform="translate(1428.77,1331.5) scale(1,1)" font-family='"Liberation Serif", serif' font-size="48.5" fill="#262626" text-anchor="middle">3</text>
<text transform="translate(1513.87,1331.5) scale(1,1)" font-family='"Liberation Serif", serif' font-size="48.5" fill="#262626" text-anchor="middle">5</text>
<text transform="translate(1592.17,1331.5) scale(1,1)" font-family='"Liberation Serif", serif' font-size="48.5" fill="#262626" text-anchor="middle">8</text>
<text transform="translate(1685.4,1331.5) scale(1,1)" font-family='"Liberation Serif", serif' font-size="48.5" fill="#262626" text-anchor="middle">14</text>
<text transform="translate(1024.37,1002.9) scale(1,1.38)" font-family='"Liberation Serif", serif' font-size="30.99" fill="#000">1</text>
<text transform="translate(1000.84,1040.3) scale(1,1.04)" font-family='"Liberation Serif", serif' font-size="40.69" fill="#000">10</text>
<text transform="translate(1041.24,1027.8) scale(1,1.05)" font-family='"Liberation Serif", serif' font-size="27.38" fill="#000">-2</text>
<text transform="translate(999.99,1084.2) scale(1,1.06)" font-family='"Liberation Serif", serif' font-size="40.11" fill="#000">10</text>
<text transform="translate(1040.09,1072.2) scale(1,1.09)" font-family='"Liberation Serif", serif' font-size="25.92" fill="#000">-5</text>
<text transform="translate(989.1,1142.5) scale(1,1.05)" font-family='"Liberation Serif", serif' font-size="40" fill="#000">10</text>
<text transform="translate(1029.44,1131) scale(1,0.92)" font-family='"Liberation Serif", serif' font-size="30.16" fill="#000">-10</text>
<text transform="translate(989.1,1207.5) scale(1,1.07)" font-family='"Liberation Serif", serif' font-size="40" fill="#000">10</text>
<text transform="translate(1029.44,1196) scale(1,0.93)" font-family='"Liberation Serif", serif' font-size="30.16" fill="#000">-15</text>
<text transform="translate(989.1,1277) scale(1,1.07)" font-family='"Liberation Serif", serif' font-size="40" fill="#000">10</text>
<text transform="translate(1029.44,1265.5) scale(1,0.92)" font-family='"Liberation Serif", serif' font-size="30.16" fill="#000">-20</text>
<path d="M1130.5,995.29 L1131.59,997.02 L1133.06,997.64 L1133.87,1000.19 L1135.45,998.54 L1136.48,999.51 L1137.54,999.15 L1138.79,999.31 L1139.71,1001.96 L1141.17,1002.43 L1142.65,1002.45 L1143.66,1001.58 L1144.62,1003.11 L1145.6,1003.77 L1146.81,1003.96 L1148.2,1005.19 L1149.8,1006.09 L1151.4,1004.48 L1152.77,1008.17 L1153.38,1008.65 L1154.32,1006.98 L1155.38,1006.15 L1156.8,1009.72 L1158.1,1007.45 L1158.77,1009.82 L1159.5,1008.75 L1160.57,1008.2 L1161.24,1011.87 L1162.69,1009.04 L1164.02,1012.1 L1165.44,1012.04 L1166.63,1011.76 L1168.14,1012.3 L1169.51,1013.27 L1171.12,1013.37 L1172.44,1012.61 L1173.73,1011.79 L1174.83,1010.93 L1175.74,1013.19 L1177.03,1012.09 L1178.34,1010.15 L1178.98,1008.62 L1180.19,1011.05 L1181.7,1009.96 L1182.85,1007.89 L1184.32,1008.72 L1185.49,1008.18 L1186.66,1010.79 L1188.12,1007.21 L1188.72,1008.02 L1189.53,1009.85 L1191.15,1010.31 L1191.81,1009.31 L1193.02,1008.48 L1194.63,1007.38 L1195.78,1009.64 L1196.67,1008.17 L1197.71,1009.81 L1198.6,1008.75 L1199.48,1008.91 L1200.3,1007.87 L1201.55,1009.06 L1202.27,1009.96 L1203.67,1012 L1205.24,1009.63 L1206.78,1011.81 L1208.09,1009.62 L1208.92,1009.3 L1210.06,1012.52 L1210.9,1009.43 L1211.51,1010.82 L1212.5,1011.15 L1213.6,1012.28 L1214.41,1011.73 L1215.58,1013.44 L1216.18,1010.16 L1217.58,1013.48 L1218.54,1012.82 L1220.07,1013.95 L1221.25,1013.22 L1222.18,1012.31 L1223.62,1012.86 L1224.32,1013.5 L1225.36,1014.17 L1226.39,1011.16 L1227.07,1012.97 L1228.44,1010.64 L1229.66,1013.95 L1230.51,1012.51 L1231.95,1013.37 L1233.35,1011.03 L1234.03,1011.41 L1235.65,1008.11 L1236.75,1008.46 L1237.64,1008.19 L1238.9,1007.47 L1240.42,1008.56 L1241.89,1006.51 L1242.62,1007.61 L1243.64,1007.1 L1245.18,1008.95 L1246.44,1008.9 L1246.44,1038.59 L1245.18,1038.5 L1243.64,1037.34 L1242.62,1038.83 L1241.89,1038.1 L1240.42,1039.61 L1238.9,1041.6 L1237.64,1039.85 L1236.75,1041.31 L1235.65,1041.96 L1234.03,1042.56 L1233.35,1043.55 L1231.95,1043.57 L1230.51,1045.46 L1229.66,1046.05 L1228.44,1046.13 L1227.07,1045.07 L1226.39,1045.32 L1225.36,1042.58 L1224.32,1042.98 L1223.62,1045.2 L1222.18,1045.43 L1221.25,1045.77 L1220.07,1043.54 L1218.54,1042.69 L1217.58,1044.27 L1216.18,1043.3 L1215.58,1041.61 L1214.41,1043.21 L1213.6,1043.27 L1212.5,1042.27 L1211.51,1043.83 L1210.9,1041.66 L1210.06,1042.17 L1208.92,1039.85 L1208.09,1041.66 L1206.78,1039.45 L1205.24,1039.05 L1203.67,1038.87 L1202.27,1038.56 L1201.55,1038.36 L1200.3,1040.03 L1199.48,1038.67 L1198.6,1039.25 L1197.71,1037.78 L1196.67,1039.52 L1195.78,1037.15 L1194.63,1038.42 L1193.02,1037.96 L1191.81,1039.39 L1191.15,1038.7 L1189.53,1039.99 L1188.72,1036.96 L1188.12,1038.36 L1186.66,1039.67 L1185.49,1041.54 L1184.32,1039.88 L1182.85,1042.67 L1181.7,1039.44 L1180.19,1042.31 L1178.98,1040.45 L1178.34,1040.29 L1177.03,1040.79 L1175.74,1041.66 L1174.83,1041.5 L1173.73,1044.4 L1172.44,1043.94 L1171.12,1045.01 L1169.51,1044.91 L1168.14,1042.11 L1166.63,1042.45 L1165.44,1043.6 L1164.02,1041.86 L1162.69,1043.42 L1161.24,1041.01 L1160.57,1041.25 L1159.5,1039.61 L1158.77,1040.78 L1158.1,1041.82 L1156.8,1038.25 L1155.38,1040.04 L1154.32,1038.46 L1153.38,1038 L1152.77,1037.99 L1151.4,1036.46 L1149.8,1037.17 L1148.2,1035.07 L1146.81,1037.37 L1145.6,1037.56 L1144.62,1035.32 L1143.66,1034.85 L1142.65,1034.37 L1141.17,1035.06 L1139.71,1032.92 L1138.79,1031.45 L1137.54,1035.09 L1136.48,1033.87 L1135.45,1033.62 L1133.87,1030.22 L1133.06,1030.55 L1131.59,1030.55 L1130.5,1029.45 Z" fill="#262626" stroke="#262626" stroke-width="0.8" stroke-linejoin="bevel"/><path d="M1131.59,998.38 V994.21 M1133.06,1030.52 V1038.19 M1133.87,1030.77 V1035.92 M1135.45,1000.2 V994.87 M1142.65,1033.54 V1040 M1145.6,1034.47 V1043.69 M1153.38,1037.06 V1045.09 M1155.38,1037.76 V1046.27 M1158.1,1038.72 V1048.25 M1158.77,1038.95 V1044.91 M1162.69,1040.33 V1049.65 M1166.63,1041.72 V1048.51 M1169.51,1042.73 V1053 M1169.51,1014.82 V1005.91 M1173.73,1041.99 V1050.98 M1174.83,1012.83 V1007.62 M1182.85,1039.64 V1049.83 M1188.12,1037.76 V1043.45 M1188.72,1010.25 V1005.24 M1191.81,1036.44 V1047.33 M1193.02,1036.01 V1046.49 M1200.3,1037.82 V1046.13 M1200.3,1010.91 V1006.46 M1202.27,1038.41 V1049.11 M1203.67,1011.42 V1004.33 M1205.24,1039.31 V1049.77 M1205.24,1011.65 V1005.76 M1208.09,1040.17 V1049.46 M1211.51,1041.2 V1047.76 M1212.5,1012.75 V1005.58 M1220.07,1042.63 V1049.13 M1222.18,1013.45 V1003.56 M1226.39,1043.42 V1053.87 M1227.07,1043.51 V1050.28 M1228.44,1013.84 V1006.07 M1233.35,1011.93 V1003.08 M1236.75,1040.25 V1047.9 M1238.9,1039.21 V1045.87 M1242.62,1008.33 V1001.99 " stroke="#262626" stroke-width="1.8"/>
<path d="M1277.3,1019.39 L1278.66,1018.38 L1279.85,1016.39 L1281.49,1020.27 L1282.08,1016.19 L1283.21,1018.87 L1284.86,1019.77 L1286.22,1021.58 L1287.85,1022.75 L1288.9,1021.3 L1290.37,1021.29 L1291.54,1024.59 L1292.45,1024.07 L1294,1023.14 L1295.12,1025.34 L1296.7,1025.73 L1298.25,1024.13 L1299.05,1027.42 L1299.87,1024.6 L1300.45,1025.42 L1301.03,1027.21 L1302.34,1025.97 L1303.27,1027.22 L1304.66,1028.1 L1305.99,1027.22 L1306.65,1027.26 L1307.77,1026.17 L1308.34,1028.14 L1309.58,1028.21 L1310.39,1028.12 L1311.82,1029.62 L1312.38,1026.78 L1313.04,1027.58 L1313.93,1029.81 L1315.28,1029.22 L1316.41,1028.38 L1317.53,1031.86 L1318.1,1030.97 L1318.67,1030.08 L1319.3,1029.51 L1320.06,1030.93 L1321.04,1029.22 L1322.65,1031.94 L1323.99,1031.31 L1324.84,1031.57 L1326.41,1033.16 L1327.44,1032.64 L1328.09,1031.34 L1329.63,1034.33 L1330.91,1033.2 L1332.51,1033.78 L1333.34,1034.52 L1334.99,1034.29 L1336.51,1031.88 L1337.84,1035.42 L1338.75,1034.72 L1339.55,1034.3 L1340.8,1031.81 L1342.06,1035.56 L1343.28,1036.14 L1344.05,1035.55 L1345.08,1033.54 L1345.71,1032.53 L1347.09,1034.85 L1347.67,1033.1 L1348.66,1035.81 L1349.63,1034.95 L1350.59,1035.35 L1351.47,1035.9 L1352.11,1036.71 L1353.38,1034.93 L1354.51,1037 L1355.32,1035.35 L1356.28,1035.03 L1357.16,1037.37 L1358.73,1035.05 L1359.69,1035.25 L1360.68,1037.31 L1361.78,1036.83 L1363.29,1037.97 L1364.52,1036.95 L1365.46,1036.2 L1366.4,1035.79 L1367.43,1036.63 L1368.29,1037.08 L1369.07,1035.55 L1369.88,1037.09 L1370.5,1035.22 L1371.19,1036.83 L1372.18,1038.84 L1373.08,1038.22 L1374.71,1038.88 L1375.84,1035.12 L1377.14,1038.66 L1378.07,1035.72 L1379.34,1035.28 L1380.04,1037.11 L1381.16,1037.86 L1381.83,1036.03 L1383.33,1038.8 L1384.06,1035.7 L1385.02,1036.49 L1386.45,1038.54 L1387.84,1039.26 L1389.11,1035.62 L1390.37,1037.95 L1390.98,1038.53 L1391.57,1036.36 L1392.32,1039.28 L1393.2,1036.47 L1394.74,1037.89 L1395.79,1038.27 L1397.34,1036.66 L1398.47,1038.91 L1399.88,1036.22 L1400.64,1035.84 L1401.53,1034.06 L1402.76,1035.22 L1403.54,1035.46 L1404.44,1032.51 L1405.91,1030.98 L1406.87,1031.56 L1407.96,1035.03 L1409.53,1033.18 L1410.86,1034.99 L1411.56,1035.65 L1412.54,1035.45 L1413.99,1034.5 L1414.98,1036.54 L1416.39,1037.34 L1416.97,1037.17 L1418.2,1038.27 L1419.23,1036.77 L1420.82,1038.19 L1421.48,1040.02 L1422.92,1040.97 L1424.39,1037.99 L1425.89,1038.3 L1426.9,1040.89 L1428.36,1040.53 L1429.78,1041.37 L1430.4,1039.04 L1431.26,1040.56 L1432.25,1041.53 L1433.21,1041.78 L1434.24,1041.73 L1434.94,1039.63 L1436.19,1040.45 L1437.2,1039.43 L1438.66,1040.73 L1439.81,1040.59 L1441.29,1040.27 L1442.35,1042.03 L1443.88,1041.37 L1445.12,1040.39 L1446.35,1041.52 L1447.28,1039.4 L1448.38,1042.37 L1449.56,1040.34 L1450.85,1041.19 L1451.79,1040.93 L1452.43,1040.88 L1453.09,1038.89 L1453.69,1039.92 L1455.21,1040.88 L1456.67,1040.57 L1457.77,1040.54 L1458.52,1039.44 L1459.72,1039.38 L1460.45,1039.88 L1461.77,1041.45 L1462.46,1039.19 L1463.23,1039.09 L1464.11,1040.23 L1465.63,1039.81 L1466.26,1040.84 L1466.84,1041.06 L1467.9,1038.96 L1469.13,1040.19 L1469.85,1040.98 L1470.96,1040.92 L1471.9,1040.96 L1473.15,1040.23 L1474.78,1039.83 L1476.39,1037 L1477.87,1035.95 L1479.01,1034.86 L1479.81,1034.95 L1481.08,1035.43 L1482.01,1032.78 L1482.98,1032.73 L1484.52,1030.5 L1485.75,1031.47 L1486.81,1031.12 L1487.98,1033.32 L1488.77,1032.25 L1489.51,1033.01 L1490.82,1036.34 L1491.72,1035.2 L1492.84,1038.24 L1494.31,1039.54 L1495.5,1040 L1497.02,1041.31 L1498.09,1042.85 L1499.72,1043.4 L1501.25,1042.73 L1502.61,1044.23 L1504.15,1043.95 L1505.57,1045 L1506.67,1043.27 L1507.66,1045.16 L1508.54,1045.34 L1509.49,1045.44 L1510.09,1043.63 L1510.79,1044.72 L1511.8,1045.17 L1513.42,1044.75 L1514.97,1044.72 L1516.45,1045.25 L1517.02,1044.75 L1518.31,1045.03 L1519.65,1044.27 L1520.44,1044.38 L1521.63,1043.93 L1522.41,1042.15 L1523.16,1042.14 L1524.43,1041.96 L1525.03,1041.82 L1526.25,1041.55 L1527.26,1042.12 L1528.07,1041.8 L1529.15,1039.96 L1530.17,1039.78 L1531.24,1039.82 L1532.11,1041.03 L1532.7,1038.65 L1533.94,1040.97 L1535.5,1040.08 L1536.64,1037.85 L1537.52,1039.13 L1538.19,1038.64 L1539.38,1038.9 L1540.01,1038.88 L1540.75,1036.25 L1542.39,1035.98 L1543.59,1035.88 L1544.86,1036.39 L1546.2,1037.74 L1547.2,1037.8 L1548.2,1036.2 L1549.83,1038.5 L1551.34,1038.68 L1552.36,1038.74 L1553.82,1039.49 L1554.75,1037.06 L1555.42,1037.78 L1557,1037.81 L1558.61,1040.32 L1559.87,1039.34 L1560.61,1038.44 L1561.53,1040.41 L1562.51,1041.17 L1563.71,1041.34 L1564.91,1039.4 L1566.13,1041.11 L1567.26,1040.05 L1568.6,1041.53 L1569.16,1042.11 L1570.16,1041.15 L1571.54,1042.88 L1572.33,1043.01 L1573.89,1041.69 L1575.47,1043.3 L1576.87,1041.75 L1578.04,1042.02 L1579.16,1040.97 L1579.8,1041.69 L1581.36,1042.52 L1582.6,1042.52 L1583.44,1040.08 L1584.84,1040.86 L1585.69,1040.67 L1586.44,1041.66 L1587.97,1040.88 L1588.82,1041.83 L1589.83,1039.19 L1590.82,1040.77 L1591.63,1041.14 L1593.26,1039.48 L1594.82,1039.95 L1595.75,1040.32 L1596.88,1038.91 L1597.76,1039.23 L1598.68,1040.4 L1599.44,1040.15 L1600.13,1038.4 L1600.72,1039.74 L1602.21,1040.11 L1603.64,1039.16 L1604.82,1037.17 L1605.91,1039.48 L1606.89,1038.61 L1608.08,1038.57 L1609.52,1036.69 L1610.57,1037.5 L1611.34,1037.53 L1612.59,1036.93 L1613.94,1036.79 L1614.68,1038.33 L1615.26,1037.76 L1616.26,1037.49 L1617.5,1039.19 L1618.64,1038.33 L1619.61,1038.61 L1621.03,1038.4 L1622.5,1038.33 L1623.83,1037.96 L1625.38,1038.24 L1626.17,1036.89 L1626.91,1037.88 L1627.78,1037.25 L1628.6,1037.01 L1629.51,1037.05 L1630.33,1038.96 L1631.65,1038.54 L1632.59,1038.47 L1633.82,1038.33 L1635.08,1038.02 L1635.98,1037.39 L1637.54,1037.93 L1638.56,1035.47 L1639.5,1036.56 L1640.18,1034.67 L1641.05,1034.61 L1642.1,1034.22 L1642.92,1035.5 L1643.97,1033.24 L1645.09,1034.15 L1646.47,1033.65 L1647.62,1032.73 L1648.61,1034.95 L1649.61,1035.31 L1650.47,1032.75 L1651.55,1033.2 L1652.39,1034.33 L1653.75,1032.95 L1654.32,1035.47 L1655.71,1035.41 L1657.12,1034.13 L1657.91,1036.14 L1658.74,1035.27 L1659.71,1035.07 L1661,1034.7 L1662.11,1035.16 L1663.27,1037 L1664.15,1036.57 L1665.03,1034.87 L1666.04,1035.83 L1666.93,1035.28 L1668.23,1035.41 L1669.55,1036.7 L1671.07,1035.69 L1672.32,1036.71 L1673.1,1034.29 L1674.16,1036.6 L1674.98,1035.85 L1676.57,1035.35 L1677.29,1035.2 L1678.84,1035.65 L1680,1035.49 L1680.96,1035.88 L1682.28,1035.38 L1683.54,1034.58 L1684.3,1035.49 L1684.3,1055.45 L1683.54,1056.01 L1682.28,1057.14 L1680.96,1056.39 L1680,1057.9 L1678.84,1058.12 L1677.29,1059.43 L1676.57,1058.05 L1674.98,1060.3 L1674.16,1060 L1673.1,1060.28 L1672.32,1059.67 L1671.07,1059.68 L1669.55,1062.36 L1668.23,1063.42 L1666.93,1062.47 L1666.04,1063.78 L1665.03,1061.45 L1664.15,1063.46 L1663.27,1063.11 L1662.11,1061.21 L1661,1062.55 L1659.71,1060.56 L1658.74,1059.63 L1657.91,1060.67 L1657.12,1059.36 L1655.71,1059.39 L1654.32,1059.19 L1653.75,1060.26 L1652.39,1057.55 L1651.55,1057.85 L1650.47,1057.12 L1649.61,1058.38 L1648.61,1058.4 L1647.62,1057.66 L1646.47,1057.55 L1645.09,1056.36 L1643.97,1056.08 L1642.92,1057.14 L1642.1,1056.92 L1641.05,1059.79 L1640.18,1058.59 L1639.5,1059.48 L1638.56,1060.71 L1637.54,1060.36 L1635.98,1060.57 L1635.08,1061.76 L1633.82,1062 L1632.59,1061.11 L1631.65,1062.68 L1630.33,1061.44 L1629.51,1060.6 L1628.6,1060.51 L1627.78,1062.25 L1626.91,1060.31 L1626.17,1061.28 L1625.38,1062.02 L1623.83,1060.1 L1622.5,1060.58 L1621.03,1059.4 L1619.61,1060 L1618.64,1060.38 L1617.5,1059.27 L1616.26,1061.57 L1615.26,1060.97 L1614.68,1060.44 L1613.94,1059.89 L1612.59,1061.55 L1611.34,1060.8 L1610.57,1061.82 L1609.52,1059.86 L1608.08,1060.22 L1606.89,1060.09 L1605.91,1061.71 L1604.82,1060.83 L1603.64,1060.21 L1602.21,1060.83 L1600.72,1060.6 L1600.13,1060.78 L1599.44,1060.94 L1598.68,1061.37 L1597.76,1061.36 L1596.88,1060.64 L1595.75,1062.17 L1594.82,1062.71 L1593.26,1062.28 L1591.63,1061.81 L1590.82,1061.03 L1589.83,1062.13 L1588.82,1060.84 L1587.97,1063.49 L1586.44,1062.17 L1585.69,1063.05 L1584.84,1063.2 L1583.44,1061.83 L1582.6,1063.56 L1581.36,1064.18 L1579.8,1063.19 L1579.16,1063.41 L1578.04,1063.55 L1576.87,1063.19 L1575.47,1064.09 L1573.89,1064.4 L1572.33,1064.38 L1571.54,1063.9 L1570.16,1062.84 L1569.16,1062.41 L1568.6,1063.16 L1567.26,1063.66 L1566.13,1062.66 L1564.91,1064.11 L1563.71,1062.21 L1562.51,1062.45 L1561.53,1062.35 L1560.61,1062.28 L1559.87,1061.64 L1558.61,1063.87 L1557,1062.47 L1555.42,1064.08 L1554.75,1062.87 L1553.82,1063.55 L1552.36,1062.43 L1551.34,1063.84 L1549.83,1062.1 L1548.2,1064.25 L1547.2,1062.47 L1546.2,1063.11 L1544.86,1062.93 L1543.59,1062.94 L1542.39,1063.9 L1540.75,1064.81 L1540.01,1065.39 L1539.38,1063.12 L1538.19,1063.24 L1537.52,1066.34 L1536.64,1064.16 L1535.5,1066.6 L1533.94,1064.59 L1532.7,1066.83 L1532.11,1064.24 L1531.24,1067.36 L1530.17,1066.41 L1529.15,1067.01 L1528.07,1067.32 L1527.26,1067.52 L1526.25,1064.98 L1525.03,1067.81 L1524.43,1065.8 L1523.16,1067.45 L1522.41,1066.04 L1521.63,1067.64 L1520.44,1066.62 L1519.65,1068.61 L1518.31,1067.68 L1517.02,1066.06 L1516.45,1066.12 L1514.97,1066.82 L1513.42,1066.18 L1511.8,1065.42 L1510.79,1067.22 L1510.09,1066.81 L1509.49,1066.67 L1508.54,1066 L1507.66,1067.59 L1506.67,1066.84 L1505.57,1064.89 L1504.15,1066.51 L1502.61,1066.58 L1501.25,1066.85 L1499.72,1064.2 L1498.09,1065.56 L1497.02,1064.94 L1495.5,1062.41 L1494.31,1060.31 L1492.84,1061.15 L1491.72,1060.42 L1490.82,1059.98 L1489.51,1059.25 L1488.77,1056.09 L1487.98,1057.62 L1486.81,1057.21 L1485.75,1055.39 L1484.52,1055.13 L1482.98,1056.17 L1482.01,1056.12 L1481.08,1058.46 L1479.81,1059.84 L1479.01,1057.82 L1477.87,1060.24 L1476.39,1059.55 L1474.78,1061.35 L1473.15,1060.8 L1471.9,1061.49 L1470.96,1061.04 L1469.85,1064.06 L1469.13,1062 L1467.9,1064.58 L1466.84,1064.37 L1466.26,1063.58 L1465.63,1062.45 L1464.11,1064.32 L1463.23,1064.8 L1462.46,1064.05 L1461.77,1063.8 L1460.45,1065.31 L1459.72,1064.27 L1458.52,1064.74 L1457.77,1066.78 L1456.67,1065.5 L1455.21,1066.39 L1453.69,1067.11 L1453.09,1068.79 L1452.43,1067.71 L1451.79,1066.76 L1450.85,1068.15 L1449.56,1067.65 L1448.38,1067.23 L1447.28,1067.73 L1446.35,1067.62 L1445.12,1066.68 L1443.88,1067.76 L1442.35,1067.4 L1441.29,1067.72 L1439.81,1067.64 L1438.66,1069.96 L1437.2,1069.29 L1436.19,1069.18 L1434.94,1069.98 L1434.24,1067.23 L1433.21,1068.03 L1432.25,1069.62 L1431.26,1069.88 L1430.4,1069.39 L1429.78,1068.63 L1428.36,1069.02 L1426.9,1069.49 L1425.89,1068.14 L1424.39,1067.66 L1422.92,1068.19 L1421.48,1068.55 L1420.82,1068.56 L1419.23,1068.49 L1418.2,1065.99 L1416.97,1068.93 L1416.39,1066.66 L1414.98,1068.83 L1413.99,1065.42 L1412.54,1067.47 L1411.56,1067.31 L1410.86,1067.86 L1409.53,1065.81 L1407.96,1064.74 L1406.87,1065.96 L1405.91,1065.87 L1404.44,1065.38 L1403.54,1067.26 L1402.76,1065 L1401.53,1066.31 L1400.64,1068.05 L1399.88,1067.13 L1398.47,1068.29 L1397.34,1067.91 L1395.79,1068.82 L1394.74,1067.82 L1393.2,1066.38 L1392.32,1065.85 L1391.57,1069.22 L1390.98,1066.54 L1390.37,1066.89 L1389.11,1067.71 L1387.84,1069.05 L1386.45,1067.87 L1385.02,1068.49 L1384.06,1067.05 L1383.33,1067.5 L1381.83,1070.23 L1381.16,1067.03 L1380.04,1070.34 L1379.34,1067.06 L1378.07,1070.16 L1377.14,1070.51 L1375.84,1070.5 L1374.71,1067.62 L1373.08,1068.73 L1372.18,1069.63 L1371.19,1067.81 L1370.5,1067.81 L1369.88,1069.94 L1369.07,1069.63 L1368.29,1070.77 L1367.43,1070.45 L1366.4,1067.66 L1365.46,1067.79 L1364.52,1070.02 L1363.29,1068.44 L1361.78,1067.67 L1360.68,1070.27 L1359.69,1068.38 L1358.73,1071.39 L1357.16,1067.92 L1356.28,1070.55 L1355.32,1070.96 L1354.51,1068.54 L1353.38,1068.39 L1352.11,1070.77 L1351.47,1070.01 L1350.59,1070.49 L1349.63,1070.91 L1348.66,1068.77 L1347.67,1068.95 L1347.09,1069.32 L1345.71,1069.98 L1345.08,1069.5 L1344.05,1069.21 L1343.28,1067.75 L1342.06,1071.34 L1340.8,1069.12 L1339.55,1069.15 L1338.75,1067.87 L1337.84,1067.49 L1336.51,1068.09 L1334.99,1067.51 L1333.34,1067.69 L1332.51,1069.12 L1330.91,1067.31 L1329.63,1066.15 L1328.09,1064.33 L1327.44,1064.55 L1326.41,1067.05 L1324.84,1065.96 L1323.99,1066.32 L1322.65,1067.49 L1321.04,1066.76 L1320.06,1065.44 L1319.3,1065.4 L1318.67,1065.14 L1318.1,1066.39 L1317.53,1064.09 L1316.41,1066.16 L1315.28,1064.16 L1313.93,1065.26 L1313.04,1065.04 L1312.38,1064.15 L1311.82,1064.74 L1310.39,1064.54 L1309.58,1061.17 L1308.34,1064.71 L1307.77,1060.98 L1306.65,1061.17 L1305.99,1063.96 L1304.66,1060.73 L1303.27,1061.22 L1302.34,1064.21 L1301.03,1064.11 L1300.45,1063.34 L1299.87,1060.05 L1299.05,1063.42 L1298.25,1060.4 L1296.7,1063.19 L1295.12,1060.5 L1294,1058.38 L1292.45,1061.43 L1291.54,1058.5 L1290.37,1057.3 L1288.9,1058.58 L1287.85,1059.73 L1286.22,1056.25 L1284.86,1058.45 L1283.21,1056.83 L1282.08,1054.85 L1281.49,1054.01 L1279.85,1053.19 L1278.66,1052.75 L1277.3,1049.25 Z" fill="#000000" stroke="#000000" stroke-width="0.8" stroke-linejoin="bevel"/><path d="M1277.3,1050 V1056.36 M1282.08,1053.6 V1064.68 M1283.21,1054.53 V1064.73 M1283.21,1019.66 V1012.6 M1295.12,1059.82 V1068.14 M1298.25,1060.42 V1075.86 M1300.45,1027.14 V1017.41 M1301.03,1060.85 V1078.87 M1301.03,1027.28 V1022.18 M1302.34,1027.59 V1023.37 M1303.27,1061.2 V1071.6 M1303.27,1027.8 V1021.11 M1306.65,1061.73 V1076.09 M1307.77,1061.91 V1076.61 M1308.34,1062 V1067.53 M1308.34,1029 V1024.42 M1312.38,1062.63 V1079.21 M1313.04,1062.73 V1076.07 M1315.28,1030.63 V1024.12 M1317.53,1063.44 V1084.18 M1318.1,1063.53 V1081.98 M1318.67,1031.43 V1023.89 M1319.3,1031.58 V1023.05 M1321.04,1063.99 V1082.59 M1326.41,1065.04 V1077.86 M1328.09,1065.37 V1077.03 M1328.09,1033.09 V1028.58 M1329.63,1065.67 V1075.41 M1330.91,1033.53 V1026.29 M1334.99,1066.71 V1078.77 M1334.99,1034.17 V1026.6 M1343.28,1068.33 V1086.38 M1344.05,1068.48 V1086.35 M1344.05,1035.59 V1027.91 M1345.08,1035.75 V1025.95 M1347.09,1068.98 V1078.26 M1347.67,1068.96 V1085.97 M1348.66,1036.15 V1031.18 M1349.63,1068.89 V1082.8 M1353.38,1068.74 V1083.87 M1355.32,1068.66 V1088.99 M1355.32,1036.67 V1027.76 M1356.28,1068.63 V1080.94 M1356.28,1036.75 V1030.1 M1358.73,1068.53 V1076.56 M1359.69,1068.49 V1086.43 M1364.52,1037.39 V1027.65 M1365.46,1068.27 V1088.64 M1365.46,1037.47 V1033.3 M1368.29,1068.16 V1087.98 M1368.29,1037.69 V1032.83 M1369.07,1068.13 V1078.61 M1371.19,1068.04 V1085.33 M1375.84,1038.14 V1028.51 M1377.14,1067.62 V1085.39 M1377.14,1038.19 V1033.55 M1378.07,1038.23 V1028.4 M1379.34,1067.45 V1080.15 M1380.04,1067.39 V1087.09 M1381.16,1067.3 V1080.18 M1381.16,1038.35 V1033.65 M1381.83,1067.25 V1078.32 M1389.11,1066.68 V1074.79 M1399.88,1065.73 V1078.3 M1403.54,1065.25 V1084.18 M1403.54,1035.27 V1029.4 M1404.44,1065.14 V1077.19 M1405.91,1065.05 V1072.45 M1407.96,1065.28 V1075.06 M1410.86,1065.6 V1071.59 M1412.54,1065.79 V1074.37 M1413.99,1037.32 V1029.08 M1416.97,1066.28 V1076.43 M1418.2,1066.42 V1080.35 M1418.2,1038.96 V1030.94 M1422.92,1040.81 V1034.77 M1426.9,1067 V1081.49 M1428.36,1041.19 V1035.71 M1429.78,1041.25 V1033.67 M1430.4,1067 V1078.48 M1434.24,1041.42 V1033.86 M1438.66,1067 V1085.44 M1439.81,1067 V1083.39 M1443.88,1041.8 V1034.21 M1450.85,1066.49 V1078.77 M1450.85,1041.93 V1032.27 M1451.79,1066.23 V1084.57 M1455.21,1065.3 V1080.09 M1455.21,1041.76 V1035.94 M1460.45,1041.55 V1036.36 M1462.46,1063.3 V1069.65 M1463.23,1041.44 V1032.18 M1464.11,1062.85 V1083.18 M1464.11,1041.41 V1032.58 M1465.63,1062.43 V1069.8 M1466.84,1041.3 V1033.78 M1467.9,1061.81 V1079.35 M1467.9,1041.26 V1035.89 M1469.85,1061.28 V1067.93 M1471.9,1060.71 V1074.56 M1471.9,1041.1 V1037 M1473.15,1041.05 V1032.63 M1474.78,1059.85 V1065.87 M1479.81,1057.23 V1069.22 M1482.01,1035.12 V1027.01 M1482.98,1055.58 V1064.87 M1484.52,1033.16 V1025.19 M1485.75,1054.13 V1067.17 M1486.81,1054.61 V1065.12 M1489.51,1056.66 V1068.48 M1489.51,1035.46 V1028.93 M1490.82,1057.65 V1075.37 M1491.72,1058.33 V1067.44 M1494.31,1060.3 V1078.18 M1495.5,1061.19 V1067.35 M1495.5,1041.35 V1031.79 M1498.09,1063.16 V1081.19 M1501.25,1045.11 V1038.01 M1502.61,1045.18 V1037.81 M1506.67,1064.78 V1070.19 M1507.66,1045.44 V1039.5 M1508.54,1045.49 V1041.2 M1510.09,1065.14 V1076.27 M1510.79,1045.61 V1036.87 M1511.8,1045.66 V1039.46 M1514.97,1065.65 V1070.77 M1514.97,1045.83 V1037.5 M1516.45,1065.81 V1071.26 M1517.02,1045.93 V1037.95 M1518.31,1066 V1085.18 M1519.65,1065.83 V1074.67 M1520.44,1065.74 V1085.17 M1520.44,1045.3 V1035.56 M1522.41,1065.49 V1072.18 M1523.16,1065.4 V1083.5 M1530.17,1064.53 V1071.74 M1531.24,1041.74 V1037.05 M1532.11,1041.45 V1032.42 M1533.94,1040.85 V1031.39 M1537.52,1039.67 V1035.63 M1547.2,1062.35 V1077.89 M1549.83,1039.03 V1030.88 M1552.36,1061.62 V1076.87 M1552.36,1039.38 V1034.14 M1553.82,1039.59 V1032.6 M1555.42,1061.18 V1070.44 M1559.87,1061.17 V1073.54 M1560.61,1061.2 V1074.93 M1560.61,1040.81 V1035.69 M1562.51,1041.21 V1035.71 M1563.71,1061.36 V1079.29 M1571.54,1061.77 V1069.37 M1582.6,1042.95 V1033.95 M1585.69,1060.97 V1079.83 M1585.69,1042.46 V1038.33 M1587.97,1060.74 V1072.32 M1587.97,1042.1 V1036.24 M1589.83,1060.54 V1074.06 M1591.63,1060.35 V1076.29 M1593.26,1060.18 V1069.96 M1594.82,1060.02 V1067.98 M1595.75,1059.96 V1080.04 M1595.75,1040.92 V1033.92 M1598.68,1059.81 V1071.56 M1603.64,1059.55 V1074.18 M1605.91,1059.43 V1073.28 M1609.52,1059.24 V1067.16 M1610.57,1059.19 V1068.47 M1610.57,1039.38 V1031.2 M1615.26,1059.06 V1077.31 M1616.26,1059.11 V1064.17 M1617.5,1059.17 V1079.58 M1617.5,1039.17 V1034.28 M1618.64,1059.23 V1070.76 M1619.61,1059.28 V1071.73 M1626.91,1059.66 V1071.27 M1626.91,1039.66 V1031.04 M1627.78,1059.71 V1075.96 M1627.78,1039.71 V1035.47 M1629.51,1059.8 V1073.58 M1632.59,1039.96 V1033.66 M1635.98,1058.99 V1073.85 M1637.54,1058.38 V1063.75 M1638.56,1037.99 V1028.46 M1639.5,1037.62 V1032.01 M1640.18,1037.35 V1028.08 M1641.05,1057.01 V1063.39 M1642.92,1036.28 V1026.59 M1643.97,1055.87 V1075.2 M1643.97,1035.87 V1031.44 M1647.62,1055.52 V1071.14 M1647.62,1035.15 V1028.65 M1653.75,1057.75 V1069.96 M1657.12,1058.98 V1072.5 M1657.91,1036.22 V1031.91 M1661,1060.4 V1071.87 M1664.15,1061.54 V1075.28 M1666.04,1061.73 V1080.06 M1666.93,1061.36 V1076.2 M1669.55,1060.26 V1080.77 M1674.16,1058.33 V1071.77 M1676.57,1057.32 V1076.42 M1678.84,1036.3 V1031.66 M1680,1055.88 V1061.6 M1684.3,1054.08 V1071.72 " stroke="#000000" stroke-width="1.8"/>
<path d="M1098,1259.9 C1098.83,1258.08 1101.35,1249.82 1103,1249 C1104.65,1248.18 1106.08,1255.33 1107.9,1255 C1109.72,1254.67 1111.9,1247.67 1113.9,1247 C1115.9,1246.33 1116.25,1253.33 1119.9,1251 C1123.55,1248.67 1131.48,1238.67 1135.8,1233 C1140.12,1227.33 1141.15,1223.97 1145.8,1217 C1150.45,1210.03 1158.4,1199.15 1163.7,1191.2 C1169,1183.25 1174.28,1175.62 1177.6,1169.3 C1180.92,1162.98 1181.6,1156.62 1183.6,1153.3 C1185.6,1149.98 1186.6,1152.05 1189.6,1149.4 C1192.6,1146.75 1196.95,1144.05 1201.6,1137.4 C1206.25,1130.75 1212.87,1115.32 1217.5,1109.5 C1222.13,1103.68 1224.75,1105.15 1229.4,1102.5 C1234.05,1099.85 1239.42,1097.08 1245.4,1093.6 C1251.38,1090.12 1259.92,1085.7 1265.3,1081.6 C1270.68,1077.5 1272.65,1071.32 1277.7,1069 C1282.75,1066.68 1290.07,1069.18 1295.6,1067.7 C1301.13,1066.22 1305.58,1061.15 1310.9,1060.1 C1316.22,1059.05 1322.6,1061.52 1327.5,1061.4 C1332.4,1061.28 1335.4,1059.08 1340.3,1059.4 C1345.2,1059.72 1351.57,1063.3 1356.9,1063.3 C1362.23,1063.3 1365.48,1060.05 1372.3,1059.4 C1379.12,1058.75 1391.42,1059.72 1397.8,1059.4 C1404.18,1059.08 1405.27,1057.7 1410.6,1057.5 C1415.93,1057.3 1423.4,1057.55 1429.8,1058.2 C1436.2,1058.85 1442.62,1059.6 1449,1061.4 C1455.38,1063.2 1462.93,1067.05 1468.1,1069 C1473.27,1070.95 1473.75,1070.93 1480,1073.1 C1486.25,1075.27 1499.22,1079.02 1505.6,1082 C1511.98,1084.98 1513.62,1088.87 1518.3,1091 C1522.98,1093.13 1528.37,1092.67 1533.7,1094.8 C1539.03,1096.93 1544.77,1101.88 1550.3,1103.8 C1555.83,1105.72 1560.5,1107.15 1566.9,1106.3 C1573.3,1105.45 1581.88,1100.83 1588.7,1098.7 C1595.52,1096.57 1603.77,1093.93 1607.8,1093.5 C1611.83,1093.07 1610.77,1096.3 1612.9,1096.1 C1615.03,1095.9 1617.18,1094.65 1620.6,1092.3 C1624.02,1089.95 1629.13,1084.57 1633.4,1082 C1637.67,1079.43 1640.87,1078.6 1646.2,1076.9 C1651.53,1075.2 1659.02,1071.68 1665.4,1071.8 C1671.78,1071.92 1681.32,1076.63 1684.5,1077.6" fill="none" stroke="#ff0000" stroke-width="4.2" stroke-dasharray="11 3 5 3"/>
<path d="M1278.8,1140.5 H1355" stroke="#ff0000" stroke-width="3.6" stroke-dasharray="16.6 12.2 3.6 12.3"/>
<path d="M1278.8,1191.9 H1354" stroke="#0a0a1e" stroke-width="3.6"/>
<text transform="translate(1359.17,1156.2) scale(1,0.99)" font-family='"Liberation Serif", serif' font-size="43.47" fill="#000">Simulated</text>
<text transform="translate(1361.5,1210.2) scale(1,0.95)" font-family='"Liberation Serif", serif' font-size="43.33" fill="#000">Measured</text>
<text transform="translate(975.5,1264.7) scale(1.07,1) rotate(-90)" font-family='"Liberation Serif", serif' font-size="45.04" fill="#000">Transmittivity</text>
<text transform="translate(940.24,984.9) scale(1,1.02)" font-family='"Liberation Serif", serif' font-weight="bold" font-size="50.73" fill="#000">F</text>
<text transform="translate(1205.2,1393.6) scale(1,0.99)" font-family='"Liberation Serif", serif' font-size="49.23" fill="#262626">Wavelength (</text>
<text transform="translate(1473.8,1393.6) scale(1,0.79)" font-family='"Liberation Serif", serif' font-style="italic" font-size="57.66" fill="#262626">μ</text>
<text transform="translate(1502.59,1393.6) scale(1,0.96)" font-family='"Liberation Serif", serif' font-size="50.48" fill="#262626">m)</text>
<defs><linearGradient id="gCB" x1="0" y1="0" x2="0" y2="1"><stop offset="0" stop-color="#f9fb0e"/><stop offset="0.06" stop-color="#f5e41d"/><stop offset="0.12" stop-color="#fcce2e"/><stop offset="0.19" stop-color="#f8bb44"/><stop offset="0.25" stop-color="#d9ba56"/><stop offset="0.31" stop-color="#b7bd64"/><stop offset="0.38" stop-color="#92bf73"/><stop offset="0.44" stop-color="#65be86"/><stop offset="0.5" stop-color="#38b99e"/><stop offset="0.56" stop-color="#15b1b4"/><stop offset="0.62" stop-color="#06a7c6"/><stop offset="0.69" stop-color="#0998d1"/><stop offset="0.75" stop-color="#1485d4"/><stop offset="0.81" stop-color="#0d75dc"/><stop offset="0.88" stop-color="#0363e1"/><stop offset="0.94" stop-color="#3243ba"/><stop offset="1" stop-color="#352a87"/></linearGradient>
<clipPath id="cIns"><rect x="1322" y="28.4" width="259" height="244.1"/></clipPath>
<filter id="fIns" x="-5%" y="-5%" width="110%" height="110%"><feGaussianBlur stdDeviation="3.2"/></filter>
<linearGradient id="gTopStrip" x1="0" y1="0" x2="1" y2="0"><stop offset="0" stop-color="#118ed2"/><stop offset="0.35" stop-color="#06a4c9"/><stop offset="0.6" stop-color="#5bbd8a"/><stop offset="0.75" stop-color="#d9ba56"/><stop offset="0.88" stop-color="#fec535"/><stop offset="1" stop-color="#fbcf2c"/></linearGradient>
<linearGradient id="gBlue" x1="0" y1="0" x2="1" y2="0"><stop offset="0" stop-color="#343eaf"/><stop offset="0.6" stop-color="#1a56d6"/><stop offset="0.85" stop-color="#0c94d1"/><stop offset="1" stop-color="#38b99e"/></linearGradient>
<linearGradient id="gCyan" x1="0" y1="0" x2="1" y2="0"><stop offset="0" stop-color="#0c94d1"/><stop offset="0.7" stop-color="#09abbf"/><stop offset="1" stop-color="#38b99e"/></linearGradient>
<linearGradient id="gBot" x1="0" y1="0" x2="0" y2="1"><stop offset="0" stop-color="#1cb2b0"/><stop offset="0.3" stop-color="#137dd8"/><stop offset="0.65" stop-color="#284cc8"/><stop offset="1" stop-color="#36369f"/></linearGradient>
<linearGradient id="gBotR" x1="0" y1="0" x2="1" y2="0"><stop offset="0" stop-color="#38b99e" stop-opacity="0"/><stop offset="0.6" stop-color="#38b99e" stop-opacity="0"/><stop offset="1" stop-color="#38b99e" stop-opacity="0.9"/></linearGradient></defs>
<g clip-path="url(#cIns)"><g filter="url(#fIns)"><rect x="1312" y="18.4" width="279" height="264.1" fill="#f6f313"/><path d="M1312,70 L1591,84 L1591,92 L1312,88 Z" fill="#fbcf2c"/><path d="M1312,85 L1591,92 L1591,100 L1312,98 Z" fill="#f6de22" opacity="0.6"/><path d="M1312,205 L1591,200 L1591,215 L1312,220 Z" fill="#f6de22" opacity="0.55"/><path d="M1312,220 L1591,213 L1591,233 L1312,242 Z" fill="#fbcf2c"/><path d="M1312,60 L1330,60 L1330,250 L1312,250 Z" fill="#f8d627" opacity="0.7"/><path d="M1312,45 L1591,50 L1591,80 L1312,68 Z" fill="url(#gCyan)"/><path d="M1312,18 L1591,18 L1591,58 L1500,54 L1312,52 Z" fill="url(#gTopStrip)"/><path d="M1312,44 C1320,44.5 1342,45.67 1360,47 C1378,48.33 1400,50.17 1420,52 C1440,53.83 1461.67,56.17 1480,58 C1498.33,59.83 1515.83,61.5 1530,63 C1544.17,64.5 1556.67,65.83 1565,67 C1573.33,68.17 1580,69 1580,70 C1580,71 1573.33,72.83 1565,73 C1556.67,73.17 1544.17,71.83 1530,71 C1515.83,70.17 1498.33,69.17 1480,68 C1461.67,66.83 1440,65.17 1420,64 C1400,62.83 1378,61.67 1360,61 C1342,60.33 1320,60.17 1312,60" fill="url(#gBlue)"/><path d="M1312,48 C1323.33,48.5 1357,49.67 1380,51 C1403,52.33 1428.33,54.17 1450,56 C1471.67,57.83 1494.17,60.33 1510,62 C1525.83,63.67 1545,65.33 1545,66 C1545,66.67 1525.83,66.5 1510,66 C1494.17,65.5 1471.67,64.33 1450,63 C1428.33,61.67 1403,59.17 1380,58 C1357,56.83 1323.33,56.33 1312,56" fill="#363297" opacity="0.8"/><path d="M1312,244 L1591,234 L1591,282.5 L1312,282.5 Z" fill="url(#gBot)"/><path d="M1312,244 L1591,234 L1591,282.5 L1312,282.5 Z" fill="url(#gBotR)"/><path d="M1520,236 L1591,232 L1591,262 L1545,258 Z" fill="#1cb2b0" opacity="0.75"/><path d="M1560,262 L1591,255 L1591,282.5 L1560,282.5 Z" fill="#80bf7a" opacity="0.7"/></g></g>
<path d="M1322,68.8 C1331.67,69.67 1358.67,72.22 1380,74 C1401.33,75.78 1426.67,77.92 1450,79.5 C1473.33,81.08 1499.17,82.75 1520,83.5 C1540.83,84.25 1565.83,83.92 1575,84" fill="none" stroke="#0a0a14" stroke-width="5.5" stroke-dasharray="5.5 6.6"/>
<path d="M1322,241.5 C1331.67,241.25 1358.67,240.75 1380,240 C1401.33,239.25 1426.67,238 1450,237 C1473.33,236 1499.17,234.75 1520,234 C1540.83,233.25 1565.83,232.75 1575,232.5" fill="none" stroke="#0a0a14" stroke-width="5.5" stroke-dasharray="5.5 6.6"/>
<path d="M1316,271 H1322 M1316,204.24 H1322 M1316,149.7 H1322 M1316,103.58 H1322 M1316,63.64 H1322 M1316,28.4 H1322 M1322,272.5 V278.5 M1382.88,272.5 V278.5 M1443.76,272.5 V278.5 M1504.64,272.5 V278.5 M1565.52,272.5 V278.5 " stroke="#3a3a3a" stroke-width="2"/>
<text transform="translate(1305.5,283.3) scale(1,1)" font-family='"Liberation Serif", serif' font-size="36.5" fill="#3a3a3a" text-anchor="end">0.4</text>
<text transform="translate(1305.5,216.54) scale(1,1)" font-family='"Liberation Serif", serif' font-size="36.5" fill="#3a3a3a" text-anchor="end">0.5</text>
<text transform="translate(1305.5,162) scale(1,1)" font-family='"Liberation Serif", serif' font-size="36.5" fill="#3a3a3a" text-anchor="end">0.6</text>
<text transform="translate(1305.5,115.88) scale(1,1)" font-family='"Liberation Serif", serif' font-size="36.5" fill="#3a3a3a" text-anchor="end">0.7</text>
<text transform="translate(1305.5,75.94) scale(1,1)" font-family='"Liberation Serif", serif' font-size="36.5" fill="#3a3a3a" text-anchor="end">0.8</text>
<text transform="translate(1305.5,40.7) scale(1,1)" font-family='"Liberation Serif", serif' font-size="36.5" fill="#3a3a3a" text-anchor="end">0.9</text>
<text transform="translate(1322,323) scale(1,1)" font-family='"Liberation Serif", serif' font-size="36.5" fill="#3a3a3a" text-anchor="middle">0</text>
<text transform="translate(1382.88,323) scale(1,1)" font-family='"Liberation Serif", serif' font-size="36.5" fill="#3a3a3a" text-anchor="middle">20</text>
<text transform="translate(1443.76,323) scale(1,1)" font-family='"Liberation Serif", serif' font-size="36.5" fill="#3a3a3a" text-anchor="middle">40</text>
<text transform="translate(1504.64,323) scale(1,1)" font-family='"Liberation Serif", serif' font-size="36.5" fill="#3a3a3a" text-anchor="middle">60</text>
<text transform="translate(1565.52,323) scale(1,1)" font-family='"Liberation Serif", serif' font-size="36.5" fill="#3a3a3a" text-anchor="middle">80</text>
<text transform="translate(1244.8,297.3) scale(0.97,1) rotate(-90)" font-family='"Liberation Serif", serif' font-size="42.19" fill="#3a3a3a">Wavelength (</text>
<text transform="translate(1244.8,71.7) scale(0.86,1) rotate(-90)" font-family='"Liberation Serif", serif' font-style="italic" font-size="48.72" fill="#3a3a3a">μ</text>
<text transform="translate(1244.8,47.65) scale(0.96,1) rotate(-90)" font-family='"Liberation Serif", serif' font-size="42.67" fill="#3a3a3a">m)</text>
<text transform="translate(1391.49,362.2) scale(1,0.9)" font-family='"Liberation Serif", serif' font-size="41.03" fill="#000">AOI (deg)</text>
<text transform="translate(1375.77,169) scale(1,0.9)" font-family='"Liberation Serif", serif' font-size="41.12" fill="#000">Bandgap</text>
<rect x="1594.8" y="29" width="23.4" height="243.5" fill="url(#gCB)" stroke="#4a4020" stroke-width="1.3"/>
<text transform="translate(1623.07,52.1) scale(1,1.36)" font-family='"Liberation Serif", serif' font-size="30.99" fill="#000">1</text>
<text transform="translate(1619.92,286.5) scale(1,0.83)" font-family='"Liberation Serif", serif' font-size="41.9" fill="#000">0</text>
</svg></body></html>
